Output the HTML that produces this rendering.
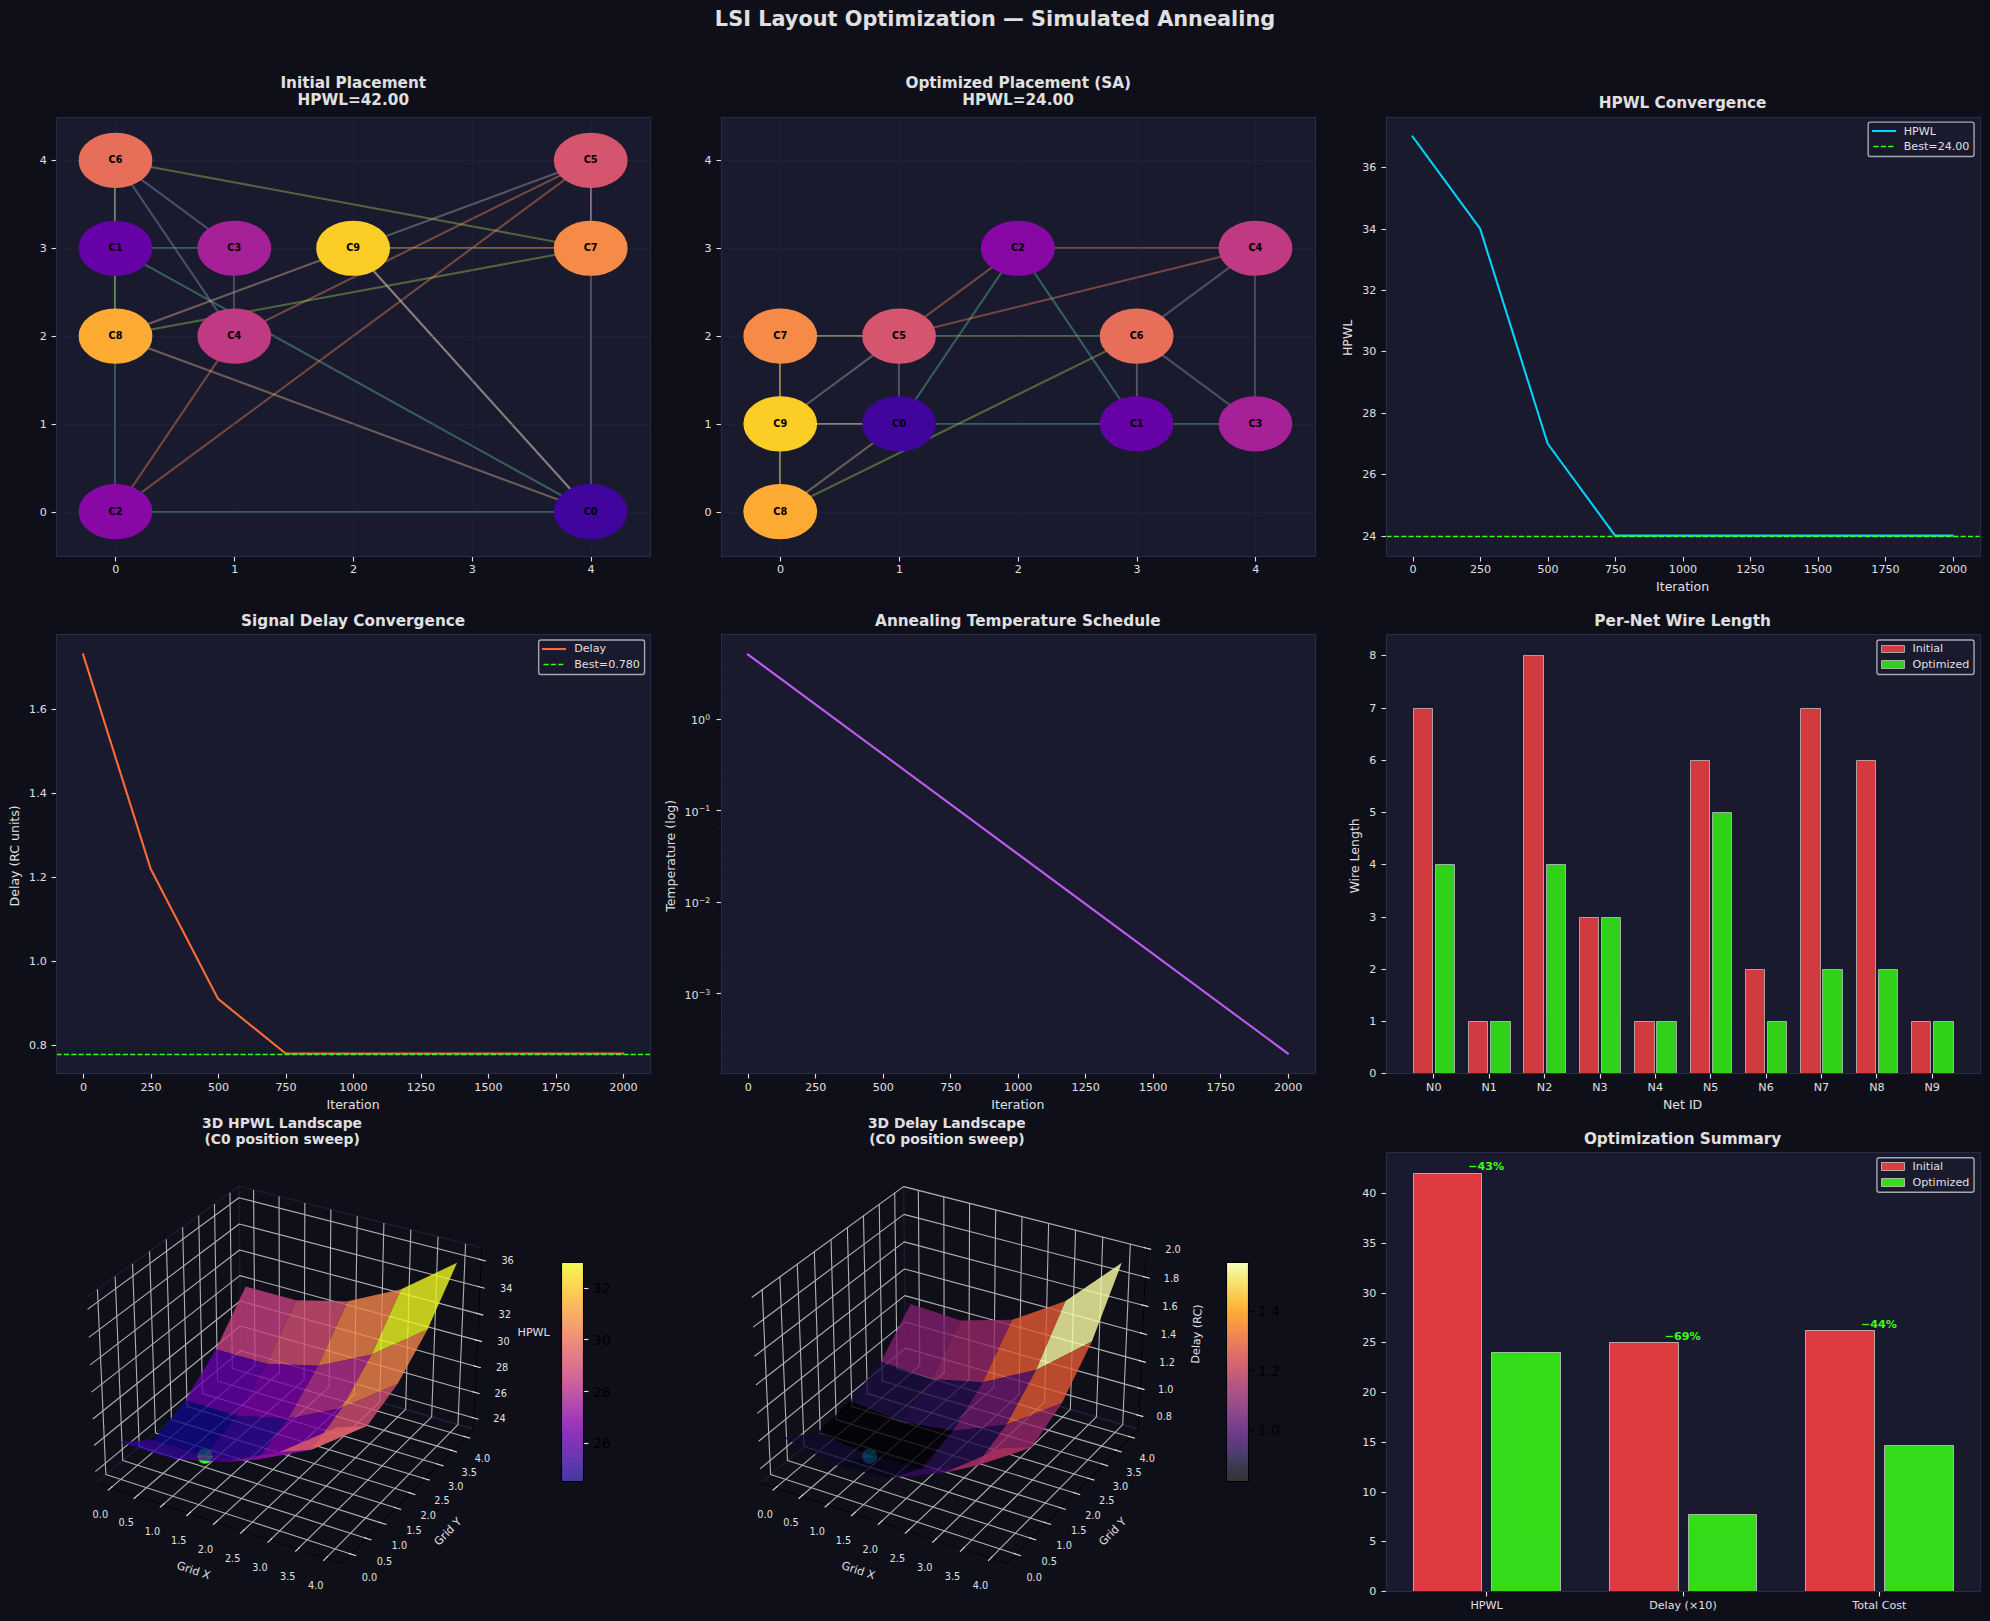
<!DOCTYPE html>
<html lang="en"><head><meta charset="utf-8"><title>LSI Layout Optimization — Simulated Annealing</title>
<style>html,body{margin:0;padding:0;background:#0f0f1a;}body{width:1990px;height:1621px;overflow:hidden;font-family:"DejaVu Sans","Liberation Sans",sans-serif;}svg{display:block;}</style>
</head><body>
<svg width="1990" height="1621" viewBox="0 0 1432.8 1167.12">
<defs><linearGradient id="cbgrad1" x1="0" y1="1" x2="0" y2="0"><stop offset="0.00228" stop-color="#100788" /><stop offset="0.00685" stop-color="#130789" /><stop offset="0.01142" stop-color="#16078a" /><stop offset="0.01598" stop-color="#19068c" /><stop offset="0.02055" stop-color="#1b068d" /><stop offset="0.02511" stop-color="#1d068e" /><stop offset="0.02968" stop-color="#220690" /><stop offset="0.03425" stop-color="#240691" /><stop offset="0.03881" stop-color="#260591" /><stop offset="0.04338" stop-color="#280592" /><stop offset="0.04795" stop-color="#2a0593" /><stop offset="0.05251" stop-color="#2c0594" /><stop offset="0.05708" stop-color="#2f0596" /><stop offset="0.06164" stop-color="#310597" /><stop offset="0.06621" stop-color="#330597" /><stop offset="0.07078" stop-color="#350498" /><stop offset="0.07534" stop-color="#370499" /><stop offset="0.07991" stop-color="#38049a" /><stop offset="0.08447" stop-color="#3c049b" /><stop offset="0.08904" stop-color="#3e049c" /><stop offset="0.09361" stop-color="#3f049c" /><stop offset="0.09817" stop-color="#41049d" /><stop offset="0.10274" stop-color="#43039e" /><stop offset="0.10731" stop-color="#44039e" /><stop offset="0.11187" stop-color="#48039f" /><stop offset="0.11644" stop-color="#4903a0" /><stop offset="0.12100" stop-color="#4b03a1" /><stop offset="0.12557" stop-color="#4c02a1" /><stop offset="0.13014" stop-color="#4e02a2" /><stop offset="0.13470" stop-color="#5002a2" /><stop offset="0.13927" stop-color="#5302a3" /><stop offset="0.14384" stop-color="#5502a4" /><stop offset="0.14840" stop-color="#5601a4" /><stop offset="0.15297" stop-color="#5801a4" /><stop offset="0.15753" stop-color="#5901a5" /><stop offset="0.16210" stop-color="#5b01a5" /><stop offset="0.16667" stop-color="#5e01a6" /><stop offset="0.17123" stop-color="#6001a6" /><stop offset="0.17580" stop-color="#6100a7" /><stop offset="0.18037" stop-color="#6300a7" /><stop offset="0.18493" stop-color="#6400a7" /><stop offset="0.18950" stop-color="#6600a7" /><stop offset="0.19406" stop-color="#6900a8" /><stop offset="0.19863" stop-color="#6a00a8" /><stop offset="0.20320" stop-color="#6c00a8" /><stop offset="0.20776" stop-color="#6e00a8" /><stop offset="0.21233" stop-color="#6f00a8" /><stop offset="0.21689" stop-color="#7100a8" /><stop offset="0.22146" stop-color="#7401a8" /><stop offset="0.22603" stop-color="#7501a8" /><stop offset="0.23059" stop-color="#7701a8" /><stop offset="0.23516" stop-color="#7801a8" /><stop offset="0.23973" stop-color="#7a02a8" /><stop offset="0.24429" stop-color="#7b02a8" /><stop offset="0.24886" stop-color="#7e03a8" /><stop offset="0.25342" stop-color="#8004a8" /><stop offset="0.25799" stop-color="#8104a7" /><stop offset="0.26256" stop-color="#8305a7" /><stop offset="0.26712" stop-color="#8405a7" /><stop offset="0.27169" stop-color="#8606a6" /><stop offset="0.27626" stop-color="#8808a6" /><stop offset="0.28082" stop-color="#8a09a5" /><stop offset="0.28539" stop-color="#8b0aa5" /><stop offset="0.28995" stop-color="#8d0ba5" /><stop offset="0.29452" stop-color="#8e0ca4" /><stop offset="0.29909" stop-color="#8f0da4" /><stop offset="0.30365" stop-color="#920fa3" /><stop offset="0.30822" stop-color="#9410a2" /><stop offset="0.31279" stop-color="#9511a1" /><stop offset="0.31735" stop-color="#9613a1" /><stop offset="0.32192" stop-color="#9814a0" /><stop offset="0.32648" stop-color="#99159f" /><stop offset="0.33105" stop-color="#9c179e" /><stop offset="0.33562" stop-color="#9d189d" /><stop offset="0.34018" stop-color="#9e199d" /><stop offset="0.34475" stop-color="#a01a9c" /><stop offset="0.34932" stop-color="#a11b9b" /><stop offset="0.35388" stop-color="#a21d9a" /><stop offset="0.35845" stop-color="#a51f99" /><stop offset="0.36301" stop-color="#a62098" /><stop offset="0.36758" stop-color="#a72197" /><stop offset="0.37215" stop-color="#a82296" /><stop offset="0.37671" stop-color="#aa2395" /><stop offset="0.38128" stop-color="#ab2494" /><stop offset="0.38584" stop-color="#ad2793" /><stop offset="0.39041" stop-color="#ae2892" /><stop offset="0.39498" stop-color="#b02991" /><stop offset="0.39954" stop-color="#b12a90" /><stop offset="0.40411" stop-color="#b22b8f" /><stop offset="0.40868" stop-color="#b32c8e" /><stop offset="0.41324" stop-color="#b52f8c" /><stop offset="0.41781" stop-color="#b6308b" /><stop offset="0.42237" stop-color="#b7318a" /><stop offset="0.42694" stop-color="#b83289" /><stop offset="0.43151" stop-color="#ba3388" /><stop offset="0.43607" stop-color="#bb3488" /><stop offset="0.44064" stop-color="#bd3786" /><stop offset="0.44521" stop-color="#be3885" /><stop offset="0.44977" stop-color="#bf3984" /><stop offset="0.45434" stop-color="#c03a83" /><stop offset="0.45890" stop-color="#c13b82" /><stop offset="0.46347" stop-color="#c23c81" /><stop offset="0.46804" stop-color="#c43e7f" /><stop offset="0.47260" stop-color="#c5407e" /><stop offset="0.47717" stop-color="#c6417d" /><stop offset="0.48174" stop-color="#c7427c" /><stop offset="0.48630" stop-color="#c8437b" /><stop offset="0.49087" stop-color="#c9447a" /><stop offset="0.49543" stop-color="#cb4679" /><stop offset="0.50000" stop-color="#cc4778" /><stop offset="0.50457" stop-color="#cc4977" /><stop offset="0.50913" stop-color="#cd4a76" /><stop offset="0.51370" stop-color="#ce4b75" /><stop offset="0.51826" stop-color="#cf4c74" /><stop offset="0.52283" stop-color="#d14e72" /><stop offset="0.52740" stop-color="#d24f71" /><stop offset="0.53196" stop-color="#d35171" /><stop offset="0.53653" stop-color="#d45270" /><stop offset="0.54110" stop-color="#d5536f" /><stop offset="0.54566" stop-color="#d5546e" /><stop offset="0.55023" stop-color="#d7566c" /><stop offset="0.55479" stop-color="#d8576b" /><stop offset="0.55936" stop-color="#d9586a" /><stop offset="0.56393" stop-color="#da5a6a" /><stop offset="0.56849" stop-color="#da5b69" /><stop offset="0.57306" stop-color="#db5c68" /><stop offset="0.57763" stop-color="#dd5e66" /><stop offset="0.58219" stop-color="#de5f65" /><stop offset="0.58676" stop-color="#de6164" /><stop offset="0.59132" stop-color="#df6263" /><stop offset="0.59589" stop-color="#e06363" /><stop offset="0.60046" stop-color="#e16462" /><stop offset="0.60502" stop-color="#e26660" /><stop offset="0.60959" stop-color="#e3685f" /><stop offset="0.61416" stop-color="#e4695e" /><stop offset="0.61872" stop-color="#e56a5d" /><stop offset="0.62329" stop-color="#e56b5d" /><stop offset="0.62785" stop-color="#e66c5c" /><stop offset="0.63242" stop-color="#e76f5a" /><stop offset="0.63699" stop-color="#e87059" /><stop offset="0.64155" stop-color="#e97158" /><stop offset="0.64612" stop-color="#e97257" /><stop offset="0.65068" stop-color="#ea7457" /><stop offset="0.65525" stop-color="#eb7556" /><stop offset="0.65982" stop-color="#ec7754" /><stop offset="0.66438" stop-color="#ed7953" /><stop offset="0.66895" stop-color="#ed7a52" /><stop offset="0.67352" stop-color="#ee7b51" /><stop offset="0.67808" stop-color="#ef7c51" /><stop offset="0.68265" stop-color="#ef7e50" /><stop offset="0.68721" stop-color="#f0804e" /><stop offset="0.69178" stop-color="#f1814d" /><stop offset="0.69635" stop-color="#f1834c" /><stop offset="0.70091" stop-color="#f2844b" /><stop offset="0.70548" stop-color="#f3854b" /><stop offset="0.71005" stop-color="#f3874a" /><stop offset="0.71461" stop-color="#f48948" /><stop offset="0.71918" stop-color="#f58b47" /><stop offset="0.72374" stop-color="#f58c46" /><stop offset="0.72831" stop-color="#f68d45" /><stop offset="0.73288" stop-color="#f68f44" /><stop offset="0.73744" stop-color="#f79044" /><stop offset="0.74201" stop-color="#f79342" /><stop offset="0.74658" stop-color="#f89441" /><stop offset="0.75114" stop-color="#f89540" /><stop offset="0.75571" stop-color="#f9973f" /><stop offset="0.76027" stop-color="#f9983e" /><stop offset="0.76484" stop-color="#f99a3e" /><stop offset="0.76941" stop-color="#fa9c3c" /><stop offset="0.77397" stop-color="#fa9e3b" /><stop offset="0.77854" stop-color="#fb9f3a" /><stop offset="0.78311" stop-color="#fba139" /><stop offset="0.78767" stop-color="#fba238" /><stop offset="0.79224" stop-color="#fca338" /><stop offset="0.79680" stop-color="#fca636" /><stop offset="0.80137" stop-color="#fca835" /><stop offset="0.80594" stop-color="#fca934" /><stop offset="0.81050" stop-color="#fdab33" /><stop offset="0.81507" stop-color="#fdac33" /><stop offset="0.81963" stop-color="#fdae32" /><stop offset="0.82420" stop-color="#fdb130" /><stop offset="0.82877" stop-color="#fdb22f" /><stop offset="0.83333" stop-color="#fdb42f" /><stop offset="0.83790" stop-color="#fdb52e" /><stop offset="0.84247" stop-color="#feb72d" /><stop offset="0.84703" stop-color="#feb82c" /><stop offset="0.85160" stop-color="#febb2b" /><stop offset="0.85616" stop-color="#febd2a" /><stop offset="0.86073" stop-color="#febe2a" /><stop offset="0.86530" stop-color="#fec029" /><stop offset="0.86986" stop-color="#fdc229" /><stop offset="0.87443" stop-color="#fdc328" /><stop offset="0.87900" stop-color="#fdc627" /><stop offset="0.88356" stop-color="#fdc827" /><stop offset="0.88813" stop-color="#fdca26" /><stop offset="0.89269" stop-color="#fdcb26" /><stop offset="0.89726" stop-color="#fccd25" /><stop offset="0.90183" stop-color="#fcce25" /><stop offset="0.90639" stop-color="#fcd225" /><stop offset="0.91096" stop-color="#fbd324" /><stop offset="0.91553" stop-color="#fbd524" /><stop offset="0.92009" stop-color="#fbd724" /><stop offset="0.92466" stop-color="#fad824" /><stop offset="0.92922" stop-color="#fada24" /><stop offset="0.93379" stop-color="#f9dd25" /><stop offset="0.93836" stop-color="#f8df25" /><stop offset="0.94292" stop-color="#f8e125" /><stop offset="0.94749" stop-color="#f7e225" /><stop offset="0.95205" stop-color="#f7e425" /><stop offset="0.95662" stop-color="#f6e626" /><stop offset="0.96119" stop-color="#f5e926" /><stop offset="0.96575" stop-color="#f5eb27" /><stop offset="0.97032" stop-color="#f4ed27" /><stop offset="0.97489" stop-color="#f3ee27" /><stop offset="0.97945" stop-color="#f3f027" /><stop offset="0.98402" stop-color="#f2f227" /><stop offset="0.98858" stop-color="#f1f525" /><stop offset="0.99315" stop-color="#f0f724" /><stop offset="0.99772" stop-color="#f0f921" /></linearGradient><linearGradient id="cbgrad2" x1="0" y1="1" x2="0" y2="0"><stop offset="0.00228" stop-color="#010005" /><stop offset="0.00685" stop-color="#010106" /><stop offset="0.01142" stop-color="#010108" /><stop offset="0.01598" stop-color="#02010a" /><stop offset="0.02055" stop-color="#02020c" /><stop offset="0.02511" stop-color="#02020e" /><stop offset="0.02968" stop-color="#040312" /><stop offset="0.03425" stop-color="#040314" /><stop offset="0.03881" stop-color="#050417" /><stop offset="0.04338" stop-color="#060419" /><stop offset="0.04795" stop-color="#07051b" /><stop offset="0.05251" stop-color="#08051d" /><stop offset="0.05708" stop-color="#0a0722" /><stop offset="0.06164" stop-color="#0b0724" /><stop offset="0.06621" stop-color="#0c0826" /><stop offset="0.07078" stop-color="#0d0829" /><stop offset="0.07534" stop-color="#0e092b" /><stop offset="0.07991" stop-color="#10092d" /><stop offset="0.08447" stop-color="#120a32" /><stop offset="0.08904" stop-color="#140b34" /><stop offset="0.09361" stop-color="#150b37" /><stop offset="0.09817" stop-color="#160b39" /><stop offset="0.10274" stop-color="#180c3c" /><stop offset="0.10731" stop-color="#190c3e" /><stop offset="0.11187" stop-color="#1c0c43" /><stop offset="0.11644" stop-color="#1e0c45" /><stop offset="0.12100" stop-color="#1f0c48" /><stop offset="0.12557" stop-color="#210c4a" /><stop offset="0.13014" stop-color="#230c4c" /><stop offset="0.13470" stop-color="#240c4f" /><stop offset="0.13927" stop-color="#280b53" /><stop offset="0.14384" stop-color="#290b55" /><stop offset="0.14840" stop-color="#2b0b57" /><stop offset="0.15297" stop-color="#2d0b59" /><stop offset="0.15753" stop-color="#2f0a5b" /><stop offset="0.16210" stop-color="#310a5c" /><stop offset="0.16667" stop-color="#340a5f" /><stop offset="0.17123" stop-color="#360961" /><stop offset="0.17580" stop-color="#380962" /><stop offset="0.18037" stop-color="#390963" /><stop offset="0.18493" stop-color="#3b0964" /><stop offset="0.18950" stop-color="#3d0965" /><stop offset="0.19406" stop-color="#400a67" /><stop offset="0.19863" stop-color="#420a68" /><stop offset="0.20320" stop-color="#440a68" /><stop offset="0.20776" stop-color="#450a69" /><stop offset="0.21233" stop-color="#470b6a" /><stop offset="0.21689" stop-color="#490b6a" /><stop offset="0.22146" stop-color="#4c0c6b" /><stop offset="0.22603" stop-color="#4d0d6c" /><stop offset="0.23059" stop-color="#4f0d6c" /><stop offset="0.23516" stop-color="#510e6c" /><stop offset="0.23973" stop-color="#520e6d" /><stop offset="0.24429" stop-color="#540f6d" /><stop offset="0.24886" stop-color="#57106e" /><stop offset="0.25342" stop-color="#59106e" /><stop offset="0.25799" stop-color="#5a116e" /><stop offset="0.26256" stop-color="#5c126e" /><stop offset="0.26712" stop-color="#5d126e" /><stop offset="0.27169" stop-color="#5f136e" /><stop offset="0.27626" stop-color="#62146e" /><stop offset="0.28082" stop-color="#64156e" /><stop offset="0.28539" stop-color="#65156e" /><stop offset="0.28995" stop-color="#67166e" /><stop offset="0.29452" stop-color="#69166e" /><stop offset="0.29909" stop-color="#6a176e" /><stop offset="0.30365" stop-color="#6d186e" /><stop offset="0.30822" stop-color="#6f196e" /><stop offset="0.31279" stop-color="#71196e" /><stop offset="0.31735" stop-color="#721a6e" /><stop offset="0.32192" stop-color="#741a6e" /><stop offset="0.32648" stop-color="#751b6e" /><stop offset="0.33105" stop-color="#781c6d" /><stop offset="0.33562" stop-color="#7a1d6d" /><stop offset="0.34018" stop-color="#7c1d6d" /><stop offset="0.34475" stop-color="#7d1e6d" /><stop offset="0.34932" stop-color="#7f1e6c" /><stop offset="0.35388" stop-color="#801f6c" /><stop offset="0.35845" stop-color="#84206b" /><stop offset="0.36301" stop-color="#85216b" /><stop offset="0.36758" stop-color="#87216b" /><stop offset="0.37215" stop-color="#88226a" /><stop offset="0.37671" stop-color="#8a226a" /><stop offset="0.38128" stop-color="#8c2369" /><stop offset="0.38584" stop-color="#8f2469" /><stop offset="0.39041" stop-color="#902568" /><stop offset="0.39498" stop-color="#922568" /><stop offset="0.39954" stop-color="#932667" /><stop offset="0.40411" stop-color="#952667" /><stop offset="0.40868" stop-color="#972766" /><stop offset="0.41324" stop-color="#9a2865" /><stop offset="0.41781" stop-color="#9b2964" /><stop offset="0.42237" stop-color="#9d2964" /><stop offset="0.42694" stop-color="#9f2a63" /><stop offset="0.43151" stop-color="#a02a63" /><stop offset="0.43607" stop-color="#a22b62" /><stop offset="0.44064" stop-color="#a52c60" /><stop offset="0.44521" stop-color="#a62d60" /><stop offset="0.44977" stop-color="#a82e5f" /><stop offset="0.45434" stop-color="#a92e5e" /><stop offset="0.45890" stop-color="#ab2f5e" /><stop offset="0.46347" stop-color="#ad305d" /><stop offset="0.46804" stop-color="#b0315b" /><stop offset="0.47260" stop-color="#b1325a" /><stop offset="0.47717" stop-color="#b3325a" /><stop offset="0.48174" stop-color="#b43359" /><stop offset="0.48630" stop-color="#b63458" /><stop offset="0.49087" stop-color="#b73557" /><stop offset="0.49543" stop-color="#ba3655" /><stop offset="0.50000" stop-color="#bc3754" /><stop offset="0.50457" stop-color="#bd3853" /><stop offset="0.50913" stop-color="#bf3952" /><stop offset="0.51370" stop-color="#c03a51" /><stop offset="0.51826" stop-color="#c13a50" /><stop offset="0.52283" stop-color="#c43c4e" /><stop offset="0.52740" stop-color="#c63d4d" /><stop offset="0.53196" stop-color="#c73e4c" /><stop offset="0.53653" stop-color="#c83f4b" /><stop offset="0.54110" stop-color="#ca404a" /><stop offset="0.54566" stop-color="#cb4149" /><stop offset="0.55023" stop-color="#ce4347" /><stop offset="0.55479" stop-color="#cf4446" /><stop offset="0.55936" stop-color="#d04545" /><stop offset="0.56393" stop-color="#d24644" /><stop offset="0.56849" stop-color="#d34743" /><stop offset="0.57306" stop-color="#d44842" /><stop offset="0.57763" stop-color="#d74b3f" /><stop offset="0.58219" stop-color="#d84c3e" /><stop offset="0.58676" stop-color="#d94d3d" /><stop offset="0.59132" stop-color="#da4e3c" /><stop offset="0.59589" stop-color="#db503b" /><stop offset="0.60046" stop-color="#dd513a" /><stop offset="0.60502" stop-color="#df5337" /><stop offset="0.60959" stop-color="#e05536" /><stop offset="0.61416" stop-color="#e15635" /><stop offset="0.61872" stop-color="#e25734" /><stop offset="0.62329" stop-color="#e35933" /><stop offset="0.62785" stop-color="#e45a31" /><stop offset="0.63242" stop-color="#e65d2f" /><stop offset="0.63699" stop-color="#e75e2e" /><stop offset="0.64155" stop-color="#e8602d" /><stop offset="0.64612" stop-color="#e9612b" /><stop offset="0.65068" stop-color="#ea632a" /><stop offset="0.65525" stop-color="#eb6429" /><stop offset="0.65982" stop-color="#ec6726" /><stop offset="0.66438" stop-color="#ed6925" /><stop offset="0.66895" stop-color="#ee6a24" /><stop offset="0.67352" stop-color="#ef6c23" /><stop offset="0.67808" stop-color="#ef6e21" /><stop offset="0.68265" stop-color="#f06f20" /><stop offset="0.68721" stop-color="#f1731d" /><stop offset="0.69178" stop-color="#f2741c" /><stop offset="0.69635" stop-color="#f3761b" /><stop offset="0.70091" stop-color="#f37819" /><stop offset="0.70548" stop-color="#f47918" /><stop offset="0.71005" stop-color="#f57b17" /><stop offset="0.71461" stop-color="#f67e14" /><stop offset="0.71918" stop-color="#f68013" /><stop offset="0.72374" stop-color="#f78212" /><stop offset="0.72831" stop-color="#f78410" /><stop offset="0.73288" stop-color="#f8850f" /><stop offset="0.73744" stop-color="#f8870e" /><stop offset="0.74201" stop-color="#f98b0b" /><stop offset="0.74658" stop-color="#f98c0a" /><stop offset="0.75114" stop-color="#f98e09" /><stop offset="0.75571" stop-color="#fa9008" /><stop offset="0.76027" stop-color="#fa9207" /><stop offset="0.76484" stop-color="#fa9407" /><stop offset="0.76941" stop-color="#fb9706" /><stop offset="0.77397" stop-color="#fb9906" /><stop offset="0.77854" stop-color="#fb9b06" /><stop offset="0.78311" stop-color="#fb9d07" /><stop offset="0.78767" stop-color="#fc9f07" /><stop offset="0.79224" stop-color="#fca108" /><stop offset="0.79680" stop-color="#fca50a" /><stop offset="0.80137" stop-color="#fca60c" /><stop offset="0.80594" stop-color="#fca80d" /><stop offset="0.81050" stop-color="#fcaa0f" /><stop offset="0.81507" stop-color="#fcac11" /><stop offset="0.81963" stop-color="#fcae12" /><stop offset="0.82420" stop-color="#fcb216" /><stop offset="0.82877" stop-color="#fcb418" /><stop offset="0.83333" stop-color="#fbb61a" /><stop offset="0.83790" stop-color="#fbb81d" /><stop offset="0.84247" stop-color="#fbba1f" /><stop offset="0.84703" stop-color="#fbbc21" /><stop offset="0.85160" stop-color="#fac026" /><stop offset="0.85616" stop-color="#fac228" /><stop offset="0.86073" stop-color="#fac42a" /><stop offset="0.86530" stop-color="#fac62d" /><stop offset="0.86986" stop-color="#f9c72f" /><stop offset="0.87443" stop-color="#f9c932" /><stop offset="0.87900" stop-color="#f8cd37" /><stop offset="0.88356" stop-color="#f8cf3a" /><stop offset="0.88813" stop-color="#f7d13d" /><stop offset="0.89269" stop-color="#f7d340" /><stop offset="0.89726" stop-color="#f6d543" /><stop offset="0.90183" stop-color="#f6d746" /><stop offset="0.90639" stop-color="#f5db4c" /><stop offset="0.91096" stop-color="#f4dd4f" /><stop offset="0.91553" stop-color="#f4df53" /><stop offset="0.92009" stop-color="#f4e156" /><stop offset="0.92466" stop-color="#f3e35a" /><stop offset="0.92922" stop-color="#f3e55d" /><stop offset="0.93379" stop-color="#f2e865" /><stop offset="0.93836" stop-color="#f2ea69" /><stop offset="0.94292" stop-color="#f1ec6d" /><stop offset="0.94749" stop-color="#f1ed71" /><stop offset="0.95205" stop-color="#f1ef75" /><stop offset="0.95662" stop-color="#f1f179" /><stop offset="0.96119" stop-color="#f2f482" /><stop offset="0.96575" stop-color="#f3f586" /><stop offset="0.97032" stop-color="#f3f68a" /><stop offset="0.97489" stop-color="#f4f88e" /><stop offset="0.97945" stop-color="#f5f992" /><stop offset="0.98402" stop-color="#f6fa96" /><stop offset="0.98858" stop-color="#f9fc9d" /><stop offset="0.99315" stop-color="#fafda1" /><stop offset="0.99772" stop-color="#fcffa4" /></linearGradient></defs><defs>
<style type="text/css">*{stroke-linejoin: round; stroke-linecap: butt}</style>
</defs>
<g id="figure_1">
<g id="patch_1">
<path d="M 0.0000 1167.1200 L 1432.8000 1167.1200 L 1432.8000 0.0000 L 0.0000 0.0000 z" style="fill: #0f0f1a" />
</g>
<g id="axes_1">
<g id="patch_2">
<path d="M 40.3200 400.3200 L 468.0000 400.3200 L 468.0000 84.2400 L 40.3200 84.2400 z" style="fill: #1a1a2e" />
</g>
<g id="line2d_1">
<path d="M 425.304 368.388  L 83.16 178.74  " clip-path="url(#pe0b741d5a0)" style="fill: none; stroke: #66c2a5; stroke-opacity: 0.4; stroke-width: 1.5; stroke-linecap: square" />
</g>
<g id="line2d_2">
<path d="M 425.5200 368.6400 L 82.8000 368.6400" clip-path="url(#pe0b741d5a0)" style="fill: none; stroke: #66c2a5; stroke-opacity: 0.4; stroke-width: 1.5; stroke-linecap: square" />
</g>
<g id="line2d_3">
<path d="M 82.8000 178.5600 L 82.8000 368.6400" clip-path="url(#pe0b741d5a0)" style="fill: none; stroke: #66c2a5; stroke-opacity: 0.4; stroke-width: 1.5; stroke-linecap: square" />
</g>
<g id="line2d_4">
<path d="M 82.8000 178.5600 L 168.4800 178.5600" clip-path="url(#pe0b741d5a0)" style="fill: none; stroke: #66c2a5; stroke-opacity: 0.4; stroke-width: 1.5; stroke-linecap: square" />
</g>
<g id="line2d_5">
<path d="M 83.16 368.388  L 168.696 241.956  " clip-path="url(#pe0b741d5a0)" style="fill: none; stroke: #fc8d62; stroke-opacity: 0.4; stroke-width: 1.5; stroke-linecap: square" />
</g>
<g id="line2d_6">
<path d="M 83.16 368.388  L 425.304 115.524  " clip-path="url(#pe0b741d5a0)" style="fill: none; stroke: #fc8d62; stroke-opacity: 0.4; stroke-width: 1.5; stroke-linecap: square" />
</g>
<g id="line2d_7">
<path d="M 168.696 241.956  L 425.304 115.524  " clip-path="url(#pe0b741d5a0)" style="fill: none; stroke: #fc8d62; stroke-opacity: 0.4; stroke-width: 1.5; stroke-linecap: square" />
</g>
<g id="line2d_8">
<path d="M 168.4800 178.5600 L 168.4800 241.9200" clip-path="url(#pe0b741d5a0)" style="fill: none; stroke: #8da0cb; stroke-opacity: 0.4; stroke-width: 1.5; stroke-linecap: square" />
</g>
<g id="line2d_9">
<path d="M 168.696 178.74  L 83.16 115.524  " clip-path="url(#pe0b741d5a0)" style="fill: none; stroke: #8da0cb; stroke-opacity: 0.4; stroke-width: 1.5; stroke-linecap: square" />
</g>
<g id="line2d_10">
<path d="M 168.696 241.956  L 83.16 115.524  " clip-path="url(#pe0b741d5a0)" style="fill: none; stroke: #8da0cb; stroke-opacity: 0.4; stroke-width: 1.5; stroke-linecap: square" />
</g>
<g id="line2d_11">
<path d="M 425.5200 115.2000 L 425.5200 178.5600" clip-path="url(#pe0b741d5a0)" style="fill: none; stroke: #e78ac3; stroke-opacity: 0.4; stroke-width: 1.5; stroke-linecap: square" />
</g>
<g id="line2d_12">
<path d="M 83.16 115.524  L 425.304 178.74  " clip-path="url(#pe0b741d5a0)" style="fill: none; stroke: #a6d854; stroke-opacity: 0.4; stroke-width: 1.5; stroke-linecap: square" />
</g>
<g id="line2d_13">
<path d="M 82.8000 115.2000 L 82.8000 241.9200" clip-path="url(#pe0b741d5a0)" style="fill: none; stroke: #a6d854; stroke-opacity: 0.4; stroke-width: 1.5; stroke-linecap: square" />
</g>
<g id="line2d_14">
<path d="M 425.304 178.74  L 83.16 241.956  " clip-path="url(#pe0b741d5a0)" style="fill: none; stroke: #a6d854; stroke-opacity: 0.4; stroke-width: 1.5; stroke-linecap: square" />
</g>
<g id="line2d_15">
<path d="M 425.5200 178.5600 L 254.1600 178.5600" clip-path="url(#pe0b741d5a0)" style="fill: none; stroke: #ffd92f; stroke-opacity: 0.4; stroke-width: 1.5; stroke-linecap: square" />
</g>
<g id="line2d_16">
<path d="M 425.304 368.388  L 83.16 241.956  " clip-path="url(#pe0b741d5a0)" style="fill: none; stroke: #e5c494; stroke-opacity: 0.4; stroke-width: 1.5; stroke-linecap: square" />
</g>
<g id="line2d_17">
<path d="M 425.304 368.388  L 254.232 178.74  " clip-path="url(#pe0b741d5a0)" style="fill: none; stroke: #e5c494; stroke-opacity: 0.4; stroke-width: 1.5; stroke-linecap: square" />
</g>
<g id="line2d_18">
<path d="M 83.16 241.956  L 254.232 178.74  " clip-path="url(#pe0b741d5a0)" style="fill: none; stroke: #e5c494; stroke-opacity: 0.4; stroke-width: 1.5; stroke-linecap: square" />
</g>
<g id="line2d_19">
<path d="M 425.5200 368.6400 L 425.5200 115.2000" clip-path="url(#pe0b741d5a0)" style="fill: none; stroke: #b3b3b3; stroke-opacity: 0.4; stroke-width: 1.5; stroke-linecap: square" />
</g>
<g id="line2d_20">
<path d="M 425.304 368.388  L 254.232 178.74  " clip-path="url(#pe0b741d5a0)" style="fill: none; stroke: #b3b3b3; stroke-opacity: 0.4; stroke-width: 1.5; stroke-linecap: square" />
</g>
<g id="line2d_21">
<path d="M 425.304 115.524  L 254.232 178.74  " clip-path="url(#pe0b741d5a0)" style="fill: none; stroke: #b3b3b3; stroke-opacity: 0.4; stroke-width: 1.5; stroke-linecap: square" />
</g>
<g id="line2d_22">
<path d="M 82.8000 178.5600 L 82.8000 115.2000" clip-path="url(#pe0b741d5a0)" style="fill: none; stroke: #b3b3b3; stroke-opacity: 0.4; stroke-width: 1.5; stroke-linecap: square" />
</g>
<g id="matplotlib.axis_1">
<g id="xtick_1">
<g id="line2d_23">
<path d="M 83.1600 400.6800 L 83.1600 84.6000" clip-path="url(#pe0b741d5a0)" style="fill: none; stroke: #2a2a4a; stroke-opacity: 0.3; stroke-width: 0.8; stroke-linecap: square" />
</g>
<g id="line2d_24">
<g>
<path d="M 83.1600 400.6800 L 83.1600 404.2800" style="stroke: #e0e0e0; stroke-width: 0.8; fill: #e0e0e0; stroke: #e0e0e0; stroke-width: 0.8" />
</g>
</g>
<g id="text_1" transform="translate(0.288 0.000)">
<text style="font-size: 8px; font-family: 'DejaVu Sans', 'Liberation Sans', sans-serif; text-anchor: middle; fill: #e0e0e0" x="83.16" y="412.756">0</text>
</g>
</g>
<g id="xtick_2">
<g id="line2d_25">
<path d="M 168.8400 400.6800 L 168.8400 84.6000" clip-path="url(#pe0b741d5a0)" style="fill: none; stroke: #2a2a4a; stroke-opacity: 0.3; stroke-width: 0.8; stroke-linecap: square" />
</g>
<g id="line2d_26">
<g>
<path d="M 168.8400 400.6800 L 168.8400 404.2800" style="stroke: #e0e0e0; stroke-width: 0.8; fill: #e0e0e0; stroke: #e0e0e0; stroke-width: 0.8" />
</g>
</g>
<g id="text_2" transform="translate(0.288 0.000)">
<text style="font-size: 8px; font-family: 'DejaVu Sans', 'Liberation Sans', sans-serif; text-anchor: middle; fill: #e0e0e0" x="168.696" y="412.756">1</text>
</g>
</g>
<g id="xtick_3">
<g id="line2d_27">
<path d="M 254.5200 400.6800 L 254.5200 84.6000" clip-path="url(#pe0b741d5a0)" style="fill: none; stroke: #2a2a4a; stroke-opacity: 0.3; stroke-width: 0.8; stroke-linecap: square" />
</g>
<g id="line2d_28">
<g>
<path d="M 254.5200 400.6800 L 254.5200 404.2800" style="stroke: #e0e0e0; stroke-width: 0.8; fill: #e0e0e0; stroke: #e0e0e0; stroke-width: 0.8" />
</g>
</g>
<g id="text_3" transform="translate(0.288 0.000)">
<text style="font-size: 8px; font-family: 'DejaVu Sans', 'Liberation Sans', sans-serif; text-anchor: middle; fill: #e0e0e0" x="254.232" y="412.756">2</text>
</g>
</g>
<g id="xtick_4">
<g id="line2d_29">
<path d="M 340.2000 400.6800 L 340.2000 84.6000" clip-path="url(#pe0b741d5a0)" style="fill: none; stroke: #2a2a4a; stroke-opacity: 0.3; stroke-width: 0.8; stroke-linecap: square" />
</g>
<g id="line2d_30">
<g>
<path d="M 340.2000 400.6800 L 340.2000 404.2800" style="stroke: #e0e0e0; stroke-width: 0.8; fill: #e0e0e0; stroke: #e0e0e0; stroke-width: 0.8" />
</g>
</g>
<g id="text_4" transform="translate(0.288 0.000)">
<text style="font-size: 8px; font-family: 'DejaVu Sans', 'Liberation Sans', sans-serif; text-anchor: middle; fill: #e0e0e0" x="339.768" y="412.756">3</text>
</g>
</g>
<g id="xtick_5">
<g id="line2d_31">
<path d="M 425.8800 400.6800 L 425.8800 84.6000" clip-path="url(#pe0b741d5a0)" style="fill: none; stroke: #2a2a4a; stroke-opacity: 0.3; stroke-width: 0.8; stroke-linecap: square" />
</g>
<g id="line2d_32">
<g>
<path d="M 425.8800 400.6800 L 425.8800 404.2800" style="stroke: #e0e0e0; stroke-width: 0.8; fill: #e0e0e0; stroke: #e0e0e0; stroke-width: 0.8" />
</g>
</g>
<g id="text_5" transform="translate(0.288 0.000)">
<text style="font-size: 8px; font-family: 'DejaVu Sans', 'Liberation Sans', sans-serif; text-anchor: middle; fill: #e0e0e0" x="425.304" y="412.756">4</text>
</g>
</g>
</g>
<g id="matplotlib.axis_2">
<g id="ytick_1">
<g id="line2d_33">
<path d="M 40.6800 369.0000 L 468.3600 369.0000" clip-path="url(#pe0b741d5a0)" style="fill: none; stroke: #2a2a4a; stroke-opacity: 0.3; stroke-width: 0.8; stroke-linecap: square" />
</g>
<g id="line2d_34">
<g>
<path d="M 40.6800 369.0000 L 37.0800 369.0000" style="stroke: #e0e0e0; stroke-width: 0.8; fill: #e0e0e0; stroke: #e0e0e0; stroke-width: 0.8" />
</g>
</g>
<g id="text_6" transform="translate(0.288 0.000)">
<text style="font-size: 8px; font-family: 'DejaVu Sans', 'Liberation Sans', sans-serif; text-anchor: end; fill: #e0e0e0" x="33.392" y="371.268">0</text>
</g>
</g>
<g id="ytick_2">
<g id="line2d_35">
<path d="M 40.6800 305.6400 L 468.3600 305.6400" clip-path="url(#pe0b741d5a0)" style="fill: none; stroke: #2a2a4a; stroke-opacity: 0.3; stroke-width: 0.8; stroke-linecap: square" />
</g>
<g id="line2d_36">
<g>
<path d="M 40.6800 305.6400 L 37.0800 305.6400" style="stroke: #e0e0e0; stroke-width: 0.8; fill: #e0e0e0; stroke: #e0e0e0; stroke-width: 0.8" />
</g>
</g>
<g id="text_7" transform="translate(0.288 0.000)">
<text style="font-size: 8px; font-family: 'DejaVu Sans', 'Liberation Sans', sans-serif; text-anchor: end; fill: #e0e0e0" x="33.392" y="308.052">1</text>
</g>
</g>
<g id="ytick_3">
<g id="line2d_37">
<path d="M 40.6800 242.2800 L 468.3600 242.2800" clip-path="url(#pe0b741d5a0)" style="fill: none; stroke: #2a2a4a; stroke-opacity: 0.3; stroke-width: 0.8; stroke-linecap: square" />
</g>
<g id="line2d_38">
<g>
<path d="M 40.6800 242.2800 L 37.0800 242.2800" style="stroke: #e0e0e0; stroke-width: 0.8; fill: #e0e0e0; stroke: #e0e0e0; stroke-width: 0.8" />
</g>
</g>
<g id="text_8" transform="translate(0.288 0.000)">
<text style="font-size: 8px; font-family: 'DejaVu Sans', 'Liberation Sans', sans-serif; text-anchor: end; fill: #e0e0e0" x="33.392" y="244.836">2</text>
</g>
</g>
<g id="ytick_4">
<g id="line2d_39">
<path d="M 40.6800 178.9200 L 468.3600 178.9200" clip-path="url(#pe0b741d5a0)" style="fill: none; stroke: #2a2a4a; stroke-opacity: 0.3; stroke-width: 0.8; stroke-linecap: square" />
</g>
<g id="line2d_40">
<g>
<path d="M 40.6800 178.9200 L 37.0800 178.9200" style="stroke: #e0e0e0; stroke-width: 0.8; fill: #e0e0e0; stroke: #e0e0e0; stroke-width: 0.8" />
</g>
</g>
<g id="text_9" transform="translate(0.288 0.000)">
<text style="font-size: 8px; font-family: 'DejaVu Sans', 'Liberation Sans', sans-serif; text-anchor: end; fill: #e0e0e0" x="33.392" y="181.62">3</text>
</g>
</g>
<g id="ytick_5">
<g id="line2d_41">
<path d="M 40.6800 115.5600 L 468.3600 115.5600" clip-path="url(#pe0b741d5a0)" style="fill: none; stroke: #2a2a4a; stroke-opacity: 0.3; stroke-width: 0.8; stroke-linecap: square" />
</g>
<g id="line2d_42">
<g>
<path d="M 40.6800 115.5600 L 37.0800 115.5600" style="stroke: #e0e0e0; stroke-width: 0.8; fill: #e0e0e0; stroke: #e0e0e0; stroke-width: 0.8" />
</g>
</g>
<g id="text_10" transform="translate(0.288 0.000)">
<text style="font-size: 8px; font-family: 'DejaVu Sans', 'Liberation Sans', sans-serif; text-anchor: end; fill: #e0e0e0" x="33.392" y="118.404">4</text>
</g>
</g>
</g>
<g id="patch_3">
<path d="M 40.6800 400.6800 L 40.6800 84.6000" style="fill: none; stroke: #2a2a4a; stroke-width: 0.8; stroke-linejoin: miter; stroke-linecap: square" />
</g>
<g id="patch_4">
<path d="M 468.3600 400.6800 L 468.3600 84.6000" style="fill: none; stroke: #2a2a4a; stroke-width: 0.8; stroke-linejoin: miter; stroke-linecap: square" />
</g>
<g id="patch_5">
<path d="M 40.6800 400.6800 L 468.3600 400.6800" style="fill: none; stroke: #2a2a4a; stroke-width: 0.8; stroke-linejoin: miter; stroke-linecap: square" />
</g>
<g id="patch_6">
<path d="M 40.6800 84.6000 L 468.3600 84.6000" style="fill: none; stroke: #2a2a4a; stroke-width: 0.8; stroke-linejoin: miter; stroke-linecap: square" />
</g>
<g id="patch_7">
<path d="M 425.304 387.3528  C 432.109324 387.3528 438.636835 385.354549 443.448926 381.798139  C 448.261016 378.241728 450.9648 373.417524 450.9648 368.388  C 450.9648 363.358476 448.261016 358.534272 443.448926 354.977861  C 438.636835 351.421451 432.109324 349.4232 425.304 349.4232  C 418.498676 349.4232 411.971165 351.421451 407.159074 354.977861  C 402.346984 358.534272 399.6432 363.358476 399.6432 368.388  C 399.6432 373.417524 402.346984 378.241728 407.159074 381.798139  C 411.971165 385.354549 418.498676 387.3528 425.304 387.3528  z " clip-path="url(#pe0b741d5a0)" style="fill: #41049d; stroke: #41049d; stroke-width: 1.8; stroke-linejoin: miter" />
</g>
<g id="patch_8">
<path d="M 83.16 197.7048  C 89.965324 197.7048 96.492835 195.706549 101.304926 192.150139  C 106.117016 188.593728 108.8208 183.769524 108.8208 178.74  C 108.8208 173.710476 106.117016 168.886272 101.304926 165.329861  C 96.492835 161.773451 89.965324 159.7752 83.16 159.7752  C 76.354676 159.7752 69.827165 161.773451 65.015074 165.329861  C 60.202984 168.886272 57.4992 173.710476 57.4992 178.74  C 57.4992 183.769524 60.202984 188.593728 65.015074 192.150139  C 69.827165 195.706549 76.354676 197.7048 83.16 197.7048  z " clip-path="url(#pe0b741d5a0)" style="fill: #6600a7; stroke: #6600a7; stroke-width: 1.8; stroke-linejoin: miter" />
</g>
<g id="patch_9">
<path d="M 83.16 387.3528  C 89.965324 387.3528 96.492835 385.354549 101.304926 381.798139  C 106.117016 378.241728 108.8208 373.417524 108.8208 368.388  C 108.8208 363.358476 106.117016 358.534272 101.304926 354.977861  C 96.492835 351.421451 89.965324 349.4232 83.16 349.4232  C 76.354676 349.4232 69.827165 351.421451 65.015074 354.977861  C 60.202984 358.534272 57.4992 363.358476 57.4992 368.388  C 57.4992 373.417524 60.202984 378.241728 65.015074 381.798139  C 69.827165 385.354549 76.354676 387.3528 83.16 387.3528  z " clip-path="url(#pe0b741d5a0)" style="fill: #8808a6; stroke: #8808a6; stroke-width: 1.8; stroke-linejoin: miter" />
</g>
<g id="patch_10">
<path d="M 168.696 197.7048  C 175.501324 197.7048 182.028835 195.706549 186.840926 192.150139  C 191.653016 188.593728 194.3568 183.769524 194.3568 178.74  C 194.3568 173.710476 191.653016 168.886272 186.840926 165.329861  C 182.028835 161.773451 175.501324 159.7752 168.696 159.7752  C 161.890676 159.7752 155.363165 161.773451 150.551074 165.329861  C 145.738984 168.886272 143.0352 173.710476 143.0352 178.74  C 143.0352 183.769524 145.738984 188.593728 150.551074 192.150139  C 155.363165 195.706549 161.890676 197.7048 168.696 197.7048  z " clip-path="url(#pe0b741d5a0)" style="fill: #a62098; stroke: #a62098; stroke-width: 1.8; stroke-linejoin: miter" />
</g>
<g id="patch_11">
<path d="M 168.696 260.9208  C 175.501324 260.9208 182.028835 258.922549 186.840926 255.366139  C 191.653016 251.809728 194.3568 246.985524 194.3568 241.956  C 194.3568 236.926476 191.653016 232.102272 186.840926 228.545861  C 182.028835 224.989451 175.501324 222.9912 168.696 222.9912  C 161.890676 222.9912 155.363165 224.989451 150.551074 228.545861  C 145.738984 232.102272 143.0352 236.926476 143.0352 241.956  C 143.0352 246.985524 145.738984 251.809728 150.551074 255.366139  C 155.363165 258.922549 161.890676 260.9208 168.696 260.9208  z " clip-path="url(#pe0b741d5a0)" style="fill: #c03a83; stroke: #c03a83; stroke-width: 1.8; stroke-linejoin: miter" />
</g>
<g id="patch_12">
<path d="M 425.304 134.4888  C 432.109324 134.4888 438.636835 132.490549 443.448926 128.934139  C 448.261016 125.377728 450.9648 120.553524 450.9648 115.524  C 450.9648 110.494476 448.261016 105.670272 443.448926 102.113861  C 438.636835 98.557451 432.109324 96.5592 425.304 96.5592  C 418.498676 96.5592 411.971165 98.557451 407.159074 102.113861  C 402.346984 105.670272 399.6432 110.494476 399.6432 115.524  C 399.6432 120.553524 402.346984 125.377728 407.159074 128.934139  C 411.971165 132.490549 418.498676 134.4888 425.304 134.4888  z " clip-path="url(#pe0b741d5a0)" style="fill: #d5546e; stroke: #d5546e; stroke-width: 1.8; stroke-linejoin: miter" />
</g>
<g id="patch_13">
<path d="M 83.16 134.4888  C 89.965324 134.4888 96.492835 132.490549 101.304926 128.934139  C 106.117016 125.377728 108.8208 120.553524 108.8208 115.524  C 108.8208 110.494476 106.117016 105.670272 101.304926 102.113861  C 96.492835 98.557451 89.965324 96.5592 83.16 96.5592  C 76.354676 96.5592 69.827165 98.557451 65.015074 102.113861  C 60.202984 105.670272 57.4992 110.494476 57.4992 115.524  C 57.4992 120.553524 60.202984 125.377728 65.015074 128.934139  C 69.827165 132.490549 76.354676 134.4888 83.16 134.4888  z " clip-path="url(#pe0b741d5a0)" style="fill: #e76f5a; stroke: #e76f5a; stroke-width: 1.8; stroke-linejoin: miter" />
</g>
<g id="patch_14">
<path d="M 425.304 197.7048  C 432.109324 197.7048 438.636835 195.706549 443.448926 192.150139  C 448.261016 188.593728 450.9648 183.769524 450.9648 178.74  C 450.9648 173.710476 448.261016 168.886272 443.448926 165.329861  C 438.636835 161.773451 432.109324 159.7752 425.304 159.7752  C 418.498676 159.7752 411.971165 161.773451 407.159074 165.329861  C 402.346984 168.886272 399.6432 173.710476 399.6432 178.74  C 399.6432 183.769524 402.346984 188.593728 407.159074 192.150139  C 411.971165 195.706549 418.498676 197.7048 425.304 197.7048  z " clip-path="url(#pe0b741d5a0)" style="fill: #f58b47; stroke: #f58b47; stroke-width: 1.8; stroke-linejoin: miter" />
</g>
<g id="patch_15">
<path d="M 83.16 260.9208  C 89.965324 260.9208 96.492835 258.922549 101.304926 255.366139  C 106.117016 251.809728 108.8208 246.985524 108.8208 241.956  C 108.8208 236.926476 106.117016 232.102272 101.304926 228.545861  C 96.492835 224.989451 89.965324 222.9912 83.16 222.9912  C 76.354676 222.9912 69.827165 224.989451 65.015074 228.545861  C 60.202984 232.102272 57.4992 236.926476 57.4992 241.956  C 57.4992 246.985524 60.202984 251.809728 65.015074 255.366139  C 69.827165 258.922549 76.354676 260.9208 83.16 260.9208  z " clip-path="url(#pe0b741d5a0)" style="fill: #fdab33; stroke: #fdab33; stroke-width: 1.8; stroke-linejoin: miter" />
</g>
<g id="patch_16">
<path d="M 254.232 197.7048  C 261.037324 197.7048 267.564835 195.706549 272.376926 192.150139  C 277.189016 188.593728 279.8928 183.769524 279.8928 178.74  C 279.8928 173.710476 277.189016 168.886272 272.376926 165.329861  C 267.564835 161.773451 261.037324 159.7752 254.232 159.7752  C 247.426676 159.7752 240.899165 161.773451 236.087074 165.329861  C 231.274984 168.886272 228.5712 173.710476 228.5712 178.74  C 228.5712 183.769524 231.274984 188.593728 236.087074 192.150139  C 240.899165 195.706549 247.426676 197.7048 254.232 197.7048  z " clip-path="url(#pe0b741d5a0)" style="fill: #fcce25; stroke: #fcce25; stroke-width: 1.8; stroke-linejoin: miter" />
</g>
<g id="text_11">
<text style="font-weight: 700; font-size: 11px; font-family: 'DejaVu Sans', 'Liberation Sans', sans-serif; fill: #e0e0e0" transform="translate(201.897 63.084)">Initial Placement</text>
<text style="font-weight: 700; font-size: 11px; font-family: 'DejaVu Sans', 'Liberation Sans', sans-serif; fill: #e0e0e0" transform="translate(214.137 75.612)">HPWL=42.00</text>
</g>
<g id="text_12">
<text style="font-weight: 700; font-size: 7px; font-family: 'DejaVu Sans', 'Liberation Sans', sans-serif; text-anchor: middle" x="425.304" y="370.548">C0</text>
</g>
<g id="text_13">
<text style="font-weight: 700; font-size: 7px; font-family: 'DejaVu Sans', 'Liberation Sans', sans-serif; text-anchor: middle" x="83.16" y="180.9">C1</text>
</g>
<g id="text_14">
<text style="font-weight: 700; font-size: 7px; font-family: 'DejaVu Sans', 'Liberation Sans', sans-serif; text-anchor: middle" x="83.16" y="370.548">C2</text>
</g>
<g id="text_15">
<text style="font-weight: 700; font-size: 7px; font-family: 'DejaVu Sans', 'Liberation Sans', sans-serif; text-anchor: middle" x="168.696" y="180.9">C3</text>
</g>
<g id="text_16">
<text style="font-weight: 700; font-size: 7px; font-family: 'DejaVu Sans', 'Liberation Sans', sans-serif; text-anchor: middle" x="168.696" y="244.116">C4</text>
</g>
<g id="text_17">
<text style="font-weight: 700; font-size: 7px; font-family: 'DejaVu Sans', 'Liberation Sans', sans-serif; text-anchor: middle" x="425.304" y="117.684">C5</text>
</g>
<g id="text_18">
<text style="font-weight: 700; font-size: 7px; font-family: 'DejaVu Sans', 'Liberation Sans', sans-serif; text-anchor: middle" x="83.16" y="117.684">C6</text>
</g>
<g id="text_19">
<text style="font-weight: 700; font-size: 7px; font-family: 'DejaVu Sans', 'Liberation Sans', sans-serif; text-anchor: middle" x="425.304" y="180.9">C7</text>
</g>
<g id="text_20">
<text style="font-weight: 700; font-size: 7px; font-family: 'DejaVu Sans', 'Liberation Sans', sans-serif; text-anchor: middle" x="83.16" y="244.116">C8</text>
</g>
<g id="text_21">
<text style="font-weight: 700; font-size: 7px; font-family: 'DejaVu Sans', 'Liberation Sans', sans-serif; text-anchor: middle" x="254.232" y="180.9">C9</text>
</g>
</g>
<g id="axes_2">
<g id="patch_17">
<path d="M 519.1200 400.3200 L 946.8000 400.3200 L 946.8000 84.2400 L 519.1200 84.2400 z" style="fill: #1a1a2e" />
</g>
<g id="line2d_43">
<path d="M 647.2800 305.2800 L 818.6400 305.2800" clip-path="url(#p495a6bb571)" style="fill: none; stroke: #66c2a5; stroke-opacity: 0.4; stroke-width: 1.5; stroke-linecap: square" />
</g>
<g id="line2d_44">
<path d="M 647.316 305.172  L 732.852 178.74  " clip-path="url(#p495a6bb571)" style="fill: none; stroke: #66c2a5; stroke-opacity: 0.4; stroke-width: 1.5; stroke-linecap: square" />
</g>
<g id="line2d_45">
<path d="M 818.388 305.172  L 732.852 178.74  " clip-path="url(#p495a6bb571)" style="fill: none; stroke: #66c2a5; stroke-opacity: 0.4; stroke-width: 1.5; stroke-linecap: square" />
</g>
<g id="line2d_46">
<path d="M 818.6400 305.2800 L 903.6000 305.2800" clip-path="url(#p495a6bb571)" style="fill: none; stroke: #66c2a5; stroke-opacity: 0.4; stroke-width: 1.5; stroke-linecap: square" />
</g>
<g id="line2d_47">
<path d="M 732.9600 178.5600 L 903.6000 178.5600" clip-path="url(#p495a6bb571)" style="fill: none; stroke: #fc8d62; stroke-opacity: 0.4; stroke-width: 1.5; stroke-linecap: square" />
</g>
<g id="line2d_48">
<path d="M 732.852 178.74  L 647.316 241.956  " clip-path="url(#p495a6bb571)" style="fill: none; stroke: #fc8d62; stroke-opacity: 0.4; stroke-width: 1.5; stroke-linecap: square" />
</g>
<g id="line2d_49">
<path d="M 903.924 178.74  L 647.316 241.956  " clip-path="url(#p495a6bb571)" style="fill: none; stroke: #fc8d62; stroke-opacity: 0.4; stroke-width: 1.5; stroke-linecap: square" />
</g>
<g id="line2d_50">
<path d="M 903.6000 305.2800 L 903.6000 178.5600" clip-path="url(#p495a6bb571)" style="fill: none; stroke: #8da0cb; stroke-opacity: 0.4; stroke-width: 1.5; stroke-linecap: square" />
</g>
<g id="line2d_51">
<path d="M 903.924 305.172  L 818.388 241.956  " clip-path="url(#p495a6bb571)" style="fill: none; stroke: #8da0cb; stroke-opacity: 0.4; stroke-width: 1.5; stroke-linecap: square" />
</g>
<g id="line2d_52">
<path d="M 903.924 178.74  L 818.388 241.956  " clip-path="url(#p495a6bb571)" style="fill: none; stroke: #8da0cb; stroke-opacity: 0.4; stroke-width: 1.5; stroke-linecap: square" />
</g>
<g id="line2d_53">
<path d="M 647.2800 241.9200 L 561.6000 241.9200" clip-path="url(#p495a6bb571)" style="fill: none; stroke: #e78ac3; stroke-opacity: 0.4; stroke-width: 1.5; stroke-linecap: square" />
</g>
<g id="line2d_54">
<path d="M 818.6400 241.9200 L 561.6000 241.9200" clip-path="url(#p495a6bb571)" style="fill: none; stroke: #a6d854; stroke-opacity: 0.4; stroke-width: 1.5; stroke-linecap: square" />
</g>
<g id="line2d_55">
<path d="M 818.388 241.956  L 561.78 368.388  " clip-path="url(#p495a6bb571)" style="fill: none; stroke: #a6d854; stroke-opacity: 0.4; stroke-width: 1.5; stroke-linecap: square" />
</g>
<g id="line2d_56">
<path d="M 561.6000 241.9200 L 561.6000 368.6400" clip-path="url(#p495a6bb571)" style="fill: none; stroke: #a6d854; stroke-opacity: 0.4; stroke-width: 1.5; stroke-linecap: square" />
</g>
<g id="line2d_57">
<path d="M 561.6000 241.9200 L 561.6000 305.2800" clip-path="url(#p495a6bb571)" style="fill: none; stroke: #ffd92f; stroke-opacity: 0.4; stroke-width: 1.5; stroke-linecap: square" />
</g>
<g id="line2d_58">
<path d="M 647.316 305.172  L 561.78 368.388  " clip-path="url(#p495a6bb571)" style="fill: none; stroke: #e5c494; stroke-opacity: 0.4; stroke-width: 1.5; stroke-linecap: square" />
</g>
<g id="line2d_59">
<path d="M 647.2800 305.2800 L 561.6000 305.2800" clip-path="url(#p495a6bb571)" style="fill: none; stroke: #e5c494; stroke-opacity: 0.4; stroke-width: 1.5; stroke-linecap: square" />
</g>
<g id="line2d_60">
<path d="M 561.6000 368.6400 L 561.6000 305.2800" clip-path="url(#p495a6bb571)" style="fill: none; stroke: #e5c494; stroke-opacity: 0.4; stroke-width: 1.5; stroke-linecap: square" />
</g>
<g id="line2d_61">
<path d="M 647.2800 305.2800 L 647.2800 241.9200" clip-path="url(#p495a6bb571)" style="fill: none; stroke: #b3b3b3; stroke-opacity: 0.4; stroke-width: 1.5; stroke-linecap: square" />
</g>
<g id="line2d_62">
<path d="M 647.2800 305.2800 L 561.6000 305.2800" clip-path="url(#p495a6bb571)" style="fill: none; stroke: #b3b3b3; stroke-opacity: 0.4; stroke-width: 1.5; stroke-linecap: square" />
</g>
<g id="line2d_63">
<path d="M 647.316 241.956  L 561.78 305.172  " clip-path="url(#p495a6bb571)" style="fill: none; stroke: #b3b3b3; stroke-opacity: 0.4; stroke-width: 1.5; stroke-linecap: square" />
</g>
<g id="line2d_64">
<path d="M 818.6400 305.2800 L 818.6400 241.9200" clip-path="url(#p495a6bb571)" style="fill: none; stroke: #b3b3b3; stroke-opacity: 0.4; stroke-width: 1.5; stroke-linecap: square" />
</g>
<g id="matplotlib.axis_3">
<g id="xtick_6">
<g id="line2d_65">
<path d="M 561.9600 400.6800 L 561.9600 84.6000" clip-path="url(#p495a6bb571)" style="fill: none; stroke: #2a2a4a; stroke-opacity: 0.3; stroke-width: 0.8; stroke-linecap: square" />
</g>
<g id="line2d_66">
<g>
<path d="M 561.9600 400.6800 L 561.9600 404.2800" style="stroke: #e0e0e0; stroke-width: 0.8; fill: #e0e0e0; stroke: #e0e0e0; stroke-width: 0.8" />
</g>
</g>
<g id="text_22" transform="translate(0.288 0.000)">
<text style="font-size: 8px; font-family: 'DejaVu Sans', 'Liberation Sans', sans-serif; text-anchor: middle; fill: #e0e0e0" x="561.78" y="412.756">0</text>
</g>
</g>
<g id="xtick_7">
<g id="line2d_67">
<path d="M 647.6400 400.6800 L 647.6400 84.6000" clip-path="url(#p495a6bb571)" style="fill: none; stroke: #2a2a4a; stroke-opacity: 0.3; stroke-width: 0.8; stroke-linecap: square" />
</g>
<g id="line2d_68">
<g>
<path d="M 647.6400 400.6800 L 647.6400 404.2800" style="stroke: #e0e0e0; stroke-width: 0.8; fill: #e0e0e0; stroke: #e0e0e0; stroke-width: 0.8" />
</g>
</g>
<g id="text_23" transform="translate(0.288 0.000)">
<text style="font-size: 8px; font-family: 'DejaVu Sans', 'Liberation Sans', sans-serif; text-anchor: middle; fill: #e0e0e0" x="647.316" y="412.756">1</text>
</g>
</g>
<g id="xtick_8">
<g id="line2d_69">
<path d="M 733.3200 400.6800 L 733.3200 84.6000" clip-path="url(#p495a6bb571)" style="fill: none; stroke: #2a2a4a; stroke-opacity: 0.3; stroke-width: 0.8; stroke-linecap: square" />
</g>
<g id="line2d_70">
<g>
<path d="M 733.3200 400.6800 L 733.3200 404.2800" style="stroke: #e0e0e0; stroke-width: 0.8; fill: #e0e0e0; stroke: #e0e0e0; stroke-width: 0.8" />
</g>
</g>
<g id="text_24" transform="translate(0.288 0.000)">
<text style="font-size: 8px; font-family: 'DejaVu Sans', 'Liberation Sans', sans-serif; text-anchor: middle; fill: #e0e0e0" x="732.852" y="412.756">2</text>
</g>
</g>
<g id="xtick_9">
<g id="line2d_71">
<path d="M 819.0000 400.6800 L 819.0000 84.6000" clip-path="url(#p495a6bb571)" style="fill: none; stroke: #2a2a4a; stroke-opacity: 0.3; stroke-width: 0.8; stroke-linecap: square" />
</g>
<g id="line2d_72">
<g>
<path d="M 819.0000 400.6800 L 819.0000 404.2800" style="stroke: #e0e0e0; stroke-width: 0.8; fill: #e0e0e0; stroke: #e0e0e0; stroke-width: 0.8" />
</g>
</g>
<g id="text_25" transform="translate(0.288 0.000)">
<text style="font-size: 8px; font-family: 'DejaVu Sans', 'Liberation Sans', sans-serif; text-anchor: middle; fill: #e0e0e0" x="818.388" y="412.756">3</text>
</g>
</g>
<g id="xtick_10">
<g id="line2d_73">
<path d="M 903.9600 400.6800 L 903.9600 84.6000" clip-path="url(#p495a6bb571)" style="fill: none; stroke: #2a2a4a; stroke-opacity: 0.3; stroke-width: 0.8; stroke-linecap: square" />
</g>
<g id="line2d_74">
<g>
<path d="M 903.9600 400.6800 L 903.9600 404.2800" style="stroke: #e0e0e0; stroke-width: 0.8; fill: #e0e0e0; stroke: #e0e0e0; stroke-width: 0.8" />
</g>
</g>
<g id="text_26" transform="translate(0.288 0.000)">
<text style="font-size: 8px; font-family: 'DejaVu Sans', 'Liberation Sans', sans-serif; text-anchor: middle; fill: #e0e0e0" x="903.924" y="412.756">4</text>
</g>
</g>
</g>
<g id="matplotlib.axis_4">
<g id="ytick_6">
<g id="line2d_75">
<path d="M 519.4800 369.0000 L 947.1600 369.0000" clip-path="url(#p495a6bb571)" style="fill: none; stroke: #2a2a4a; stroke-opacity: 0.3; stroke-width: 0.8; stroke-linecap: square" />
</g>
<g id="line2d_76">
<g>
<path d="M 519.4800 369.0000 L 515.8800 369.0000" style="stroke: #e0e0e0; stroke-width: 0.8; fill: #e0e0e0; stroke: #e0e0e0; stroke-width: 0.8" />
</g>
</g>
<g id="text_27" transform="translate(0.288 0.000)">
<text style="font-size: 8px; font-family: 'DejaVu Sans', 'Liberation Sans', sans-serif; text-anchor: end; fill: #e0e0e0" x="512.012" y="371.268">0</text>
</g>
</g>
<g id="ytick_7">
<g id="line2d_77">
<path d="M 519.4800 305.6400 L 947.1600 305.6400" clip-path="url(#p495a6bb571)" style="fill: none; stroke: #2a2a4a; stroke-opacity: 0.3; stroke-width: 0.8; stroke-linecap: square" />
</g>
<g id="line2d_78">
<g>
<path d="M 519.4800 305.6400 L 515.8800 305.6400" style="stroke: #e0e0e0; stroke-width: 0.8; fill: #e0e0e0; stroke: #e0e0e0; stroke-width: 0.8" />
</g>
</g>
<g id="text_28" transform="translate(0.288 0.000)">
<text style="font-size: 8px; font-family: 'DejaVu Sans', 'Liberation Sans', sans-serif; text-anchor: end; fill: #e0e0e0" x="512.012" y="308.052">1</text>
</g>
</g>
<g id="ytick_8">
<g id="line2d_79">
<path d="M 519.4800 242.2800 L 947.1600 242.2800" clip-path="url(#p495a6bb571)" style="fill: none; stroke: #2a2a4a; stroke-opacity: 0.3; stroke-width: 0.8; stroke-linecap: square" />
</g>
<g id="line2d_80">
<g>
<path d="M 519.4800 242.2800 L 515.8800 242.2800" style="stroke: #e0e0e0; stroke-width: 0.8; fill: #e0e0e0; stroke: #e0e0e0; stroke-width: 0.8" />
</g>
</g>
<g id="text_29" transform="translate(0.288 0.000)">
<text style="font-size: 8px; font-family: 'DejaVu Sans', 'Liberation Sans', sans-serif; text-anchor: end; fill: #e0e0e0" x="512.012" y="244.836">2</text>
</g>
</g>
<g id="ytick_9">
<g id="line2d_81">
<path d="M 519.4800 178.9200 L 947.1600 178.9200" clip-path="url(#p495a6bb571)" style="fill: none; stroke: #2a2a4a; stroke-opacity: 0.3; stroke-width: 0.8; stroke-linecap: square" />
</g>
<g id="line2d_82">
<g>
<path d="M 519.4800 178.9200 L 515.8800 178.9200" style="stroke: #e0e0e0; stroke-width: 0.8; fill: #e0e0e0; stroke: #e0e0e0; stroke-width: 0.8" />
</g>
</g>
<g id="text_30" transform="translate(0.288 0.000)">
<text style="font-size: 8px; font-family: 'DejaVu Sans', 'Liberation Sans', sans-serif; text-anchor: end; fill: #e0e0e0" x="512.012" y="181.62">3</text>
</g>
</g>
<g id="ytick_10">
<g id="line2d_83">
<path d="M 519.4800 115.5600 L 947.1600 115.5600" clip-path="url(#p495a6bb571)" style="fill: none; stroke: #2a2a4a; stroke-opacity: 0.3; stroke-width: 0.8; stroke-linecap: square" />
</g>
<g id="line2d_84">
<g>
<path d="M 519.4800 115.5600 L 515.8800 115.5600" style="stroke: #e0e0e0; stroke-width: 0.8; fill: #e0e0e0; stroke: #e0e0e0; stroke-width: 0.8" />
</g>
</g>
<g id="text_31" transform="translate(0.288 0.000)">
<text style="font-size: 8px; font-family: 'DejaVu Sans', 'Liberation Sans', sans-serif; text-anchor: end; fill: #e0e0e0" x="512.012" y="118.404">4</text>
</g>
</g>
</g>
<g id="patch_18">
<path d="M 519.4800 400.6800 L 519.4800 84.6000" style="fill: none; stroke: #2a2a4a; stroke-width: 0.8; stroke-linejoin: miter; stroke-linecap: square" />
</g>
<g id="patch_19">
<path d="M 947.1600 400.6800 L 947.1600 84.6000" style="fill: none; stroke: #2a2a4a; stroke-width: 0.8; stroke-linejoin: miter; stroke-linecap: square" />
</g>
<g id="patch_20">
<path d="M 519.4800 400.6800 L 947.1600 400.6800" style="fill: none; stroke: #2a2a4a; stroke-width: 0.8; stroke-linejoin: miter; stroke-linecap: square" />
</g>
<g id="patch_21">
<path d="M 519.4800 84.6000 L 947.1600 84.6000" style="fill: none; stroke: #2a2a4a; stroke-width: 0.8; stroke-linejoin: miter; stroke-linecap: square" />
</g>
<g id="patch_22">
<path d="M 647.316 324.1368  C 654.121324 324.1368 660.648835 322.138549 665.460926 318.582139  C 670.273016 315.025728 672.9768 310.201524 672.9768 305.172  C 672.9768 300.142476 670.273016 295.318272 665.460926 291.761861  C 660.648835 288.205451 654.121324 286.2072 647.316 286.2072  C 640.510676 286.2072 633.983165 288.205451 629.171074 291.761861  C 624.358984 295.318272 621.6552 300.142476 621.6552 305.172  C 621.6552 310.201524 624.358984 315.025728 629.171074 318.582139  C 633.983165 322.138549 640.510676 324.1368 647.316 324.1368  z " clip-path="url(#p495a6bb571)" style="fill: #41049d; stroke: #41049d; stroke-width: 1.8; stroke-linejoin: miter" />
</g>
<g id="patch_23">
<path d="M 818.388 324.1368  C 825.193324 324.1368 831.720835 322.138549 836.532926 318.582139  C 841.345016 315.025728 844.0488 310.201524 844.0488 305.172  C 844.0488 300.142476 841.345016 295.318272 836.532926 291.761861  C 831.720835 288.205451 825.193324 286.2072 818.388 286.2072  C 811.582676 286.2072 805.055165 288.205451 800.243074 291.761861  C 795.430984 295.318272 792.7272 300.142476 792.7272 305.172  C 792.7272 310.201524 795.430984 315.025728 800.243074 318.582139  C 805.055165 322.138549 811.582676 324.1368 818.388 324.1368  z " clip-path="url(#p495a6bb571)" style="fill: #6600a7; stroke: #6600a7; stroke-width: 1.8; stroke-linejoin: miter" />
</g>
<g id="patch_24">
<path d="M 732.852 197.7048  C 739.657324 197.7048 746.184835 195.706549 750.996926 192.150139  C 755.809016 188.593728 758.5128 183.769524 758.5128 178.74  C 758.5128 173.710476 755.809016 168.886272 750.996926 165.329861  C 746.184835 161.773451 739.657324 159.7752 732.852 159.7752  C 726.046676 159.7752 719.519165 161.773451 714.707074 165.329861  C 709.894984 168.886272 707.1912 173.710476 707.1912 178.74  C 707.1912 183.769524 709.894984 188.593728 714.707074 192.150139  C 719.519165 195.706549 726.046676 197.7048 732.852 197.7048  z " clip-path="url(#p495a6bb571)" style="fill: #8808a6; stroke: #8808a6; stroke-width: 1.8; stroke-linejoin: miter" />
</g>
<g id="patch_25">
<path d="M 903.924 324.1368  C 910.729324 324.1368 917.256835 322.138549 922.068926 318.582139  C 926.881016 315.025728 929.5848 310.201524 929.5848 305.172  C 929.5848 300.142476 926.881016 295.318272 922.068926 291.761861  C 917.256835 288.205451 910.729324 286.2072 903.924 286.2072  C 897.118676 286.2072 890.591165 288.205451 885.779074 291.761861  C 880.966984 295.318272 878.2632 300.142476 878.2632 305.172  C 878.2632 310.201524 880.966984 315.025728 885.779074 318.582139  C 890.591165 322.138549 897.118676 324.1368 903.924 324.1368  z " clip-path="url(#p495a6bb571)" style="fill: #a62098; stroke: #a62098; stroke-width: 1.8; stroke-linejoin: miter" />
</g>
<g id="patch_26">
<path d="M 903.924 197.7048  C 910.729324 197.7048 917.256835 195.706549 922.068926 192.150139  C 926.881016 188.593728 929.5848 183.769524 929.5848 178.74  C 929.5848 173.710476 926.881016 168.886272 922.068926 165.329861  C 917.256835 161.773451 910.729324 159.7752 903.924 159.7752  C 897.118676 159.7752 890.591165 161.773451 885.779074 165.329861  C 880.966984 168.886272 878.2632 173.710476 878.2632 178.74  C 878.2632 183.769524 880.966984 188.593728 885.779074 192.150139  C 890.591165 195.706549 897.118676 197.7048 903.924 197.7048  z " clip-path="url(#p495a6bb571)" style="fill: #c03a83; stroke: #c03a83; stroke-width: 1.8; stroke-linejoin: miter" />
</g>
<g id="patch_27">
<path d="M 647.316 260.9208  C 654.121324 260.9208 660.648835 258.922549 665.460926 255.366139  C 670.273016 251.809728 672.9768 246.985524 672.9768 241.956  C 672.9768 236.926476 670.273016 232.102272 665.460926 228.545861  C 660.648835 224.989451 654.121324 222.9912 647.316 222.9912  C 640.510676 222.9912 633.983165 224.989451 629.171074 228.545861  C 624.358984 232.102272 621.6552 236.926476 621.6552 241.956  C 621.6552 246.985524 624.358984 251.809728 629.171074 255.366139  C 633.983165 258.922549 640.510676 260.9208 647.316 260.9208  z " clip-path="url(#p495a6bb571)" style="fill: #d5546e; stroke: #d5546e; stroke-width: 1.8; stroke-linejoin: miter" />
</g>
<g id="patch_28">
<path d="M 818.388 260.9208  C 825.193324 260.9208 831.720835 258.922549 836.532926 255.366139  C 841.345016 251.809728 844.0488 246.985524 844.0488 241.956  C 844.0488 236.926476 841.345016 232.102272 836.532926 228.545861  C 831.720835 224.989451 825.193324 222.9912 818.388 222.9912  C 811.582676 222.9912 805.055165 224.989451 800.243074 228.545861  C 795.430984 232.102272 792.7272 236.926476 792.7272 241.956  C 792.7272 246.985524 795.430984 251.809728 800.243074 255.366139  C 805.055165 258.922549 811.582676 260.9208 818.388 260.9208  z " clip-path="url(#p495a6bb571)" style="fill: #e76f5a; stroke: #e76f5a; stroke-width: 1.8; stroke-linejoin: miter" />
</g>
<g id="patch_29">
<path d="M 561.78 260.9208  C 568.585324 260.9208 575.112835 258.922549 579.924926 255.366139  C 584.737016 251.809728 587.4408 246.985524 587.4408 241.956  C 587.4408 236.926476 584.737016 232.102272 579.924926 228.545861  C 575.112835 224.989451 568.585324 222.9912 561.78 222.9912  C 554.974676 222.9912 548.447165 224.989451 543.635074 228.545861  C 538.822984 232.102272 536.1192 236.926476 536.1192 241.956  C 536.1192 246.985524 538.822984 251.809728 543.635074 255.366139  C 548.447165 258.922549 554.974676 260.9208 561.78 260.9208  z " clip-path="url(#p495a6bb571)" style="fill: #f58b47; stroke: #f58b47; stroke-width: 1.8; stroke-linejoin: miter" />
</g>
<g id="patch_30">
<path d="M 561.78 387.3528  C 568.585324 387.3528 575.112835 385.354549 579.924926 381.798139  C 584.737016 378.241728 587.4408 373.417524 587.4408 368.388  C 587.4408 363.358476 584.737016 358.534272 579.924926 354.977861  C 575.112835 351.421451 568.585324 349.4232 561.78 349.4232  C 554.974676 349.4232 548.447165 351.421451 543.635074 354.977861  C 538.822984 358.534272 536.1192 363.358476 536.1192 368.388  C 536.1192 373.417524 538.822984 378.241728 543.635074 381.798139  C 548.447165 385.354549 554.974676 387.3528 561.78 387.3528  z " clip-path="url(#p495a6bb571)" style="fill: #fdab33; stroke: #fdab33; stroke-width: 1.8; stroke-linejoin: miter" />
</g>
<g id="patch_31">
<path d="M 561.78 324.1368  C 568.585324 324.1368 575.112835 322.138549 579.924926 318.582139  C 584.737016 315.025728 587.4408 310.201524 587.4408 305.172  C 587.4408 300.142476 584.737016 295.318272 579.924926 291.761861  C 575.112835 288.205451 568.585324 286.2072 561.78 286.2072  C 554.974676 286.2072 548.447165 288.205451 543.635074 291.761861  C 538.822984 295.318272 536.1192 300.142476 536.1192 305.172  C 536.1192 310.201524 538.822984 315.025728 543.635074 318.582139  C 548.447165 322.138549 554.974676 324.1368 561.78 324.1368  z " clip-path="url(#p495a6bb571)" style="fill: #fcce25; stroke: #fcce25; stroke-width: 1.8; stroke-linejoin: miter" />
</g>
<g id="text_32">
<text style="font-weight: 700; font-size: 11px; font-family: 'DejaVu Sans', 'Liberation Sans', sans-serif; fill: #e0e0e0" transform="translate(651.897 63.084)">Optimized Placement (SA)</text>
<text style="font-weight: 700; font-size: 11px; font-family: 'DejaVu Sans', 'Liberation Sans', sans-serif; fill: #e0e0e0" transform="translate(692.757 75.612)">HPWL=24.00</text>
</g>
<g id="text_33">
<text style="font-weight: 700; font-size: 7px; font-family: 'DejaVu Sans', 'Liberation Sans', sans-serif; text-anchor: middle" x="647.316" y="307.332">C0</text>
</g>
<g id="text_34">
<text style="font-weight: 700; font-size: 7px; font-family: 'DejaVu Sans', 'Liberation Sans', sans-serif; text-anchor: middle" x="818.388" y="307.332">C1</text>
</g>
<g id="text_35">
<text style="font-weight: 700; font-size: 7px; font-family: 'DejaVu Sans', 'Liberation Sans', sans-serif; text-anchor: middle" x="732.852" y="180.9">C2</text>
</g>
<g id="text_36">
<text style="font-weight: 700; font-size: 7px; font-family: 'DejaVu Sans', 'Liberation Sans', sans-serif; text-anchor: middle" x="903.924" y="307.332">C3</text>
</g>
<g id="text_37">
<text style="font-weight: 700; font-size: 7px; font-family: 'DejaVu Sans', 'Liberation Sans', sans-serif; text-anchor: middle" x="903.924" y="180.9">C4</text>
</g>
<g id="text_38">
<text style="font-weight: 700; font-size: 7px; font-family: 'DejaVu Sans', 'Liberation Sans', sans-serif; text-anchor: middle" x="647.316" y="244.116">C5</text>
</g>
<g id="text_39">
<text style="font-weight: 700; font-size: 7px; font-family: 'DejaVu Sans', 'Liberation Sans', sans-serif; text-anchor: middle" x="818.388" y="244.116">C6</text>
</g>
<g id="text_40">
<text style="font-weight: 700; font-size: 7px; font-family: 'DejaVu Sans', 'Liberation Sans', sans-serif; text-anchor: middle" x="561.78" y="244.116">C7</text>
</g>
<g id="text_41">
<text style="font-weight: 700; font-size: 7px; font-family: 'DejaVu Sans', 'Liberation Sans', sans-serif; text-anchor: middle" x="561.78" y="370.548">C8</text>
</g>
<g id="text_42">
<text style="font-weight: 700; font-size: 7px; font-family: 'DejaVu Sans', 'Liberation Sans', sans-serif; text-anchor: middle" x="561.78" y="307.332">C9</text>
</g>
</g>
<g id="axes_3">
<g id="patch_32">
<path d="M 997.9200 400.3200 L 1425.6000 400.3200 L 1425.6000 84.2400 L 997.9200 84.2400 z" style="fill: #1a1a2e" />
</g>
<g id="matplotlib.axis_5">
<g id="xtick_11">
<g id="line2d_85">
<g>
<path d="M 1017.7200 400.6800 L 1017.7200 404.2800" style="stroke: #e0e0e0; stroke-width: 0.8; fill: #e0e0e0; stroke: #e0e0e0; stroke-width: 0.8" />
</g>
</g>
<g id="text_43" transform="translate(0.288 0.000)">
<text style="font-size: 8px; font-family: 'DejaVu Sans', 'Liberation Sans', sans-serif; text-anchor: middle; fill: #e0e0e0" x="1017.072" y="412.756">0</text>
</g>
</g>
<g id="xtick_12">
<g id="line2d_86">
<g>
<path d="M 1065.9600 400.6800 L 1065.9600 404.2800" style="stroke: #e0e0e0; stroke-width: 0.8; fill: #e0e0e0; stroke: #e0e0e0; stroke-width: 0.8" />
</g>
</g>
<g id="text_44" transform="translate(0.288 0.000)">
<text style="font-size: 8px; font-family: 'DejaVu Sans', 'Liberation Sans', sans-serif; text-anchor: middle; fill: #e0e0e0" x="1065.672" y="412.756">250</text>
</g>
</g>
<g id="xtick_13">
<g id="line2d_87">
<g>
<path d="M 1114.9200 400.6800 L 1114.9200 404.2800" style="stroke: #e0e0e0; stroke-width: 0.8; fill: #e0e0e0; stroke: #e0e0e0; stroke-width: 0.8" />
</g>
</g>
<g id="text_45" transform="translate(0.288 0.000)">
<text style="font-size: 8px; font-family: 'DejaVu Sans', 'Liberation Sans', sans-serif; text-anchor: middle; fill: #e0e0e0" x="1114.272" y="412.756">500</text>
</g>
</g>
<g id="xtick_14">
<g id="line2d_88">
<g>
<path d="M 1163.1600 400.6800 L 1163.1600 404.2800" style="stroke: #e0e0e0; stroke-width: 0.8; fill: #e0e0e0; stroke: #e0e0e0; stroke-width: 0.8" />
</g>
</g>
<g id="text_46" transform="translate(0.288 0.000)">
<text style="font-size: 8px; font-family: 'DejaVu Sans', 'Liberation Sans', sans-serif; text-anchor: middle; fill: #e0e0e0" x="1162.872" y="412.756">750</text>
</g>
</g>
<g id="xtick_15">
<g id="line2d_89">
<g>
<path d="M 1212.1200 400.6800 L 1212.1200 404.2800" style="stroke: #e0e0e0; stroke-width: 0.8; fill: #e0e0e0; stroke: #e0e0e0; stroke-width: 0.8" />
</g>
</g>
<g id="text_47" transform="translate(0.288 0.000)">
<text style="font-size: 8px; font-family: 'DejaVu Sans', 'Liberation Sans', sans-serif; text-anchor: middle; fill: #e0e0e0" x="1211.472" y="412.756">1000</text>
</g>
</g>
<g id="xtick_16">
<g id="line2d_90">
<g>
<path d="M 1260.3600 400.6800 L 1260.3600 404.2800" style="stroke: #e0e0e0; stroke-width: 0.8; fill: #e0e0e0; stroke: #e0e0e0; stroke-width: 0.8" />
</g>
</g>
<g id="text_48" transform="translate(0.288 0.000)">
<text style="font-size: 8px; font-family: 'DejaVu Sans', 'Liberation Sans', sans-serif; text-anchor: middle; fill: #e0e0e0" x="1260.072" y="412.756">1250</text>
</g>
</g>
<g id="xtick_17">
<g id="line2d_91">
<g>
<path d="M 1309.3200 400.6800 L 1309.3200 404.2800" style="stroke: #e0e0e0; stroke-width: 0.8; fill: #e0e0e0; stroke: #e0e0e0; stroke-width: 0.8" />
</g>
</g>
<g id="text_49" transform="translate(0.288 0.000)">
<text style="font-size: 8px; font-family: 'DejaVu Sans', 'Liberation Sans', sans-serif; text-anchor: middle; fill: #e0e0e0" x="1308.672" y="412.756">1500</text>
</g>
</g>
<g id="xtick_18">
<g id="line2d_92">
<g>
<path d="M 1357.5600 400.6800 L 1357.5600 404.2800" style="stroke: #e0e0e0; stroke-width: 0.8; fill: #e0e0e0; stroke: #e0e0e0; stroke-width: 0.8" />
</g>
</g>
<g id="text_50" transform="translate(0.288 0.000)">
<text style="font-size: 8px; font-family: 'DejaVu Sans', 'Liberation Sans', sans-serif; text-anchor: middle; fill: #e0e0e0" x="1357.272" y="412.756">1750</text>
</g>
</g>
<g id="xtick_19">
<g id="line2d_93">
<g>
<path d="M 1406.5200 400.6800 L 1406.5200 404.2800" style="stroke: #e0e0e0; stroke-width: 0.8; fill: #e0e0e0; stroke: #e0e0e0; stroke-width: 0.8" />
</g>
</g>
<g id="text_51" transform="translate(0.288 0.000)">
<text style="font-size: 8px; font-family: 'DejaVu Sans', 'Liberation Sans', sans-serif; text-anchor: middle; fill: #e0e0e0" x="1405.872" y="412.756">2000</text>
</g>
</g>
<g id="text_52">
<text style="font-size: 9px; font-family: 'DejaVu Sans', 'Liberation Sans', sans-serif; text-anchor: middle; fill: #e0e0e0" x="1211.472" y="425.396">Iteration</text>
</g>
</g>
<g id="matplotlib.axis_6">
<g id="ytick_11">
<g id="line2d_94">
<g>
<path d="M 998.2800 386.2800 L 994.6800 386.2800" style="stroke: #e0e0e0; stroke-width: 0.8; fill: #e0e0e0; stroke: #e0e0e0; stroke-width: 0.8" />
</g>
</g>
<g id="text_53" transform="translate(0.288 0.000)">
<text style="font-size: 8px; font-family: 'DejaVu Sans', 'Liberation Sans', sans-serif; text-anchor: end; fill: #e0e0e0" x="990.632" y="388.508727">24</text>
</g>
</g>
<g id="ytick_12">
<g id="line2d_95">
<g>
<path d="M 998.2800 341.6400 L 994.6800 341.6400" style="stroke: #e0e0e0; stroke-width: 0.8; fill: #e0e0e0; stroke: #e0e0e0; stroke-width: 0.8" />
</g>
</g>
<g id="text_54" transform="translate(0.288 0.000)">
<text style="font-size: 8px; font-family: 'DejaVu Sans', 'Liberation Sans', sans-serif; text-anchor: end; fill: #e0e0e0" x="990.632" y="344.301734">26</text>
</g>
</g>
<g id="ytick_13">
<g id="line2d_96">
<g>
<path d="M 998.2800 297.7200 L 994.6800 297.7200" style="stroke: #e0e0e0; stroke-width: 0.8; fill: #e0e0e0; stroke: #e0e0e0; stroke-width: 0.8" />
</g>
</g>
<g id="text_55" transform="translate(0.288 0.000)">
<text style="font-size: 8px; font-family: 'DejaVu Sans', 'Liberation Sans', sans-serif; text-anchor: end; fill: #e0e0e0" x="990.632" y="300.094741">28</text>
</g>
</g>
<g id="ytick_14">
<g id="line2d_97">
<g>
<path d="M 998.2800 253.0800 L 994.6800 253.0800" style="stroke: #e0e0e0; stroke-width: 0.8; fill: #e0e0e0; stroke: #e0e0e0; stroke-width: 0.8" />
</g>
</g>
<g id="text_56" transform="translate(0.288 0.000)">
<text style="font-size: 8px; font-family: 'DejaVu Sans', 'Liberation Sans', sans-serif; text-anchor: end; fill: #e0e0e0" x="990.632" y="255.887748">30</text>
</g>
</g>
<g id="ytick_15">
<g id="line2d_98">
<g>
<path d="M 998.2800 209.1600 L 994.6800 209.1600" style="stroke: #e0e0e0; stroke-width: 0.8; fill: #e0e0e0; stroke: #e0e0e0; stroke-width: 0.8" />
</g>
</g>
<g id="text_57" transform="translate(0.288 0.000)">
<text style="font-size: 8px; font-family: 'DejaVu Sans', 'Liberation Sans', sans-serif; text-anchor: end; fill: #e0e0e0" x="990.632" y="211.680755">32</text>
</g>
</g>
<g id="ytick_16">
<g id="line2d_99">
<g>
<path d="M 998.2800 165.2400 L 994.6800 165.2400" style="stroke: #e0e0e0; stroke-width: 0.8; fill: #e0e0e0; stroke: #e0e0e0; stroke-width: 0.8" />
</g>
</g>
<g id="text_58" transform="translate(0.288 0.000)">
<text style="font-size: 8px; font-family: 'DejaVu Sans', 'Liberation Sans', sans-serif; text-anchor: end; fill: #e0e0e0" x="990.632" y="167.473762">34</text>
</g>
</g>
<g id="ytick_17">
<g id="line2d_100">
<g>
<path d="M 998.2800 120.6000 L 994.6800 120.6000" style="stroke: #e0e0e0; stroke-width: 0.8; fill: #e0e0e0; stroke: #e0e0e0; stroke-width: 0.8" />
</g>
</g>
<g id="text_59" transform="translate(0.288 0.000)">
<text style="font-size: 8px; font-family: 'DejaVu Sans', 'Liberation Sans', sans-serif; text-anchor: end; fill: #e0e0e0" x="990.632" y="123.266769">36</text>
</g>
</g>
<g id="text_60">
<text style="font-size: 9px; font-family: 'DejaVu Sans', 'Liberation Sans', sans-serif; text-anchor: middle; fill: #e0e0e0" x="973.7080" y="243.3240" transform="rotate(-90 973.7080 243.3240)">HPWL</text>
</g>
</g>
<g id="line2d_101">
<path d="M 1017.072 98.283273  L 1065.672 164.593762  L 1114.272 319.318238  L 1162.872 385.628727  L 1211.472 385.628727  L 1260.072 385.628727  L 1308.672 385.628727  L 1357.272 385.628727  L 1405.872 385.628727  " clip-path="url(#pa89850310d)" style="fill: none; stroke: #00d4ff; stroke-width: 1.5; stroke-linecap: square" />
</g>
<g id="line2d_102">
<path d="M 998.2800 386.2800 L 1425.9600 386.2800" clip-path="url(#pa89850310d)" style="fill: none; stroke-dasharray: 3.7,1.6; stroke-dashoffset: 0; stroke: #39ff14" />
</g>
<g id="patch_33">
<path d="M 998.2800 400.6800 L 998.2800 84.6000" style="fill: none; stroke: #2a2a4a; stroke-width: 0.8; stroke-linejoin: miter; stroke-linecap: square" />
</g>
<g id="patch_34">
<path d="M 1425.9600 400.6800 L 1425.9600 84.6000" style="fill: none; stroke: #2a2a4a; stroke-width: 0.8; stroke-linejoin: miter; stroke-linecap: square" />
</g>
<g id="patch_35">
<path d="M 998.2800 400.6800 L 1425.9600 400.6800" style="fill: none; stroke: #2a2a4a; stroke-width: 0.8; stroke-linejoin: miter; stroke-linecap: square" />
</g>
<g id="patch_36">
<path d="M 998.2800 84.6000 L 1425.9600 84.6000" style="fill: none; stroke: #2a2a4a; stroke-width: 0.8; stroke-linejoin: miter; stroke-linecap: square" />
</g>
<g id="text_61">
<text style="font-weight: 700; font-size: 11px; font-family: 'DejaVu Sans', 'Liberation Sans', sans-serif; text-anchor: middle; fill: #e0e0e0" x="1211.472" y="77.916">HPWL Convergence</text>
</g>
<g id="legend_1">
<g id="patch_37">
<path d="M 1346.682 112.716  L 1419.712 112.716  Q 1421.312 112.716 1421.312 111.116  L 1421.312 89.516  Q 1421.312 87.916 1419.712 87.916  L 1346.682 87.916  Q 1345.082 87.916 1345.082 89.516  L 1345.082 111.116  Q 1345.082 112.716 1346.682 112.716  z " style="fill: #1a1a2e; opacity: 0.8; stroke: #cccccc; stroke-linejoin: miter" />
</g>
<g id="line2d_103">
<path d="M 1348.5600 94.3200 L 1356.4800 94.3200 L 1364.4000 94.3200" style="fill: none; stroke: #00d4ff; stroke-width: 1.5; stroke-linecap: square" />
</g>
<g id="text_62">
<text style="font-size: 8px; font-family: 'DejaVu Sans', 'Liberation Sans', sans-serif; text-anchor: start; fill: #e0e0e0" x="1370.682" y="96.876">HPWL</text>
</g>
<g id="line2d_104">
<path d="M 1348.9200 105.4800 L 1356.8400 105.4800 L 1364.7600 105.4800" style="fill: none; stroke-dasharray: 3.7,1.6; stroke-dashoffset: 0; stroke: #39ff14" />
</g>
<g id="text_63">
<text style="font-size: 8px; font-family: 'DejaVu Sans', 'Liberation Sans', sans-serif; text-anchor: start; fill: #e0e0e0" x="1370.682" y="108.076">Best=24.00</text>
</g>
</g>
</g>
<g id="axes_4">
<g id="patch_38">
<path d="M 40.3200 772.5600 L 468.0000 772.5600 L 468.0000 456.4800 L 40.3200 456.4800 z" style="fill: #1a1a2e" />
</g>
<g id="matplotlib.axis_7">
<g id="xtick_20">
<g id="line2d_105">
<g>
<path d="M 60.1200 772.9200 L 60.1200 776.5200" style="stroke: #e0e0e0; stroke-width: 0.8; fill: #e0e0e0; stroke: #e0e0e0; stroke-width: 0.8" />
</g>
</g>
<g id="text_64" transform="translate(0.288 0.000)">
<text style="font-size: 8px; font-family: 'DejaVu Sans', 'Liberation Sans', sans-serif; text-anchor: middle; fill: #e0e0e0" x="59.832" y="785.6656">0</text>
</g>
</g>
<g id="xtick_21">
<g id="line2d_106">
<g>
<path d="M 109.0800 772.9200 L 109.0800 776.5200" style="stroke: #e0e0e0; stroke-width: 0.8; fill: #e0e0e0; stroke: #e0e0e0; stroke-width: 0.8" />
</g>
</g>
<g id="text_65" transform="translate(0.288 0.000)">
<text style="font-size: 8px; font-family: 'DejaVu Sans', 'Liberation Sans', sans-serif; text-anchor: middle; fill: #e0e0e0" x="108.432" y="785.6656">250</text>
</g>
</g>
<g id="xtick_22">
<g id="line2d_107">
<g>
<path d="M 157.3200 772.9200 L 157.3200 776.5200" style="stroke: #e0e0e0; stroke-width: 0.8; fill: #e0e0e0; stroke: #e0e0e0; stroke-width: 0.8" />
</g>
</g>
<g id="text_66" transform="translate(0.288 0.000)">
<text style="font-size: 8px; font-family: 'DejaVu Sans', 'Liberation Sans', sans-serif; text-anchor: middle; fill: #e0e0e0" x="157.032" y="785.6656">500</text>
</g>
</g>
<g id="xtick_23">
<g id="line2d_108">
<g>
<path d="M 206.2800 772.9200 L 206.2800 776.5200" style="stroke: #e0e0e0; stroke-width: 0.8; fill: #e0e0e0; stroke: #e0e0e0; stroke-width: 0.8" />
</g>
</g>
<g id="text_67" transform="translate(0.288 0.000)">
<text style="font-size: 8px; font-family: 'DejaVu Sans', 'Liberation Sans', sans-serif; text-anchor: middle; fill: #e0e0e0" x="205.632" y="785.6656">750</text>
</g>
</g>
<g id="xtick_24">
<g id="line2d_109">
<g>
<path d="M 254.5200 772.9200 L 254.5200 776.5200" style="stroke: #e0e0e0; stroke-width: 0.8; fill: #e0e0e0; stroke: #e0e0e0; stroke-width: 0.8" />
</g>
</g>
<g id="text_68" transform="translate(0.288 0.000)">
<text style="font-size: 8px; font-family: 'DejaVu Sans', 'Liberation Sans', sans-serif; text-anchor: middle; fill: #e0e0e0" x="254.232" y="785.6656">1000</text>
</g>
</g>
<g id="xtick_25">
<g id="line2d_110">
<g>
<path d="M 303.4800 772.9200 L 303.4800 776.5200" style="stroke: #e0e0e0; stroke-width: 0.8; fill: #e0e0e0; stroke: #e0e0e0; stroke-width: 0.8" />
</g>
</g>
<g id="text_69" transform="translate(0.288 0.000)">
<text style="font-size: 8px; font-family: 'DejaVu Sans', 'Liberation Sans', sans-serif; text-anchor: middle; fill: #e0e0e0" x="302.832" y="785.6656">1250</text>
</g>
</g>
<g id="xtick_26">
<g id="line2d_111">
<g>
<path d="M 351.7200 772.9200 L 351.7200 776.5200" style="stroke: #e0e0e0; stroke-width: 0.8; fill: #e0e0e0; stroke: #e0e0e0; stroke-width: 0.8" />
</g>
</g>
<g id="text_70" transform="translate(0.288 0.000)">
<text style="font-size: 8px; font-family: 'DejaVu Sans', 'Liberation Sans', sans-serif; text-anchor: middle; fill: #e0e0e0" x="351.432" y="785.6656">1500</text>
</g>
</g>
<g id="xtick_27">
<g id="line2d_112">
<g>
<path d="M 400.6800 772.9200 L 400.6800 776.5200" style="stroke: #e0e0e0; stroke-width: 0.8; fill: #e0e0e0; stroke: #e0e0e0; stroke-width: 0.8" />
</g>
</g>
<g id="text_71" transform="translate(0.288 0.000)">
<text style="font-size: 8px; font-family: 'DejaVu Sans', 'Liberation Sans', sans-serif; text-anchor: middle; fill: #e0e0e0" x="400.032" y="785.6656">1750</text>
</g>
</g>
<g id="xtick_28">
<g id="line2d_113">
<g>
<path d="M 448.9200 772.9200 L 448.9200 776.5200" style="stroke: #e0e0e0; stroke-width: 0.8; fill: #e0e0e0; stroke: #e0e0e0; stroke-width: 0.8" />
</g>
</g>
<g id="text_72" transform="translate(0.288 0.000)">
<text style="font-size: 8px; font-family: 'DejaVu Sans', 'Liberation Sans', sans-serif; text-anchor: middle; fill: #e0e0e0" x="448.632" y="785.6656">2000</text>
</g>
</g>
<g id="text_73">
<text style="font-size: 9px; font-family: 'DejaVu Sans', 'Liberation Sans', sans-serif; text-anchor: middle; fill: #e0e0e0" x="254.232" y="798.3056">Iteration</text>
</g>
</g>
<g id="matplotlib.axis_8">
<g id="ytick_18">
<g id="line2d_114">
<g>
<path d="M 40.6800 752.7600 L 37.0800 752.7600" style="stroke: #e0e0e0; stroke-width: 0.8; fill: #e0e0e0; stroke: #e0e0e0; stroke-width: 0.8" />
</g>
</g>
<g id="text_74" transform="translate(0.288 0.000)">
<text style="font-size: 8px; font-family: 'DejaVu Sans', 'Liberation Sans', sans-serif; text-anchor: end; fill: #e0e0e0" x="33.392" y="755.368949">0.8</text>
</g>
</g>
<g id="ytick_19">
<g id="line2d_115">
<g>
<path d="M 40.6800 692.2800 L 37.0800 692.2800" style="stroke: #e0e0e0; stroke-width: 0.8; fill: #e0e0e0; stroke: #e0e0e0; stroke-width: 0.8" />
</g>
</g>
<g id="text_75" transform="translate(0.288 0.000)">
<text style="font-size: 8px; font-family: 'DejaVu Sans', 'Liberation Sans', sans-serif; text-anchor: end; fill: #e0e0e0" x="33.392" y="694.875169">1.0</text>
</g>
</g>
<g id="ytick_20">
<g id="line2d_116">
<g>
<path d="M 40.6800 631.8000 L 37.0800 631.8000" style="stroke: #e0e0e0; stroke-width: 0.8; fill: #e0e0e0; stroke: #e0e0e0; stroke-width: 0.8" />
</g>
</g>
<g id="text_76" transform="translate(0.288 0.000)">
<text style="font-size: 8px; font-family: 'DejaVu Sans', 'Liberation Sans', sans-serif; text-anchor: end; fill: #e0e0e0" x="33.392" y="634.381389">1.2</text>
</g>
</g>
<g id="ytick_21">
<g id="line2d_117">
<g>
<path d="M 40.6800 571.3200 L 37.0800 571.3200" style="stroke: #e0e0e0; stroke-width: 0.8; fill: #e0e0e0; stroke: #e0e0e0; stroke-width: 0.8" />
</g>
</g>
<g id="text_77" transform="translate(0.288 0.000)">
<text style="font-size: 8px; font-family: 'DejaVu Sans', 'Liberation Sans', sans-serif; text-anchor: end; fill: #e0e0e0" x="33.392" y="573.88761">1.4</text>
</g>
</g>
<g id="ytick_22">
<g id="line2d_118">
<g>
<path d="M 40.6800 510.8400 L 37.0800 510.8400" style="stroke: #e0e0e0; stroke-width: 0.8; fill: #e0e0e0; stroke: #e0e0e0; stroke-width: 0.8" />
</g>
</g>
<g id="text_78" transform="translate(0.288 0.000)">
<text style="font-size: 8px; font-family: 'DejaVu Sans', 'Liberation Sans', sans-serif; text-anchor: end; fill: #e0e0e0" x="33.392" y="513.39383">1.6</text>
</g>
</g>
<g id="text_79">
<text style="font-size: 9px; font-family: 'DejaVu Sans', 'Liberation Sans', sans-serif; text-anchor: middle; fill: #e0e0e0" x="13.9480" y="616.2336" transform="rotate(-90 13.9480 616.2336)">Delay (RC units)</text>
</g>
</g>
<g id="line2d_119">
<path d="M 59.832 471.192873  L 108.432 625.452011  L 157.032 719.21737  L 205.632 758.538327  L 254.232 758.538327  L 302.832 758.538327  L 351.432 758.538327  L 400.032 758.538327  L 448.632 758.538327  " clip-path="url(#p34f09e1779)" style="fill: none; stroke: #ff6b35; stroke-width: 1.5; stroke-linecap: square" />
</g>
<g id="line2d_120">
<path d="M 40.6800 759.2400 L 468.3600 759.2400" clip-path="url(#p34f09e1779)" style="fill: none; stroke-dasharray: 3.7,1.6; stroke-dashoffset: 0; stroke: #39ff14" />
</g>
<g id="patch_39">
<path d="M 40.6800 772.9200 L 40.6800 456.8400" style="fill: none; stroke: #2a2a4a; stroke-width: 0.8; stroke-linejoin: miter; stroke-linecap: square" />
</g>
<g id="patch_40">
<path d="M 468.3600 772.9200 L 468.3600 456.8400" style="fill: none; stroke: #2a2a4a; stroke-width: 0.8; stroke-linejoin: miter; stroke-linecap: square" />
</g>
<g id="patch_41">
<path d="M 40.6800 772.9200 L 468.3600 772.9200" style="fill: none; stroke: #2a2a4a; stroke-width: 0.8; stroke-linejoin: miter; stroke-linecap: square" />
</g>
<g id="patch_42">
<path d="M 40.6800 456.8400 L 468.3600 456.8400" style="fill: none; stroke: #2a2a4a; stroke-width: 0.8; stroke-linejoin: miter; stroke-linecap: square" />
</g>
<g id="text_80">
<text style="font-weight: 700; font-size: 11px; font-family: 'DejaVu Sans', 'Liberation Sans', sans-serif; text-anchor: middle; fill: #e0e0e0" x="254.232" y="450.8256">Signal Delay Convergence</text>
</g>
<g id="legend_2">
<g id="patch_43">
<path d="M 389.442 485.6256  L 462.472 485.6256  Q 464.072 485.6256 464.072 484.0256  L 464.072 462.4256  Q 464.072 460.8256 462.472 460.8256  L 389.442 460.8256  Q 387.842 460.8256 387.842 462.4256  L 387.842 484.0256  Q 387.842 485.6256 389.442 485.6256  z " style="fill: #1a1a2e; opacity: 0.8; stroke: #cccccc; stroke-linejoin: miter" />
</g>
<g id="line2d_121">
<path d="M 390.9600 467.2800 L 398.8800 467.2800 L 406.8000 467.2800" style="fill: none; stroke: #ff6b35; stroke-width: 1.5; stroke-linecap: square" />
</g>
<g id="text_81">
<text style="font-size: 8px; font-family: 'DejaVu Sans', 'Liberation Sans', sans-serif; text-anchor: start; fill: #e0e0e0" x="413.442" y="469.7856">Delay</text>
</g>
<g id="line2d_122">
<path d="M 391.3200 478.4400 L 399.2400 478.4400 L 407.1600 478.4400" style="fill: none; stroke-dasharray: 3.7,1.6; stroke-dashoffset: 0; stroke: #39ff14" />
</g>
<g id="text_82">
<text style="font-size: 8px; font-family: 'DejaVu Sans', 'Liberation Sans', sans-serif; text-anchor: start; fill: #e0e0e0" x="413.442" y="480.9856">Best=0.780</text>
</g>
</g>
</g>
<g id="axes_5">
<g id="patch_44">
<path d="M 519.1200 772.5600 L 946.8000 772.5600 L 946.8000 456.4800 L 519.1200 456.4800 z" style="fill: #1a1a2e" />
</g>
<g id="matplotlib.axis_9">
<g id="xtick_29">
<g id="line2d_123">
<g>
<path d="M 538.9200 772.9200 L 538.9200 776.5200" style="stroke: #e0e0e0; stroke-width: 0.8; fill: #e0e0e0; stroke: #e0e0e0; stroke-width: 0.8" />
</g>
</g>
<g id="text_83" transform="translate(0.288 0.000)">
<text style="font-size: 8px; font-family: 'DejaVu Sans', 'Liberation Sans', sans-serif; text-anchor: middle; fill: #e0e0e0" x="538.452" y="785.6656">0</text>
</g>
</g>
<g id="xtick_30">
<g id="line2d_124">
<g>
<path d="M 587.1600 772.9200 L 587.1600 776.5200" style="stroke: #e0e0e0; stroke-width: 0.8; fill: #e0e0e0; stroke: #e0e0e0; stroke-width: 0.8" />
</g>
</g>
<g id="text_84" transform="translate(0.288 0.000)">
<text style="font-size: 8px; font-family: 'DejaVu Sans', 'Liberation Sans', sans-serif; text-anchor: middle; fill: #e0e0e0" x="587.052" y="785.6656">250</text>
</g>
</g>
<g id="xtick_31">
<g id="line2d_125">
<g>
<path d="M 636.1200 772.9200 L 636.1200 776.5200" style="stroke: #e0e0e0; stroke-width: 0.8; fill: #e0e0e0; stroke: #e0e0e0; stroke-width: 0.8" />
</g>
</g>
<g id="text_85" transform="translate(0.288 0.000)">
<text style="font-size: 8px; font-family: 'DejaVu Sans', 'Liberation Sans', sans-serif; text-anchor: middle; fill: #e0e0e0" x="635.652" y="785.6656">500</text>
</g>
</g>
<g id="xtick_32">
<g id="line2d_126">
<g>
<path d="M 684.3600 772.9200 L 684.3600 776.5200" style="stroke: #e0e0e0; stroke-width: 0.8; fill: #e0e0e0; stroke: #e0e0e0; stroke-width: 0.8" />
</g>
</g>
<g id="text_86" transform="translate(0.288 0.000)">
<text style="font-size: 8px; font-family: 'DejaVu Sans', 'Liberation Sans', sans-serif; text-anchor: middle; fill: #e0e0e0" x="684.252" y="785.6656">750</text>
</g>
</g>
<g id="xtick_33">
<g id="line2d_127">
<g>
<path d="M 733.3200 772.9200 L 733.3200 776.5200" style="stroke: #e0e0e0; stroke-width: 0.8; fill: #e0e0e0; stroke: #e0e0e0; stroke-width: 0.8" />
</g>
</g>
<g id="text_87" transform="translate(0.288 0.000)">
<text style="font-size: 8px; font-family: 'DejaVu Sans', 'Liberation Sans', sans-serif; text-anchor: middle; fill: #e0e0e0" x="732.852" y="785.6656">1000</text>
</g>
</g>
<g id="xtick_34">
<g id="line2d_128">
<g>
<path d="M 781.5600 772.9200 L 781.5600 776.5200" style="stroke: #e0e0e0; stroke-width: 0.8; fill: #e0e0e0; stroke: #e0e0e0; stroke-width: 0.8" />
</g>
</g>
<g id="text_88" transform="translate(0.288 0.000)">
<text style="font-size: 8px; font-family: 'DejaVu Sans', 'Liberation Sans', sans-serif; text-anchor: middle; fill: #e0e0e0" x="781.452" y="785.6656">1250</text>
</g>
</g>
<g id="xtick_35">
<g id="line2d_129">
<g>
<path d="M 830.5200 772.9200 L 830.5200 776.5200" style="stroke: #e0e0e0; stroke-width: 0.8; fill: #e0e0e0; stroke: #e0e0e0; stroke-width: 0.8" />
</g>
</g>
<g id="text_89" transform="translate(0.288 0.000)">
<text style="font-size: 8px; font-family: 'DejaVu Sans', 'Liberation Sans', sans-serif; text-anchor: middle; fill: #e0e0e0" x="830.052" y="785.6656">1500</text>
</g>
</g>
<g id="xtick_36">
<g id="line2d_130">
<g>
<path d="M 878.7600 772.9200 L 878.7600 776.5200" style="stroke: #e0e0e0; stroke-width: 0.8; fill: #e0e0e0; stroke: #e0e0e0; stroke-width: 0.8" />
</g>
</g>
<g id="text_90" transform="translate(0.288 0.000)">
<text style="font-size: 8px; font-family: 'DejaVu Sans', 'Liberation Sans', sans-serif; text-anchor: middle; fill: #e0e0e0" x="878.652" y="785.6656">1750</text>
</g>
</g>
<g id="xtick_37">
<g id="line2d_131">
<g>
<path d="M 927.7200 772.9200 L 927.7200 776.5200" style="stroke: #e0e0e0; stroke-width: 0.8; fill: #e0e0e0; stroke: #e0e0e0; stroke-width: 0.8" />
</g>
</g>
<g id="text_91" transform="translate(0.288 0.000)">
<text style="font-size: 8px; font-family: 'DejaVu Sans', 'Liberation Sans', sans-serif; text-anchor: middle; fill: #e0e0e0" x="927.252" y="785.6656">2000</text>
</g>
</g>
<g id="text_92">
<text style="font-size: 9px; font-family: 'DejaVu Sans', 'Liberation Sans', sans-serif; text-anchor: middle; fill: #e0e0e0" x="732.852" y="798.3056">Iteration</text>
</g>
</g>
<g id="matplotlib.axis_10">
<g id="ytick_23">
<g id="line2d_132">
<g>
<path d="M 519.4800 715.3200 L 515.8800 715.3200" style="stroke: #e0e0e0; stroke-width: 0.8; fill: #e0e0e0; stroke: #e0e0e0; stroke-width: 0.8" />
</g>
</g>
<g id="text_93" transform="translate(0.288 0.000)">
<g style="fill: #e0e0e0" transform="translate(492.545935 720.070192)">
<text>
<tspan x="0" y="-0.78125" style="font-size: 8px; font-family: 'DejaVu Sans', 'Liberation Sans', sans-serif; fill: #e0e0e0">1</tspan>
<tspan x="5.089844" y="-0.78125" style="font-size: 8px; font-family: 'DejaVu Sans', 'Liberation Sans', sans-serif; fill: #e0e0e0">0</tspan>
<tspan x="10.25625" y="-3.84375" style="font-size: 5.6px; font-family: 'DejaVu Sans', 'Liberation Sans', sans-serif; fill: #e0e0e0">−</tspan>
<tspan x="14.948437" y="-3.84375" style="font-size: 5.6px; font-family: 'DejaVu Sans', 'Liberation Sans', sans-serif; fill: #e0e0e0">3</tspan>
</text>
</g>
</g>
</g>
<g id="ytick_24">
<g id="line2d_133">
<g>
<path d="M 519.4800 649.8000 L 515.8800 649.8000" style="stroke: #e0e0e0; stroke-width: 0.8; fill: #e0e0e0; stroke: #e0e0e0; stroke-width: 0.8" />
</g>
</g>
<g id="text_94" transform="translate(0.288 0.000)">
<g style="fill: #e0e0e0" transform="translate(492.624685 654.072004)">
<text>
<tspan x="0" y="-0.78125" style="font-size: 8px; font-family: 'DejaVu Sans', 'Liberation Sans', sans-serif; fill: #e0e0e0">1</tspan>
<tspan x="5.089844" y="-0.78125" style="font-size: 8px; font-family: 'DejaVu Sans', 'Liberation Sans', sans-serif; fill: #e0e0e0">0</tspan>
<tspan x="10.25625" y="-3.84375" style="font-size: 5.6px; font-family: 'DejaVu Sans', 'Liberation Sans', sans-serif; fill: #e0e0e0">−</tspan>
<tspan x="14.948437" y="-3.84375" style="font-size: 5.6px; font-family: 'DejaVu Sans', 'Liberation Sans', sans-serif; fill: #e0e0e0">2</tspan>
</text>
</g>
</g>
</g>
<g id="ytick_25">
<g id="line2d_134">
<g>
<path d="M 519.4800 583.5600 L 515.8800 583.5600" style="stroke: #e0e0e0; stroke-width: 0.8; fill: #e0e0e0; stroke: #e0e0e0; stroke-width: 0.8" />
</g>
</g>
<g id="text_95" transform="translate(0.288 0.000)">
<g style="fill: #e0e0e0" transform="translate(492.557185 588.073815)">
<text>
<tspan x="0" y="-0.857813" style="font-size: 8px; font-family: 'DejaVu Sans', 'Liberation Sans', sans-serif; fill: #e0e0e0">1</tspan>
<tspan x="5.089844" y="-0.857813" style="font-size: 8px; font-family: 'DejaVu Sans', 'Liberation Sans', sans-serif; fill: #e0e0e0">0</tspan>
<tspan x="10.25625" y="-3.920313" style="font-size: 5.6px; font-family: 'DejaVu Sans', 'Liberation Sans', sans-serif; fill: #e0e0e0">−</tspan>
<tspan x="14.948437" y="-3.920313" style="font-size: 5.6px; font-family: 'DejaVu Sans', 'Liberation Sans', sans-serif; fill: #e0e0e0">1</tspan>
</text>
</g>
</g>
</g>
<g id="ytick_26">
<g id="line2d_135">
<g>
<path d="M 519.4800 518.0400 L 515.8800 518.0400" style="stroke: #e0e0e0; stroke-width: 0.8; fill: #e0e0e0; stroke: #e0e0e0; stroke-width: 0.8" />
</g>
</g>
<g id="text_96" transform="translate(0.288 0.000)">
<g style="fill: #e0e0e0" transform="translate(497.153988 522.075627)">
<text>
<tspan x="0" y="-0.78125" style="font-size: 8px; font-family: 'DejaVu Sans', 'Liberation Sans', sans-serif; fill: #e0e0e0">1</tspan>
<tspan x="5.089844" y="-0.78125" style="font-size: 8px; font-family: 'DejaVu Sans', 'Liberation Sans', sans-serif; fill: #e0e0e0">0</tspan>
<tspan x="10.25625" y="-3.84375" style="font-size: 5.6px; font-family: 'DejaVu Sans', 'Liberation Sans', sans-serif; fill: #e0e0e0">0</tspan>
</text>
</g>
</g>
</g>
<g id="ytick_27">
<g id="line2d_136">
<g>
<path d="M 519.4800 762.1200 L 517.3200 762.1200" style="stroke: #000000; stroke-width: 0.6; stroke: #000000; stroke-width: 0.6" />
</g>
</g>
</g>
<g id="ytick_28">
<g id="line2d_137">
<g>
<path d="M 519.4800 749.8800 L 517.3200 749.8800" style="stroke: #000000; stroke-width: 0.6; stroke: #000000; stroke-width: 0.6" />
</g>
</g>
</g>
<g id="ytick_29">
<g id="line2d_138">
<g>
<path d="M 519.4800 741.9600 L 517.3200 741.9600" style="stroke: #000000; stroke-width: 0.6; stroke: #000000; stroke-width: 0.6" />
</g>
</g>
</g>
<g id="ytick_30">
<g id="line2d_139">
<g>
<path d="M 519.4800 735.4800 L 517.3200 735.4800" style="stroke: #000000; stroke-width: 0.6; stroke: #000000; stroke-width: 0.6" />
</g>
</g>
</g>
<g id="ytick_31">
<g id="line2d_140">
<g>
<path d="M 519.4800 730.4400 L 517.3200 730.4400" style="stroke: #000000; stroke-width: 0.6; stroke: #000000; stroke-width: 0.6" />
</g>
</g>
</g>
<g id="ytick_32">
<g id="line2d_141">
<g>
<path d="M 519.4800 726.1200 L 517.3200 726.1200" style="stroke: #000000; stroke-width: 0.6; stroke: #000000; stroke-width: 0.6" />
</g>
</g>
</g>
<g id="ytick_33">
<g id="line2d_142">
<g>
<path d="M 519.4800 721.8000 L 517.3200 721.8000" style="stroke: #000000; stroke-width: 0.6; stroke: #000000; stroke-width: 0.6" />
</g>
</g>
</g>
<g id="ytick_34">
<g id="line2d_143">
<g>
<path d="M 519.4800 718.9200 L 517.3200 718.9200" style="stroke: #000000; stroke-width: 0.6; stroke: #000000; stroke-width: 0.6" />
</g>
</g>
</g>
<g id="ytick_35">
<g id="line2d_144">
<g>
<path d="M 519.4800 695.8800 L 517.3200 695.8800" style="stroke: #000000; stroke-width: 0.6; stroke: #000000; stroke-width: 0.6" />
</g>
</g>
</g>
<g id="ytick_36">
<g id="line2d_145">
<g>
<path d="M 519.4800 684.3600 L 517.3200 684.3600" style="stroke: #000000; stroke-width: 0.6; stroke: #000000; stroke-width: 0.6" />
</g>
</g>
</g>
<g id="ytick_37">
<g id="line2d_146">
<g>
<path d="M 519.4800 675.7200 L 517.3200 675.7200" style="stroke: #000000; stroke-width: 0.6; stroke: #000000; stroke-width: 0.6" />
</g>
</g>
</g>
<g id="ytick_38">
<g id="line2d_147">
<g>
<path d="M 519.4800 669.2400 L 517.3200 669.2400" style="stroke: #000000; stroke-width: 0.6; stroke: #000000; stroke-width: 0.6" />
</g>
</g>
</g>
<g id="ytick_39">
<g id="line2d_148">
<g>
<path d="M 519.4800 664.2000 L 517.3200 664.2000" style="stroke: #000000; stroke-width: 0.6; stroke: #000000; stroke-width: 0.6" />
</g>
</g>
</g>
<g id="ytick_40">
<g id="line2d_149">
<g>
<path d="M 519.4800 659.8800 L 517.3200 659.8800" style="stroke: #000000; stroke-width: 0.6; stroke: #000000; stroke-width: 0.6" />
</g>
</g>
</g>
<g id="ytick_41">
<g id="line2d_150">
<g>
<path d="M 519.4800 656.2800 L 517.3200 656.2800" style="stroke: #000000; stroke-width: 0.6; stroke: #000000; stroke-width: 0.6" />
</g>
</g>
</g>
<g id="ytick_42">
<g id="line2d_151">
<g>
<path d="M 519.4800 652.6800 L 517.3200 652.6800" style="stroke: #000000; stroke-width: 0.6; stroke: #000000; stroke-width: 0.6" />
</g>
</g>
</g>
<g id="ytick_43">
<g id="line2d_152">
<g>
<path d="M 519.4800 629.6400 L 517.3200 629.6400" style="stroke: #000000; stroke-width: 0.6; stroke: #000000; stroke-width: 0.6" />
</g>
</g>
</g>
<g id="ytick_44">
<g id="line2d_153">
<g>
<path d="M 519.4800 618.1200 L 517.3200 618.1200" style="stroke: #000000; stroke-width: 0.6; stroke: #000000; stroke-width: 0.6" />
</g>
</g>
</g>
<g id="ytick_45">
<g id="line2d_154">
<g>
<path d="M 519.4800 610.2000 L 517.3200 610.2000" style="stroke: #000000; stroke-width: 0.6; stroke: #000000; stroke-width: 0.6" />
</g>
</g>
</g>
<g id="ytick_46">
<g id="line2d_155">
<g>
<path d="M 519.4800 603.7200 L 517.3200 603.7200" style="stroke: #000000; stroke-width: 0.6; stroke: #000000; stroke-width: 0.6" />
</g>
</g>
</g>
<g id="ytick_47">
<g id="line2d_156">
<g>
<path d="M 519.4800 598.6800 L 517.3200 598.6800" style="stroke: #000000; stroke-width: 0.6; stroke: #000000; stroke-width: 0.6" />
</g>
</g>
</g>
<g id="ytick_48">
<g id="line2d_157">
<g>
<path d="M 519.4800 593.6400 L 517.3200 593.6400" style="stroke: #000000; stroke-width: 0.6; stroke: #000000; stroke-width: 0.6" />
</g>
</g>
</g>
<g id="ytick_49">
<g id="line2d_158">
<g>
<path d="M 519.4800 590.0400 L 517.3200 590.0400" style="stroke: #000000; stroke-width: 0.6; stroke: #000000; stroke-width: 0.6" />
</g>
</g>
</g>
<g id="ytick_50">
<g id="line2d_159">
<g>
<path d="M 519.4800 586.4400 L 517.3200 586.4400" style="stroke: #000000; stroke-width: 0.6; stroke: #000000; stroke-width: 0.6" />
</g>
</g>
</g>
<g id="ytick_51">
<g id="line2d_160">
<g>
<path d="M 519.4800 564.1200 L 517.3200 564.1200" style="stroke: #000000; stroke-width: 0.6; stroke: #000000; stroke-width: 0.6" />
</g>
</g>
</g>
<g id="ytick_52">
<g id="line2d_161">
<g>
<path d="M 519.4800 551.8800 L 517.3200 551.8800" style="stroke: #000000; stroke-width: 0.6; stroke: #000000; stroke-width: 0.6" />
</g>
</g>
</g>
<g id="ytick_53">
<g id="line2d_162">
<g>
<path d="M 519.4800 543.9600 L 517.3200 543.9600" style="stroke: #000000; stroke-width: 0.6; stroke: #000000; stroke-width: 0.6" />
</g>
</g>
</g>
<g id="ytick_54">
<g id="line2d_163">
<g>
<path d="M 519.4800 537.4800 L 517.3200 537.4800" style="stroke: #000000; stroke-width: 0.6; stroke: #000000; stroke-width: 0.6" />
</g>
</g>
</g>
<g id="ytick_55">
<g id="line2d_164">
<g>
<path d="M 519.4800 532.4400 L 517.3200 532.4400" style="stroke: #000000; stroke-width: 0.6; stroke: #000000; stroke-width: 0.6" />
</g>
</g>
</g>
<g id="ytick_56">
<g id="line2d_165">
<g>
<path d="M 519.4800 528.1200 L 517.3200 528.1200" style="stroke: #000000; stroke-width: 0.6; stroke: #000000; stroke-width: 0.6" />
</g>
</g>
</g>
<g id="ytick_57">
<g id="line2d_166">
<g>
<path d="M 519.4800 523.8000 L 517.3200 523.8000" style="stroke: #000000; stroke-width: 0.6; stroke: #000000; stroke-width: 0.6" />
</g>
</g>
</g>
<g id="ytick_58">
<g id="line2d_167">
<g>
<path d="M 519.4800 520.9200 L 517.3200 520.9200" style="stroke: #000000; stroke-width: 0.6; stroke: #000000; stroke-width: 0.6" />
</g>
</g>
</g>
<g id="ytick_59">
<g id="line2d_168">
<g>
<path d="M 519.4800 497.8800 L 517.3200 497.8800" style="stroke: #000000; stroke-width: 0.6; stroke: #000000; stroke-width: 0.6" />
</g>
</g>
</g>
<g id="ytick_60">
<g id="line2d_169">
<g>
<path d="M 519.4800 486.3600 L 517.3200 486.3600" style="stroke: #000000; stroke-width: 0.6; stroke: #000000; stroke-width: 0.6" />
</g>
</g>
</g>
<g id="ytick_61">
<g id="line2d_170">
<g>
<path d="M 519.4800 477.7200 L 517.3200 477.7200" style="stroke: #000000; stroke-width: 0.6; stroke: #000000; stroke-width: 0.6" />
</g>
</g>
</g>
<g id="ytick_62">
<g id="line2d_171">
<g>
<path d="M 519.4800 471.2400 L 517.3200 471.2400" style="stroke: #000000; stroke-width: 0.6; stroke: #000000; stroke-width: 0.6" />
</g>
</g>
</g>
<g id="ytick_63">
<g id="line2d_172">
<g>
<path d="M 519.4800 466.2000 L 517.3200 466.2000" style="stroke: #000000; stroke-width: 0.6; stroke: #000000; stroke-width: 0.6" />
</g>
</g>
</g>
<g id="ytick_64">
<g id="line2d_173">
<g>
<path d="M 519.4800 461.8800 L 517.3200 461.8800" style="stroke: #000000; stroke-width: 0.6; stroke: #000000; stroke-width: 0.6" />
</g>
</g>
</g>
<g id="ytick_65">
<g id="line2d_174">
<g>
<path d="M 519.4800 458.2800 L 517.3200 458.2800" style="stroke: #000000; stroke-width: 0.6; stroke: #000000; stroke-width: 0.6" />
</g>
</g>
</g>
<g id="text_97">
<text style="font-size: 9px; font-family: 'DejaVu Sans', 'Liberation Sans', sans-serif; text-anchor: middle; fill: #e0e0e0" x="485.8819" y="616.2336" transform="rotate(-90 485.8819 616.2336)">Temperature (log)</text>
</g>
</g>
<g id="line2d_175">
<path d="M 538.452 471.192873  L 927.252 758.538327  L 927.252 758.538327  " clip-path="url(#p73f370abc8)" style="fill: none; stroke: #bf5af2; stroke-width: 1.5; stroke-linecap: square" />
</g>
<g id="patch_45">
<path d="M 519.4800 772.9200 L 519.4800 456.8400" style="fill: none; stroke: #2a2a4a; stroke-width: 0.8; stroke-linejoin: miter; stroke-linecap: square" />
</g>
<g id="patch_46">
<path d="M 947.1600 772.9200 L 947.1600 456.8400" style="fill: none; stroke: #2a2a4a; stroke-width: 0.8; stroke-linejoin: miter; stroke-linecap: square" />
</g>
<g id="patch_47">
<path d="M 519.4800 772.9200 L 947.1600 772.9200" style="fill: none; stroke: #2a2a4a; stroke-width: 0.8; stroke-linejoin: miter; stroke-linecap: square" />
</g>
<g id="patch_48">
<path d="M 519.4800 456.8400 L 947.1600 456.8400" style="fill: none; stroke: #2a2a4a; stroke-width: 0.8; stroke-linejoin: miter; stroke-linecap: square" />
</g>
<g id="text_98">
<text style="font-weight: 700; font-size: 11px; font-family: 'DejaVu Sans', 'Liberation Sans', sans-serif; text-anchor: middle; fill: #e0e0e0" x="732.852" y="450.8256">Annealing Temperature Schedule</text>
</g>
</g>
<g id="axes_6">
<g id="patch_49">
<path d="M 997.9200 772.5600 L 1425.6000 772.5600 L 1425.6000 456.4800 L 997.9200 456.4800 z" style="fill: #1a1a2e" />
</g>
<g id="patch_50">
<path d="M 1017.7200 772.9200 L 1031.4000 772.9200 L 1031.4000 510.1200 L 1017.7200 510.1200 z" clip-path="url(#p3719ef6239)" style="fill: #ff4444; opacity: 0.8; stroke: #ffffff; stroke-width: 0.5; stroke-linejoin: miter" />
</g>
<g id="patch_51">
<path d="M 1057.3200 772.9200 L 1071.0000 772.9200 L 1071.0000 735.4800 L 1057.3200 735.4800 z" clip-path="url(#p3719ef6239)" style="fill: #ff4444; opacity: 0.8; stroke: #ffffff; stroke-width: 0.5; stroke-linejoin: miter" />
</g>
<g id="patch_52">
<path d="M 1096.9200 772.9200 L 1111.3200 772.9200 L 1111.3200 471.9600 L 1096.9200 471.9600 z" clip-path="url(#p3719ef6239)" style="fill: #ff4444; opacity: 0.8; stroke: #ffffff; stroke-width: 0.5; stroke-linejoin: miter" />
</g>
<g id="patch_53">
<path d="M 1137.2400 772.9200 L 1150.9200 772.9200 L 1150.9200 660.6000 L 1137.2400 660.6000 z" clip-path="url(#p3719ef6239)" style="fill: #ff4444; opacity: 0.8; stroke: #ffffff; stroke-width: 0.5; stroke-linejoin: miter" />
</g>
<g id="patch_54">
<path d="M 1176.8400 772.9200 L 1191.2400 772.9200 L 1191.2400 735.4800 L 1176.8400 735.4800 z" clip-path="url(#p3719ef6239)" style="fill: #ff4444; opacity: 0.8; stroke: #ffffff; stroke-width: 0.5; stroke-linejoin: miter" />
</g>
<g id="patch_55">
<path d="M 1217.1600 772.9200 L 1230.8400 772.9200 L 1230.8400 547.5600 L 1217.1600 547.5600 z" clip-path="url(#p3719ef6239)" style="fill: #ff4444; opacity: 0.8; stroke: #ffffff; stroke-width: 0.5; stroke-linejoin: miter" />
</g>
<g id="patch_56">
<path d="M 1256.7600 772.9200 L 1270.4400 772.9200 L 1270.4400 698.0400 L 1256.7600 698.0400 z" clip-path="url(#p3719ef6239)" style="fill: #ff4444; opacity: 0.8; stroke: #ffffff; stroke-width: 0.5; stroke-linejoin: miter" />
</g>
<g id="patch_57">
<path d="M 1296.3600 772.9200 L 1310.7600 772.9200 L 1310.7600 510.1200 L 1296.3600 510.1200 z" clip-path="url(#p3719ef6239)" style="fill: #ff4444; opacity: 0.8; stroke: #ffffff; stroke-width: 0.5; stroke-linejoin: miter" />
</g>
<g id="patch_58">
<path d="M 1336.6800 772.9200 L 1350.3600 772.9200 L 1350.3600 547.5600 L 1336.6800 547.5600 z" clip-path="url(#p3719ef6239)" style="fill: #ff4444; opacity: 0.8; stroke: #ffffff; stroke-width: 0.5; stroke-linejoin: miter" />
</g>
<g id="patch_59">
<path d="M 1376.2800 772.9200 L 1389.9600 772.9200 L 1389.9600 735.4800 L 1376.2800 735.4800 z" clip-path="url(#p3719ef6239)" style="fill: #ff4444; opacity: 0.8; stroke: #ffffff; stroke-width: 0.5; stroke-linejoin: miter" />
</g>
<g id="patch_60">
<path d="M 1033.5600 772.9200 L 1047.2400 772.9200 L 1047.2400 622.4400 L 1033.5600 622.4400 z" clip-path="url(#p3719ef6239)" style="fill: #39ff14; opacity: 0.8; stroke: #ffffff; stroke-width: 0.5; stroke-linejoin: miter" />
</g>
<g id="patch_61">
<path d="M 1073.1600 772.9200 L 1087.5600 772.9200 L 1087.5600 735.4800 L 1073.1600 735.4800 z" clip-path="url(#p3719ef6239)" style="fill: #39ff14; opacity: 0.8; stroke: #ffffff; stroke-width: 0.5; stroke-linejoin: miter" />
</g>
<g id="patch_62">
<path d="M 1113.4800 772.9200 L 1127.1600 772.9200 L 1127.1600 622.4400 L 1113.4800 622.4400 z" clip-path="url(#p3719ef6239)" style="fill: #39ff14; opacity: 0.8; stroke: #ffffff; stroke-width: 0.5; stroke-linejoin: miter" />
</g>
<g id="patch_63">
<path d="M 1153.0800 772.9200 L 1166.7600 772.9200 L 1166.7600 660.6000 L 1153.0800 660.6000 z" clip-path="url(#p3719ef6239)" style="fill: #39ff14; opacity: 0.8; stroke: #ffffff; stroke-width: 0.5; stroke-linejoin: miter" />
</g>
<g id="patch_64">
<path d="M 1192.6800 772.9200 L 1207.0800 772.9200 L 1207.0800 735.4800 L 1192.6800 735.4800 z" clip-path="url(#p3719ef6239)" style="fill: #39ff14; opacity: 0.8; stroke: #ffffff; stroke-width: 0.5; stroke-linejoin: miter" />
</g>
<g id="patch_65">
<path d="M 1233.0000 772.9200 L 1246.6800 772.9200 L 1246.6800 585.0000 L 1233.0000 585.0000 z" clip-path="url(#p3719ef6239)" style="fill: #39ff14; opacity: 0.8; stroke: #ffffff; stroke-width: 0.5; stroke-linejoin: miter" />
</g>
<g id="patch_66">
<path d="M 1272.6000 772.9200 L 1286.2800 772.9200 L 1286.2800 735.4800 L 1272.6000 735.4800 z" clip-path="url(#p3719ef6239)" style="fill: #39ff14; opacity: 0.8; stroke: #ffffff; stroke-width: 0.5; stroke-linejoin: miter" />
</g>
<g id="patch_67">
<path d="M 1312.2000 772.9200 L 1326.6000 772.9200 L 1326.6000 698.0400 L 1312.2000 698.0400 z" clip-path="url(#p3719ef6239)" style="fill: #39ff14; opacity: 0.8; stroke: #ffffff; stroke-width: 0.5; stroke-linejoin: miter" />
</g>
<g id="patch_68">
<path d="M 1352.5200 772.9200 L 1366.2000 772.9200 L 1366.2000 698.0400 L 1352.5200 698.0400 z" clip-path="url(#p3719ef6239)" style="fill: #39ff14; opacity: 0.8; stroke: #ffffff; stroke-width: 0.5; stroke-linejoin: miter" />
</g>
<g id="patch_69">
<path d="M 1392.1200 772.9200 L 1406.5200 772.9200 L 1406.5200 735.4800 L 1392.1200 735.4800 z" clip-path="url(#p3719ef6239)" style="fill: #39ff14; opacity: 0.8; stroke: #ffffff; stroke-width: 0.5; stroke-linejoin: miter" />
</g>
<g id="matplotlib.axis_11">
<g id="xtick_38">
<g id="line2d_176">
<g>
<path d="M 1032.1200 772.9200 L 1032.1200 776.5200" style="stroke: #e0e0e0; stroke-width: 0.8; fill: #e0e0e0; stroke: #e0e0e0; stroke-width: 0.8" />
</g>
</g>
<g id="text_99" transform="translate(0.288 0.000)">
<text style="font-size: 8px; font-family: 'DejaVu Sans', 'Liberation Sans', sans-serif; text-anchor: middle; fill: #e0e0e0" x="1032.025846" y="785.6656">N0</text>
</g>
</g>
<g id="xtick_39">
<g id="line2d_177">
<g>
<path d="M 1072.4400 772.9200 L 1072.4400 776.5200" style="stroke: #e0e0e0; stroke-width: 0.8; fill: #e0e0e0; stroke: #e0e0e0; stroke-width: 0.8" />
</g>
</g>
<g id="text_100" transform="translate(0.288 0.000)">
<text style="font-size: 8px; font-family: 'DejaVu Sans', 'Liberation Sans', sans-serif; text-anchor: middle; fill: #e0e0e0" x="1071.902769" y="785.6656">N1</text>
</g>
</g>
<g id="xtick_40">
<g id="line2d_178">
<g>
<path d="M 1112.0400 772.9200 L 1112.0400 776.5200" style="stroke: #e0e0e0; stroke-width: 0.8; fill: #e0e0e0; stroke: #e0e0e0; stroke-width: 0.8" />
</g>
</g>
<g id="text_101" transform="translate(0.288 0.000)">
<text style="font-size: 8px; font-family: 'DejaVu Sans', 'Liberation Sans', sans-serif; text-anchor: middle; fill: #e0e0e0" x="1111.779692" y="785.6656">N2</text>
</g>
</g>
<g id="xtick_41">
<g id="line2d_179">
<g>
<path d="M 1152.3600 772.9200 L 1152.3600 776.5200" style="stroke: #e0e0e0; stroke-width: 0.8; fill: #e0e0e0; stroke: #e0e0e0; stroke-width: 0.8" />
</g>
</g>
<g id="text_102" transform="translate(0.288 0.000)">
<text style="font-size: 8px; font-family: 'DejaVu Sans', 'Liberation Sans', sans-serif; text-anchor: middle; fill: #e0e0e0" x="1151.656615" y="785.6656">N3</text>
</g>
</g>
<g id="xtick_42">
<g id="line2d_180">
<g>
<path d="M 1191.9600 772.9200 L 1191.9600 776.5200" style="stroke: #e0e0e0; stroke-width: 0.8; fill: #e0e0e0; stroke: #e0e0e0; stroke-width: 0.8" />
</g>
</g>
<g id="text_103" transform="translate(0.288 0.000)">
<text style="font-size: 8px; font-family: 'DejaVu Sans', 'Liberation Sans', sans-serif; text-anchor: middle; fill: #e0e0e0" x="1191.533538" y="785.6656">N4</text>
</g>
</g>
<g id="xtick_43">
<g id="line2d_181">
<g>
<path d="M 1231.5600 772.9200 L 1231.5600 776.5200" style="stroke: #e0e0e0; stroke-width: 0.8; fill: #e0e0e0; stroke: #e0e0e0; stroke-width: 0.8" />
</g>
</g>
<g id="text_104" transform="translate(0.288 0.000)">
<text style="font-size: 8px; font-family: 'DejaVu Sans', 'Liberation Sans', sans-serif; text-anchor: middle; fill: #e0e0e0" x="1231.410462" y="785.6656">N5</text>
</g>
</g>
<g id="xtick_44">
<g id="line2d_182">
<g>
<path d="M 1271.8800 772.9200 L 1271.8800 776.5200" style="stroke: #e0e0e0; stroke-width: 0.8; fill: #e0e0e0; stroke: #e0e0e0; stroke-width: 0.8" />
</g>
</g>
<g id="text_105" transform="translate(0.288 0.000)">
<text style="font-size: 8px; font-family: 'DejaVu Sans', 'Liberation Sans', sans-serif; text-anchor: middle; fill: #e0e0e0" x="1271.287385" y="785.6656">N6</text>
</g>
</g>
<g id="xtick_45">
<g id="line2d_183">
<g>
<path d="M 1311.4800 772.9200 L 1311.4800 776.5200" style="stroke: #e0e0e0; stroke-width: 0.8; fill: #e0e0e0; stroke: #e0e0e0; stroke-width: 0.8" />
</g>
</g>
<g id="text_106" transform="translate(0.288 0.000)">
<text style="font-size: 8px; font-family: 'DejaVu Sans', 'Liberation Sans', sans-serif; text-anchor: middle; fill: #e0e0e0" x="1311.164308" y="785.6656">N7</text>
</g>
</g>
<g id="xtick_46">
<g id="line2d_184">
<g>
<path d="M 1351.0800 772.9200 L 1351.0800 776.5200" style="stroke: #e0e0e0; stroke-width: 0.8; fill: #e0e0e0; stroke: #e0e0e0; stroke-width: 0.8" />
</g>
</g>
<g id="text_107" transform="translate(0.288 0.000)">
<text style="font-size: 8px; font-family: 'DejaVu Sans', 'Liberation Sans', sans-serif; text-anchor: middle; fill: #e0e0e0" x="1351.041231" y="785.6656">N8</text>
</g>
</g>
<g id="xtick_47">
<g id="line2d_185">
<g>
<path d="M 1391.4000 772.9200 L 1391.4000 776.5200" style="stroke: #e0e0e0; stroke-width: 0.8; fill: #e0e0e0; stroke: #e0e0e0; stroke-width: 0.8" />
</g>
</g>
<g id="text_108" transform="translate(0.288 0.000)">
<text style="font-size: 8px; font-family: 'DejaVu Sans', 'Liberation Sans', sans-serif; text-anchor: middle; fill: #e0e0e0" x="1390.918154" y="785.6656">N9</text>
</g>
</g>
<g id="text_109">
<text style="font-size: 9px; font-family: 'DejaVu Sans', 'Liberation Sans', sans-serif; text-anchor: middle; fill: #e0e0e0" x="1211.472" y="798.3056">Net ID</text>
</g>
</g>
<g id="matplotlib.axis_12">
<g id="ytick_66">
<g id="line2d_186">
<g>
<path d="M 998.2800 772.9200 L 994.6800 772.9200" style="stroke: #e0e0e0; stroke-width: 0.8; fill: #e0e0e0; stroke: #e0e0e0; stroke-width: 0.8" />
</g>
</g>
<g id="text_110" transform="translate(0.288 0.000)">
<text style="font-size: 8px; font-family: 'DejaVu Sans', 'Liberation Sans', sans-serif; text-anchor: end; fill: #e0e0e0" x="990.632" y="775.7856">0</text>
</g>
</g>
<g id="ytick_67">
<g id="line2d_187">
<g>
<path d="M 998.2800 735.4800 L 994.6800 735.4800" style="stroke: #e0e0e0; stroke-width: 0.8; fill: #e0e0e0; stroke: #e0e0e0; stroke-width: 0.8" />
</g>
</g>
<g id="text_111" transform="translate(0.288 0.000)">
<text style="font-size: 8px; font-family: 'DejaVu Sans', 'Liberation Sans', sans-serif; text-anchor: end; fill: #e0e0e0" x="990.632" y="738.157029">1</text>
</g>
</g>
<g id="ytick_68">
<g id="line2d_188">
<g>
<path d="M 998.2800 698.0400 L 994.6800 698.0400" style="stroke: #e0e0e0; stroke-width: 0.8; fill: #e0e0e0; stroke: #e0e0e0; stroke-width: 0.8" />
</g>
</g>
<g id="text_112" transform="translate(0.288 0.000)">
<text style="font-size: 8px; font-family: 'DejaVu Sans', 'Liberation Sans', sans-serif; text-anchor: end; fill: #e0e0e0" x="990.632" y="700.528457">2</text>
</g>
</g>
<g id="ytick_69">
<g id="line2d_189">
<g>
<path d="M 998.2800 660.6000 L 994.6800 660.6000" style="stroke: #e0e0e0; stroke-width: 0.8; fill: #e0e0e0; stroke: #e0e0e0; stroke-width: 0.8" />
</g>
</g>
<g id="text_113" transform="translate(0.288 0.000)">
<text style="font-size: 8px; font-family: 'DejaVu Sans', 'Liberation Sans', sans-serif; text-anchor: end; fill: #e0e0e0" x="990.632" y="662.899886">3</text>
</g>
</g>
<g id="ytick_70">
<g id="line2d_190">
<g>
<path d="M 998.2800 622.4400 L 994.6800 622.4400" style="stroke: #e0e0e0; stroke-width: 0.8; fill: #e0e0e0; stroke: #e0e0e0; stroke-width: 0.8" />
</g>
</g>
<g id="text_114" transform="translate(0.288 0.000)">
<text style="font-size: 8px; font-family: 'DejaVu Sans', 'Liberation Sans', sans-serif; text-anchor: end; fill: #e0e0e0" x="990.632" y="625.271314">4</text>
</g>
</g>
<g id="ytick_71">
<g id="line2d_191">
<g>
<path d="M 998.2800 585.0000 L 994.6800 585.0000" style="stroke: #e0e0e0; stroke-width: 0.8; fill: #e0e0e0; stroke: #e0e0e0; stroke-width: 0.8" />
</g>
</g>
<g id="text_115" transform="translate(0.288 0.000)">
<text style="font-size: 8px; font-family: 'DejaVu Sans', 'Liberation Sans', sans-serif; text-anchor: end; fill: #e0e0e0" x="990.632" y="587.642743">5</text>
</g>
</g>
<g id="ytick_72">
<g id="line2d_192">
<g>
<path d="M 998.2800 547.5600 L 994.6800 547.5600" style="stroke: #e0e0e0; stroke-width: 0.8; fill: #e0e0e0; stroke: #e0e0e0; stroke-width: 0.8" />
</g>
</g>
<g id="text_116" transform="translate(0.288 0.000)">
<text style="font-size: 8px; font-family: 'DejaVu Sans', 'Liberation Sans', sans-serif; text-anchor: end; fill: #e0e0e0" x="990.632" y="550.014171">6</text>
</g>
</g>
<g id="ytick_73">
<g id="line2d_193">
<g>
<path d="M 998.2800 510.1200 L 994.6800 510.1200" style="stroke: #e0e0e0; stroke-width: 0.8; fill: #e0e0e0; stroke: #e0e0e0; stroke-width: 0.8" />
</g>
</g>
<g id="text_117" transform="translate(0.288 0.000)">
<text style="font-size: 8px; font-family: 'DejaVu Sans', 'Liberation Sans', sans-serif; text-anchor: end; fill: #e0e0e0" x="990.632" y="512.3856">7</text>
</g>
</g>
<g id="ytick_74">
<g id="line2d_194">
<g>
<path d="M 998.2800 471.9600 L 994.6800 471.9600" style="stroke: #e0e0e0; stroke-width: 0.8; fill: #e0e0e0; stroke: #e0e0e0; stroke-width: 0.8" />
</g>
</g>
<g id="text_118" transform="translate(0.288 0.000)">
<text style="font-size: 8px; font-family: 'DejaVu Sans', 'Liberation Sans', sans-serif; text-anchor: end; fill: #e0e0e0" x="990.632" y="474.757029">8</text>
</g>
</g>
<g id="text_119">
<text style="font-size: 9px; font-family: 'DejaVu Sans', 'Liberation Sans', sans-serif; text-anchor: middle; fill: #e0e0e0" x="978.8380" y="616.2336" transform="rotate(-90 978.8380 616.2336)">Wire Length</text>
</g>
</g>
<g id="patch_70">
<path d="M 998.2800 772.9200 L 998.2800 456.8400" style="fill: none; stroke: #2a2a4a; stroke-width: 0.8; stroke-linejoin: miter; stroke-linecap: square" />
</g>
<g id="patch_71">
<path d="M 1425.9600 772.9200 L 1425.9600 456.8400" style="fill: none; stroke: #2a2a4a; stroke-width: 0.8; stroke-linejoin: miter; stroke-linecap: square" />
</g>
<g id="patch_72">
<path d="M 998.2800 772.9200 L 1425.9600 772.9200" style="fill: none; stroke: #2a2a4a; stroke-width: 0.8; stroke-linejoin: miter; stroke-linecap: square" />
</g>
<g id="patch_73">
<path d="M 998.2800 456.8400 L 1425.9600 456.8400" style="fill: none; stroke: #2a2a4a; stroke-width: 0.8; stroke-linejoin: miter; stroke-linecap: square" />
</g>
<g id="text_120">
<text style="font-weight: 700; font-size: 11px; font-family: 'DejaVu Sans', 'Liberation Sans', sans-serif; text-anchor: middle; fill: #e0e0e0" x="1211.472" y="450.8256">Per-Net Wire Length</text>
</g>
<g id="legend_3">
<g id="patch_74">
<path d="M 1352.982 485.6256  L 1419.712 485.6256  Q 1421.312 485.6256 1421.312 484.0256  L 1421.312 462.4256  Q 1421.312 460.8256 1419.712 460.8256  L 1352.982 460.8256  Q 1351.382 460.8256 1351.382 462.4256  L 1351.382 484.0256  Q 1351.382 485.6256 1352.982 485.6256  z " style="fill: #1a1a2e; opacity: 0.8; stroke: #cccccc; stroke-linejoin: miter" />
</g>
<g id="patch_75">
<path d="M 1354.6800 469.8000 L 1371.2400 469.8000 L 1371.2400 464.7600 L 1354.6800 464.7600 z" style="fill: #ff4444; opacity: 0.8; stroke: #ffffff; stroke-width: 0.5; stroke-linejoin: miter" />
</g>
<g id="text_121">
<text style="font-size: 8px; font-family: 'DejaVu Sans', 'Liberation Sans', sans-serif; text-anchor: start; fill: #e0e0e0" x="1376.982" y="469.7856">Initial</text>
</g>
<g id="patch_76">
<path d="M 1354.6800 481.3200 L 1371.2400 481.3200 L 1371.2400 475.5600 L 1354.6800 475.5600 z" style="fill: #39ff14; opacity: 0.8; stroke: #ffffff; stroke-width: 0.5; stroke-linejoin: miter" />
</g>
<g id="text_122">
<text style="font-size: 8px; font-family: 'DejaVu Sans', 'Liberation Sans', sans-serif; text-anchor: start; fill: #e0e0e0" x="1376.982" y="480.9856">Optimized</text>
</g>
</g>
</g>
<g id="pane3d_1">
<g id="patch_77">
<path d="M 69.02822 1067.728802  L 173.408159 980.235467  L 171.957177 854.054438  L 62.58212 933.871373  " style="fill: none; opacity: 0.5; stroke: #2a2a4a; stroke-linejoin: miter" />
</g>
</g>
<g id="pane3d_2">
<g id="patch_78">
<path d="M 173.408159 980.235467  L 340.900717 1028.918941  L 346.877936 898.391752  L 171.957177 854.054438  " style="fill: none; opacity: 0.5; stroke: #2a2a4a; stroke-linejoin: miter" />
</g>
</g>
<g id="pane3d_3">
<g id="patch_79">
<path d="M 69.02822 1067.728802  L 246.578513 1125.716727  L 340.900717 1028.918941  L 173.408159 980.235467  " style="fill: none; opacity: 0.5; stroke: #2a2a4a; stroke-linejoin: miter" />
</g>
</g>
<g id="grid3d_1">
<g id="Line3DCollection_1">
<path d="M 79.781597 1071.240855  L 183.594543 983.196247  L 182.57425 856.745557  " style="fill: none; stroke: #b0b0b0; stroke-width: 0.8" />
<path d="M 98.380997 1077.315418  L 201.200374 988.313567  L 200.930892 861.39843  " style="fill: none; stroke: #b0b0b0; stroke-width: 0.8" />
<path d="M 117.191928 1083.459068  L 218.989856 993.484267  L 219.487287 866.101936  " style="fill: none; stroke: #b0b0b0; stroke-width: 0.8" />
<path d="M 136.218019 1089.67299  L 236.965876 998.709187  L 238.246714 870.856904  " style="fill: none; stroke: #b0b0b0; stroke-width: 0.8" />
<path d="M 155.462985 1095.958396  L 255.131386 1003.989183  L 257.212523 875.664183  " style="fill: none; stroke: #b0b0b0; stroke-width: 0.8" />
<path d="M 174.930622 1102.316526  L 273.489397 1009.325132  L 276.388139 880.524643  " style="fill: none; stroke: #b0b0b0; stroke-width: 0.8" />
<path d="M 194.624819 1108.748651  L 292.042984 1014.717927  L 295.777062 885.43917  " style="fill: none; stroke: #b0b0b0; stroke-width: 0.8" />
<path d="M 214.549554 1115.256069  L 310.795291 1020.168483  L 315.382871 890.408671  " style="fill: none; stroke: #b0b0b0; stroke-width: 0.8" />
<path d="M 234.708898 1121.840111  L 329.749527 1025.677731  L 335.209228 895.434074  " style="fill: none; stroke: #b0b0b0; stroke-width: 0.8" />
</g>
</g>
<g id="grid3d_2">
<g id="Line3DCollection_2">
<path d="M 70.145677 928.351834  L 76.22088 1061.699771  L 253.104879 1119.019069  " style="fill: none; stroke: #b0b0b0; stroke-width: 0.8" />
<path d="M 82.90652 919.039552  L 88.364518 1051.520733  L 264.114565 1107.720423  " style="fill: none; stroke: #b0b0b0; stroke-width: 0.8" />
<path d="M 95.414726 909.911633  L 100.278173 1041.534471  L 274.904742 1096.647047  " style="fill: none; stroke: #b0b0b0; stroke-width: 0.8" />
<path d="M 107.677724 900.962655  L 111.968317 1031.73556  L 285.481911 1085.79227  " style="fill: none; stroke: #b0b0b0; stroke-width: 0.8" />
<path d="M 119.702655 892.187409  L 123.441181 1022.118778  L 295.852317 1075.149682  " style="fill: none; stroke: #b0b0b0; stroke-width: 0.8" />
<path d="M 131.496384 883.580882  L 134.702768 1012.679093  L 306.021964 1064.713123  " style="fill: none; stroke: #b0b0b0; stroke-width: 0.8" />
<path d="M 143.065516 875.138257  L 145.758859 1003.411658  L 315.996626 1054.476665  " style="fill: none; stroke: #b0b0b0; stroke-width: 0.8" />
<path d="M 154.416406 866.854894  L 156.615029 994.311801  L 325.781858 1044.43461  " style="fill: none; stroke: #b0b0b0; stroke-width: 0.8" />
<path d="M 165.555172 858.72633  L 167.276653 985.375017  L 335.383005 1034.581471  " style="fill: none; stroke: #b0b0b0; stroke-width: 0.8" />
</g>
</g>
<g id="grid3d_3">
<g id="Line3DCollection_3">
<path d="M 341.265773 1020.947061  L 173.319365 972.513737  L 68.63515 1059.566461  " style="fill: none; stroke: #b0b0b0; stroke-width: 0.8" />
<path d="M 342.107734 1002.560783  L 173.114659 954.712  L 67.72827 1040.734502  " style="fill: none; stroke: #b0b0b0; stroke-width: 0.8" />
<path d="M 342.960359 983.941629  L 172.907485 936.695584  L 66.809464 1021.654908  " style="fill: none; stroke: #b0b0b0; stroke-width: 0.8" />
<path d="M 343.823852 965.085145  L 172.697797 918.46058  L 65.878497 1002.322762  " style="fill: none; stroke: #b0b0b0; stroke-width: 0.8" />
<path d="M 344.698422 945.986766  L 172.485549 900.002987  L 64.935124 982.733016  " style="fill: none; stroke: #b0b0b0; stroke-width: 0.8" />
<path d="M 345.584284 926.641806  L 172.270695 881.318704  L 63.979097 962.880486  " style="fill: none; stroke: #b0b0b0; stroke-width: 0.8" />
<path d="M 346.481658 907.045459  L 172.053185 862.403529  L 63.010158 942.75985  " style="fill: none; stroke: #b0b0b0; stroke-width: 0.8" />
</g>
</g>
<g id="axis3d_1">
<g id="line2d_195">
<path d="M 69.02822 1067.728802  L 246.578513 1125.716727  " style="fill: none; stroke: #000000; stroke-width: 0.8; stroke-linecap: square" />
</g>
<g id="xtick_48">
<g id="line2d_196">
<path d="M 80.685594 1070.474167  L 77.969724 1072.777519  " style="fill: none; stroke: #e0e0e0; stroke-width: 0.8; stroke-linecap: square" />
</g>
<g id="text_123">
<text style="font-size: 7px; font-family: 'DejaVu Sans', 'Liberation Sans', sans-serif; text-anchor: middle; fill: #e0e0e0" x="72.25697" y="1092.702339">0.0</text>
</g>
</g>
<g id="xtick_49">
<g id="line2d_197">
<path d="M 99.276753 1076.540039  L 96.585618 1078.869523  " style="fill: none; stroke: #e0e0e0; stroke-width: 0.8; stroke-linecap: square" />
</g>
<g id="text_124">
<text style="font-size: 7px; font-family: 'DejaVu Sans', 'Liberation Sans', sans-serif; text-anchor: middle; fill: #e0e0e0" x="90.872193" y="1098.885072">0.5</text>
</g>
</g>
<g id="xtick_50">
<g id="line2d_198">
<path d="M 118.079197 1082.674849  L 115.413538 1085.030911  " style="fill: none; stroke: #e0e0e0; stroke-width: 0.8; stroke-linecap: square" />
</g>
<g id="text_125">
<text style="font-size: 7px; font-family: 'DejaVu Sans', 'Liberation Sans', sans-serif; text-anchor: middle; fill: #e0e0e0" x="109.699797" y="1105.138343">1.0</text>
</g>
</g>
<g id="xtick_51">
<g id="line2d_199">
<path d="M 137.096549 1088.879778  L 134.457126 1091.262876  " style="fill: none; stroke: #e0e0e0; stroke-width: 0.8; stroke-linecap: square" />
</g>
<g id="text_126">
<text style="font-size: 7px; font-family: 'DejaVu Sans', 'Liberation Sans', sans-serif; text-anchor: middle; fill: #e0e0e0" x="128.743439" y="1111.463368">1.5</text>
</g>
</g>
<g id="xtick_52">
<g id="line2d_200">
<path d="M 156.332514 1095.156036  L 153.720109 1097.566637  " style="fill: none; stroke: #e0e0e0; stroke-width: 0.8; stroke-linecap: square" />
</g>
<g id="text_127">
<text style="font-size: 7px; font-family: 'DejaVu Sans', 'Liberation Sans', sans-serif; text-anchor: middle; fill: #e0e0e0" x="148.006856" y="1117.861387">2.0</text>
</g>
</g>
<g id="xtick_53">
<g id="line2d_201">
<path d="M 175.790883 1101.504859  L 173.206302 1103.943443  " style="fill: none; stroke: #e0e0e0; stroke-width: 0.8; stroke-linecap: square" />
</g>
<g id="text_128">
<text style="font-size: 7px; font-family: 'DejaVu Sans', 'Liberation Sans', sans-serif; text-anchor: middle; fill: #e0e0e0" x="167.493877" y="1124.333673">2.5</text>
</g>
</g>
<g id="xtick_54">
<g id="line2d_202">
<path d="M 195.475537 1107.927514  L 192.919605 1110.394571  " style="fill: none; stroke: #e0e0e0; stroke-width: 0.8; stroke-linecap: square" />
</g>
<g id="text_129">
<text style="font-size: 7px; font-family: 'DejaVu Sans', 'Liberation Sans', sans-serif; text-anchor: middle; fill: #e0e0e0" x="187.208417" y="1130.881525">3.0</text>
</g>
</g>
<g id="xtick_55">
<g id="line2d_203">
<path d="M 215.390446 1114.425296  L 212.864014 1116.921327  " style="fill: none; stroke: #e0e0e0; stroke-width: 0.8; stroke-linecap: square" />
</g>
<g id="text_130">
<text style="font-size: 7px; font-family: 'DejaVu Sans', 'Liberation Sans', sans-serif; text-anchor: middle; fill: #e0e0e0" x="207.154485" y="1137.506275">3.5</text>
</g>
</g>
<g id="xtick_56">
<g id="line2d_204">
<path d="M 235.539673 1120.99953  L 233.043615 1123.525049  " style="fill: none; stroke: #e0e0e0; stroke-width: 0.8; stroke-linecap: square" />
</g>
<g id="text_131">
<text style="font-size: 7px; font-family: 'DejaVu Sans', 'Liberation Sans', sans-serif; text-anchor: middle; fill: #e0e0e0" x="227.336182" y="1144.209285">4.0</text>
</g>
</g>
<g id="text_132">
<text style="font-size: 8px; font-family: 'DejaVu Sans', 'Liberation Sans', sans-serif; text-anchor: middle; fill: #e0e0e0" x="138.522295" y="1133.237446" transform="rotate(-341.912962 138.522295 1133.237446)">Grid X</text>
</g>
</g>
<g id="axis3d_2">
<g id="line2d_205">
<path d="M 340.900717 1028.918941  L 246.578513 1125.716727  " style="fill: none; stroke: #000000; stroke-width: 0.8; stroke-linecap: square" />
</g>
<g id="xtick_57">
<g id="line2d_206">
<path d="M 251.614272 1118.536038  L 256.089948 1119.986381  " style="fill: none; stroke: #e0e0e0; stroke-width: 0.8; stroke-linecap: square" />
</g>
<g id="text_133">
<text style="font-size: 7px; font-family: 'DejaVu Sans', 'Liberation Sans', sans-serif; text-anchor: middle; fill: #e0e0e0" x="265.984294" y="1138.201091">0.0</text>
</g>
</g>
<g id="xtick_58">
<g id="line2d_207">
<path d="M 262.634269 1107.247068  L 267.078946 1108.668345  " style="fill: none; stroke: #e0e0e0; stroke-width: 0.8; stroke-linecap: square" />
</g>
<g id="text_134">
<text style="font-size: 7px; font-family: 'DejaVu Sans', 'Liberation Sans', sans-serif; text-anchor: middle; fill: #e0e0e0" x="276.869723" y="1126.76159">0.5</text>
</g>
</g>
<g id="xtick_59">
<g id="line2d_208">
<path d="M 273.434645 1096.183081  L 277.848663 1097.576156  " style="fill: none; stroke: #e0e0e0; stroke-width: 0.8; stroke-linecap: square" />
</g>
<g id="text_135">
<text style="font-size: 7px; font-family: 'DejaVu Sans', 'Liberation Sans', sans-serif; text-anchor: middle; fill: #e0e0e0" x="287.538013" y="1115.55028">1.0</text>
</g>
</g>
<g id="xtick_60">
<g id="line2d_209">
<path d="M 284.0219 1085.337416  L 288.405597 1086.70312  " style="fill: none; stroke: #e0e0e0; stroke-width: 0.8; stroke-linecap: square" />
</g>
<g id="text_136">
<text style="font-size: 7px; font-family: 'DejaVu Sans', 'Liberation Sans', sans-serif; text-anchor: middle; fill: #e0e0e0" x="297.995598" y="1104.5604">1.5</text>
</g>
</g>
<g id="xtick_61">
<g id="line2d_210">
<path d="M 294.40228 1074.703674  L 298.755993 1076.042807  " style="fill: none; stroke: #e0e0e0; stroke-width: 0.8; stroke-linecap: square" />
</g>
<g id="text_137">
<text style="font-size: 7px; font-family: 'DejaVu Sans', 'Liberation Sans', sans-serif; text-anchor: middle; fill: #e0e0e0" x="308.248658" y="1093.785454">2.0</text>
</g>
</g>
<g id="xtick_62">
<g id="line2d_211">
<path d="M 304.581791 1064.275705  L 308.905854 1065.589034  " style="fill: none; stroke: #e0e0e0; stroke-width: 0.8; stroke-linecap: square" />
</g>
<g id="text_138">
<text style="font-size: 7px; font-family: 'DejaVu Sans', 'Liberation Sans', sans-serif; text-anchor: middle; fill: #e0e0e0" x="318.303137" y="1083.219199">2.5</text>
</g>
</g>
<g id="xtick_63">
<g id="line2d_212">
<path d="M 314.566207 1054.047593  L 318.860951 1055.335856  " style="fill: none; stroke: #e0e0e0; stroke-width: 0.8; stroke-linecap: square" />
</g>
<g id="text_139">
<text style="font-size: 7px; font-family: 'DejaVu Sans', 'Liberation Sans', sans-serif; text-anchor: middle; fill: #e0e0e0" x="328.164747" y="1072.855629">3.0</text>
</g>
</g>
<g id="xtick_64">
<g id="line2d_213">
<path d="M 324.361084 1044.013646  L 328.626836 1045.277555  " style="fill: none; stroke: #e0e0e0; stroke-width: 0.8; stroke-linecap: square" />
</g>
<g id="text_140">
<text style="font-size: 7px; font-family: 'DejaVu Sans', 'Liberation Sans', sans-serif; text-anchor: middle; fill: #e0e0e0" x="337.838985" y="1062.688968">3.5</text>
</g>
</g>
<g id="xtick_65">
<g id="line2d_214">
<path d="M 333.971768 1034.168388  L 338.208855 1035.408627  " style="fill: none; stroke: #e0e0e0; stroke-width: 0.8; stroke-linecap: square" />
</g>
<g id="text_141">
<text style="font-size: 7px; font-family: 'DejaVu Sans', 'Liberation Sans', sans-serif; text-anchor: middle; fill: #e0e0e0" x="347.331142" y="1052.713656">4.0</text>
</g>
</g>
<g id="text_142">
<text style="font-size: 8px; font-family: 'DejaVu Sans', 'Liberation Sans', sans-serif; text-anchor: middle; fill: #e0e0e0" x="324.363221" y="1104.663855" transform="rotate(-45.742112 324.363221 1104.663855)">Grid Y</text>
</g>
</g>
<g id="axis3d_3">
<g id="line2d_215">
<path d="M 340.900717 1028.918941  L 346.877936 898.391752  " style="fill: none; stroke: #000000; stroke-width: 0.8; stroke-linecap: square" />
</g>
<g id="xtick_66">
<g id="line2d_216">
<path d="M 339.856059 1020.54052  L 344.088561 1021.761112  " style="fill: none; stroke: #e0e0e0; stroke-width: 0.8; stroke-linecap: square" />
</g>
<g id="text_143">
<text style="font-size: 7px; font-family: 'DejaVu Sans', 'Liberation Sans', sans-serif; text-anchor: middle; fill: #e0e0e0" x="359.571966" y="1024.113903">24</text>
</g>
</g>
<g id="xtick_67">
<g id="line2d_217">
<path d="M 340.688816 1002.15903  L 344.948974 1003.365253  " style="fill: none; stroke: #e0e0e0; stroke-width: 0.8; stroke-linecap: square" />
</g>
<g id="text_144">
<text style="font-size: 7px; font-family: 'DejaVu Sans', 'Liberation Sans', sans-serif; text-anchor: middle; fill: #e0e0e0" x="360.52669" y="1005.7582">26</text>
</g>
</g>
<g id="xtick_68">
<g id="line2d_218">
<path d="M 341.532116 983.544818  L 345.820293 984.736209  " style="fill: none; stroke: #e0e0e0; stroke-width: 0.8; stroke-linecap: square" />
</g>
<g id="text_145">
<text style="font-size: 7px; font-family: 'DejaVu Sans', 'Liberation Sans', sans-serif; text-anchor: middle; fill: #e0e0e0" x="361.493475" y="987.170605">28</text>
</g>
</g>
<g id="xtick_69">
<g id="line2d_219">
<path d="M 342.386161 964.693436  L 346.702728 965.869517  " style="fill: none; stroke: #e0e0e0; stroke-width: 0.8; stroke-linecap: square" />
</g>
<g id="text_146">
<text style="font-size: 7px; font-family: 'DejaVu Sans', 'Liberation Sans', sans-serif; text-anchor: middle; fill: #e0e0e0" x="362.472551" y="968.346693">30</text>
</g>
</g>
<g id="xtick_70">
<g id="line2d_220">
<path d="M 343.251157 945.600322  L 347.596492 946.7606  " style="fill: none; stroke: #e0e0e0; stroke-width: 0.8; stroke-linecap: square" />
</g>
<g id="text_147">
<text style="font-size: 7px; font-family: 'DejaVu Sans', 'Liberation Sans', sans-serif; text-anchor: middle; fill: #e0e0e0" x="363.464154" y="949.281931">32</text>
</g>
</g>
<g id="xtick_71">
<g id="line2d_221">
<path d="M 344.127317 926.260796  L 348.501805 927.404764  " style="fill: none; stroke: #e0e0e0; stroke-width: 0.8; stroke-linecap: square" />
</g>
<g id="text_148">
<text style="font-size: 7px; font-family: 'DejaVu Sans', 'Liberation Sans', sans-serif; text-anchor: middle; fill: #e0e0e0" x="364.468527" y="929.971666">34</text>
</g>
</g>
<g id="xtick_72">
<g id="line2d_222">
<path d="M 345.014858 906.670057  L 349.418892 907.797192  " style="fill: none; stroke: #e0e0e0; stroke-width: 0.8; stroke-linecap: square" />
</g>
<g id="text_149">
<text style="font-size: 7px; font-family: 'DejaVu Sans', 'Liberation Sans', sans-serif; text-anchor: middle; fill: #e0e0e0" x="365.485917" y="910.411124">36</text>
</g>
</g>
<g id="text_150">
<text style="font-size: 8px; font-family: 'DejaVu Sans', 'Liberation Sans', sans-serif; text-anchor: middle; fill: #e0e0e0" x="384.242058" y="961.830133">HPWL</text>
</g>
</g>
<g id="axes_7">
<g id="Path3DCollection_1">
<g clip-path="url(#pf12e785c0c)">
<path d="M 0 5  C 1.326016 5 2.597899 4.473168 3.535534 3.535534  C 4.473168 2.597899 5 1.326016 5 0  C 5 -1.326016 4.473168 -2.597899 3.535534 -3.535534  C 2.597899 -4.473168 1.326016 -5 0 -5  C -1.326016 -5 -2.597899 -4.473168 -3.535534 -3.535534  C -4.473168 -2.597899 -5 -1.326016 -5 0  C -5 1.326016 -4.473168 2.597899 -3.535534 3.535534  C -2.597899 4.473168 -1.326016 5 0 5  z " style="stroke: #39ff14; fill: #39ff14; stroke: #39ff14" transform="translate(147.527 1048.39)" />
</g>
</g>
<g id="text_151">
<text style="font-weight: 700; font-size: 10px; font-family: 'DejaVu Sans', 'Liberation Sans', sans-serif; fill: #e0e0e0" transform="translate(145.467 811.92)">3D HPWL Landscape</text>
<text style="font-weight: 700; font-size: 10px; font-family: 'DejaVu Sans', 'Liberation Sans', sans-serif; fill: #e0e0e0" transform="translate(147.222 823.584)">(C0 position sweep)</text>
</g>
<g id="Poly3DCollection_1">
<path d="M 155.486306 971.390482  L 176.867525 926.241399  L 213.134592 936.193792  L 191.861762 981.924089  z " clip-path="url(#pf12e785c0c)" style="fill: #c43e7f; fill-opacity: 0.8" />
<path d="M 133.474773 1008.240211  L 155.486306 971.390482  L 191.861762 981.924089  L 170.069058 1019.310326  z " clip-path="url(#pf12e785c0c)" style="fill: #6100a7; fill-opacity: 0.8" />
<path d="M 191.861762 981.924089  L 213.134592 936.193792  L 250.320763 936.968965  L 229.100447 983.352649  z " clip-path="url(#pf12e785c0c)" style="fill: #d24f71; fill-opacity: 0.8" />
<path d="M 170.069058 1019.310326  L 191.861762 981.924089  L 229.100447 983.352649  L 207.473351 1021.292123  z " clip-path="url(#pf12e785c0c)" style="fill: #7801a8; fill-opacity: 0.8" />
<path d="M 110.599225 1036.825376  L 133.474773 1008.240211  L 170.069058 1019.310326  L 147.526545 1048.391127  z " clip-path="url(#pf12e785c0c)" style="fill: #0d0887; fill-opacity: 0.8" />
<path d="M 229.100447 983.352649  L 250.320763 936.968965  L 288.821103 928.182341  L 267.599341 975.297293  z " clip-path="url(#pf12e785c0c)" style="fill: #f3854b; fill-opacity: 0.8" />
<path d="M 147.526545 1048.391127  L 170.069058 1019.310326  L 207.473351 1021.292123  L 185.212237 1050.828066  z " clip-path="url(#pf12e785c0c)" style="fill: #2f0596; fill-opacity: 0.8" />
<path d="M 207.473351 1021.292123  L 229.100447 983.352649  L 267.599341 975.297293  L 246.08911 1013.807937  z " clip-path="url(#pf12e785c0c)" style="fill: #b42e8d; fill-opacity: 0.8" />
<path d="M 85.807906 1038.219128  L 110.599225 1036.825376  L 147.526545 1048.391127  L 123.425715 1050.105688  z " clip-path="url(#pf12e785c0c)" style="fill: #2f0596; fill-opacity: 0.8" />
<path d="M 267.599341 975.297293  L 288.821103 928.182341  L 329.081903 909.237642  L 307.806216 957.167277  z " clip-path="url(#pf12e785c0c)" style="fill: #f0f921; fill-opacity: 0.8" />
<path d="M 185.212237 1050.828066  L 207.473351 1021.292123  L 246.08911 1013.807937  L 224.064921 1043.754997  z " clip-path="url(#pf12e785c0c)" style="fill: #7801a8; fill-opacity: 0.8" />
<path d="M 246.08911 1013.807937  L 267.599341 975.297293  L 307.806216 957.167277  L 286.368577 996.265835  z " clip-path="url(#pf12e785c0c)" style="fill: #f3854b; fill-opacity: 0.8" />
<path d="M 123.425715 1050.105688  L 147.526545 1048.391127  L 185.212237 1050.828066  L 161.759892 1052.633429  z " clip-path="url(#pf12e785c0c)" style="fill: #4903a0; fill-opacity: 0.8" />
<path d="M 224.064921 1043.754997  L 246.08911 1013.807937  L 286.368577 996.265835  L 264.544445 1026.57169  z " clip-path="url(#pf12e785c0c)" style="fill: #d24f71; fill-opacity: 0.8" />
<path d="M 161.759892 1052.633429  L 185.212237 1050.828066  L 224.064921 1043.754997  L 201.234904 1045.401197  z " clip-path="url(#pf12e785c0c)" style="fill: #8e0ca4; fill-opacity: 0.8" />
<path d="M 201.234904 1045.401197  L 224.064921 1043.754997  L 264.544445 1026.57169  L 242.328422 1027.776101  z " clip-path="url(#pf12e785c0c)" style="fill: #de6164; fill-opacity: 0.8" />
</g>
</g>
<g id="axes_8">
<g id="patch_80">
<path d="M 403.9200 1066.3200 L 419.7600 1066.3200 L 419.7600 908.6400 L 403.9200 908.6400 z" style="fill: #ffffff" />
</g>
<rect x="403.9200" y="908.6400" width="15.8400" height="157.6800" fill="url(#cbgrad1)" fill-opacity="0.800" />
<g id="matplotlib.axis_13" />
<g id="matplotlib.axis_14">
<g id="ytick_75">
<g id="line2d_223">
<g>
<path d="M 420.1200 1039.3200 L 423.7200 1039.3200" style="stroke: #e0e0e0; stroke-width: 0.8; fill: #e0e0e0; stroke: #e0e0e0; stroke-width: 0.8" />
</g>
</g>
<g id="text_152" transform="translate(0.288 0.000)">
<text style="font-size: 10px; font-family: 'DejaVu Sans', 'Liberation Sans', sans-serif; text-anchor: start" x="426.724" y="1042.714588">26</text>
</g>
</g>
<g id="ytick_76">
<g id="line2d_224">
<g>
<path d="M 420.1200 1001.8800 L 423.7200 1001.8800" style="stroke: #e0e0e0; stroke-width: 0.8; fill: #e0e0e0; stroke: #e0e0e0; stroke-width: 0.8" />
</g>
</g>
<g id="text_153" transform="translate(0.288 0.000)">
<text style="font-size: 10px; font-family: 'DejaVu Sans', 'Liberation Sans', sans-serif; text-anchor: start" x="426.724" y="1005.528706">28</text>
</g>
</g>
<g id="ytick_77">
<g id="line2d_225">
<g>
<path d="M 420.1200 964.4400 L 423.7200 964.4400" style="stroke: #e0e0e0; stroke-width: 0.8; fill: #e0e0e0; stroke: #e0e0e0; stroke-width: 0.8" />
</g>
</g>
<g id="text_154" transform="translate(0.288 0.000)">
<text style="font-size: 10px; font-family: 'DejaVu Sans', 'Liberation Sans', sans-serif; text-anchor: start" x="426.724" y="968.342824">30</text>
</g>
</g>
<g id="ytick_78">
<g id="line2d_226">
<g>
<path d="M 420.1200 927.7200 L 423.7200 927.7200" style="stroke: #e0e0e0; stroke-width: 0.8; fill: #e0e0e0; stroke: #e0e0e0; stroke-width: 0.8" />
</g>
</g>
<g id="text_155" transform="translate(0.288 0.000)">
<text style="font-size: 10px; font-family: 'DejaVu Sans', 'Liberation Sans', sans-serif; text-anchor: start" x="426.724" y="931.156941">32</text>
</g>
</g>
</g>
<g id="LineCollection_1" />
<g id="patch_81">
<path d="M 404.2800 1066.6800 L 412.2000 1066.6800 L 420.1200 1066.6800 L 420.1200 909.0000 L 412.2000 909.0000 L 404.2800 909.0000 L 404.2800 1066.6800 z" style="fill: none; stroke: #000000; stroke-width: 0.8; stroke-linejoin: miter; stroke-linecap: square" />
</g>
</g>
<g id="pane3d_4">
<g id="patch_82">
<path d="M 547.64822 1067.728802  L 652.028159 980.235467  L 650.577177 854.054438  L 541.20212 933.871373  " style="fill: none; opacity: 0.5; stroke: #2a2a4a; stroke-linejoin: miter" />
</g>
</g>
<g id="pane3d_5">
<g id="patch_83">
<path d="M 652.028159 980.235467  L 819.520717 1028.918941  L 825.497936 898.391752  L 650.577177 854.054438  " style="fill: none; opacity: 0.5; stroke: #2a2a4a; stroke-linejoin: miter" />
</g>
</g>
<g id="pane3d_6">
<g id="patch_84">
<path d="M 547.64822 1067.728802  L 725.198513 1125.716727  L 819.520717 1028.918941  L 652.028159 980.235467  " style="fill: none; opacity: 0.5; stroke: #2a2a4a; stroke-linejoin: miter" />
</g>
</g>
<g id="grid3d_4">
<g id="Line3DCollection_4">
<path d="M 558.401597 1071.240855  L 662.214543 983.196247  L 661.19425 856.745557  " style="fill: none; stroke: #b0b0b0; stroke-width: 0.8" />
<path d="M 577.000997 1077.315418  L 679.820374 988.313567  L 679.550892 861.39843  " style="fill: none; stroke: #b0b0b0; stroke-width: 0.8" />
<path d="M 595.811928 1083.459068  L 697.609856 993.484267  L 698.107287 866.101936  " style="fill: none; stroke: #b0b0b0; stroke-width: 0.8" />
<path d="M 614.838019 1089.67299  L 715.585876 998.709187  L 716.866714 870.856904  " style="fill: none; stroke: #b0b0b0; stroke-width: 0.8" />
<path d="M 634.082985 1095.958396  L 733.751386 1003.989183  L 735.832523 875.664183  " style="fill: none; stroke: #b0b0b0; stroke-width: 0.8" />
<path d="M 653.550622 1102.316526  L 752.109397 1009.325132  L 755.008139 880.524643  " style="fill: none; stroke: #b0b0b0; stroke-width: 0.8" />
<path d="M 673.244819 1108.748651  L 770.662984 1014.717927  L 774.397062 885.43917  " style="fill: none; stroke: #b0b0b0; stroke-width: 0.8" />
<path d="M 693.169554 1115.256069  L 789.415291 1020.168483  L 794.002871 890.408671  " style="fill: none; stroke: #b0b0b0; stroke-width: 0.8" />
<path d="M 713.328898 1121.840111  L 808.369527 1025.677731  L 813.829228 895.434074  " style="fill: none; stroke: #b0b0b0; stroke-width: 0.8" />
</g>
</g>
<g id="grid3d_5">
<g id="Line3DCollection_5">
<path d="M 548.765677 928.351834  L 554.84088 1061.699771  L 731.724879 1119.019069  " style="fill: none; stroke: #b0b0b0; stroke-width: 0.8" />
<path d="M 561.52652 919.039552  L 566.984518 1051.520733  L 742.734565 1107.720423  " style="fill: none; stroke: #b0b0b0; stroke-width: 0.8" />
<path d="M 574.034726 909.911633  L 578.898173 1041.534471  L 753.524742 1096.647047  " style="fill: none; stroke: #b0b0b0; stroke-width: 0.8" />
<path d="M 586.297724 900.962655  L 590.588317 1031.73556  L 764.101911 1085.79227  " style="fill: none; stroke: #b0b0b0; stroke-width: 0.8" />
<path d="M 598.322655 892.187409  L 602.061181 1022.118778  L 774.472317 1075.149682  " style="fill: none; stroke: #b0b0b0; stroke-width: 0.8" />
<path d="M 610.116384 883.580882  L 613.322768 1012.679093  L 784.641964 1064.713123  " style="fill: none; stroke: #b0b0b0; stroke-width: 0.8" />
<path d="M 621.685516 875.138257  L 624.378859 1003.411658  L 794.616626 1054.476665  " style="fill: none; stroke: #b0b0b0; stroke-width: 0.8" />
<path d="M 633.036406 866.854894  L 635.235029 994.311801  L 804.401858 1044.43461  " style="fill: none; stroke: #b0b0b0; stroke-width: 0.8" />
<path d="M 644.175172 858.72633  L 645.896653 985.375017  L 814.003005 1034.581471  " style="fill: none; stroke: #b0b0b0; stroke-width: 0.8" />
</g>
</g>
<g id="grid3d_6">
<g id="Line3DCollection_6">
<path d="M 819.973904 1019.022499  L 651.917932 970.649865  L 547.160244 1057.595668  " style="fill: none; stroke: #b0b0b0; stroke-width: 0.8" />
<path d="M 820.861645 999.636512  L 651.702113 951.881674  L 546.203994 1037.738523  " style="fill: none; stroke: #b0b0b0; stroke-width: 0.8" />
<path d="M 821.761237 979.991717  L 651.48355 932.874933  L 545.23449 1017.606138  " style="fill: none; stroke: #b0b0b0; stroke-width: 0.8" />
<path d="M 822.672919 960.082898  L 651.262192 913.625065  L 544.251454 997.19275  " style="fill: none; stroke: #b0b0b0; stroke-width: 0.8" />
<path d="M 823.596938 939.904695  L 651.037984 894.127374  L 543.2546 976.492435  " style="fill: none; stroke: #b0b0b0; stroke-width: 0.8" />
<path d="M 824.533544 919.451605  L 650.810871 874.377044  L 542.243635 955.4991  " style="fill: none; stroke: #b0b0b0; stroke-width: 0.8" />
<path d="M 825.482998 898.717971  L 650.580796 854.369133  L 541.218258 934.206479  " style="fill: none; stroke: #b0b0b0; stroke-width: 0.8" />
</g>
</g>
<g id="axis3d_4">
<g id="line2d_227">
<path d="M 547.64822 1067.728802  L 725.198513 1125.716727  " style="fill: none; stroke: #000000; stroke-width: 0.8; stroke-linecap: square" />
</g>
<g id="xtick_73">
<g id="line2d_228">
<path d="M 559.305594 1070.474167  L 556.589724 1072.777519  " style="fill: none; stroke: #e0e0e0; stroke-width: 0.8; stroke-linecap: square" />
</g>
<g id="text_156">
<text style="font-size: 7px; font-family: 'DejaVu Sans', 'Liberation Sans', sans-serif; text-anchor: middle; fill: #e0e0e0" x="550.87697" y="1092.702339">0.0</text>
</g>
</g>
<g id="xtick_74">
<g id="line2d_229">
<path d="M 577.896753 1076.540039  L 575.205618 1078.869523  " style="fill: none; stroke: #e0e0e0; stroke-width: 0.8; stroke-linecap: square" />
</g>
<g id="text_157">
<text style="font-size: 7px; font-family: 'DejaVu Sans', 'Liberation Sans', sans-serif; text-anchor: middle; fill: #e0e0e0" x="569.492193" y="1098.885072">0.5</text>
</g>
</g>
<g id="xtick_75">
<g id="line2d_230">
<path d="M 596.699197 1082.674849  L 594.033538 1085.030911  " style="fill: none; stroke: #e0e0e0; stroke-width: 0.8; stroke-linecap: square" />
</g>
<g id="text_158">
<text style="font-size: 7px; font-family: 'DejaVu Sans', 'Liberation Sans', sans-serif; text-anchor: middle; fill: #e0e0e0" x="588.319797" y="1105.138343">1.0</text>
</g>
</g>
<g id="xtick_76">
<g id="line2d_231">
<path d="M 615.716549 1088.879778  L 613.077126 1091.262876  " style="fill: none; stroke: #e0e0e0; stroke-width: 0.8; stroke-linecap: square" />
</g>
<g id="text_159">
<text style="font-size: 7px; font-family: 'DejaVu Sans', 'Liberation Sans', sans-serif; text-anchor: middle; fill: #e0e0e0" x="607.363439" y="1111.463368">1.5</text>
</g>
</g>
<g id="xtick_77">
<g id="line2d_232">
<path d="M 634.952514 1095.156036  L 632.340109 1097.566637  " style="fill: none; stroke: #e0e0e0; stroke-width: 0.8; stroke-linecap: square" />
</g>
<g id="text_160">
<text style="font-size: 7px; font-family: 'DejaVu Sans', 'Liberation Sans', sans-serif; text-anchor: middle; fill: #e0e0e0" x="626.626856" y="1117.861387">2.0</text>
</g>
</g>
<g id="xtick_78">
<g id="line2d_233">
<path d="M 654.410883 1101.504859  L 651.826302 1103.943443  " style="fill: none; stroke: #e0e0e0; stroke-width: 0.8; stroke-linecap: square" />
</g>
<g id="text_161">
<text style="font-size: 7px; font-family: 'DejaVu Sans', 'Liberation Sans', sans-serif; text-anchor: middle; fill: #e0e0e0" x="646.113877" y="1124.333673">2.5</text>
</g>
</g>
<g id="xtick_79">
<g id="line2d_234">
<path d="M 674.095537 1107.927514  L 671.539605 1110.394571  " style="fill: none; stroke: #e0e0e0; stroke-width: 0.8; stroke-linecap: square" />
</g>
<g id="text_162">
<text style="font-size: 7px; font-family: 'DejaVu Sans', 'Liberation Sans', sans-serif; text-anchor: middle; fill: #e0e0e0" x="665.828417" y="1130.881525">3.0</text>
</g>
</g>
<g id="xtick_80">
<g id="line2d_235">
<path d="M 694.010446 1114.425296  L 691.484014 1116.921327  " style="fill: none; stroke: #e0e0e0; stroke-width: 0.8; stroke-linecap: square" />
</g>
<g id="text_163">
<text style="font-size: 7px; font-family: 'DejaVu Sans', 'Liberation Sans', sans-serif; text-anchor: middle; fill: #e0e0e0" x="685.774485" y="1137.506275">3.5</text>
</g>
</g>
<g id="xtick_81">
<g id="line2d_236">
<path d="M 714.159673 1120.99953  L 711.663615 1123.525049  " style="fill: none; stroke: #e0e0e0; stroke-width: 0.8; stroke-linecap: square" />
</g>
<g id="text_164">
<text style="font-size: 7px; font-family: 'DejaVu Sans', 'Liberation Sans', sans-serif; text-anchor: middle; fill: #e0e0e0" x="705.956182" y="1144.209285">4.0</text>
</g>
</g>
<g id="text_165">
<text style="font-size: 8px; font-family: 'DejaVu Sans', 'Liberation Sans', sans-serif; text-anchor: middle; fill: #e0e0e0" x="617.142295" y="1133.237446" transform="rotate(-341.912962 617.142295 1133.237446)">Grid X</text>
</g>
</g>
<g id="axis3d_5">
<g id="line2d_237">
<path d="M 819.520717 1028.918941  L 725.198513 1125.716727  " style="fill: none; stroke: #000000; stroke-width: 0.8; stroke-linecap: square" />
</g>
<g id="xtick_82">
<g id="line2d_238">
<path d="M 730.234272 1118.536038  L 734.709948 1119.986381  " style="fill: none; stroke: #e0e0e0; stroke-width: 0.8; stroke-linecap: square" />
</g>
<g id="text_166">
<text style="font-size: 7px; font-family: 'DejaVu Sans', 'Liberation Sans', sans-serif; text-anchor: middle; fill: #e0e0e0" x="744.604294" y="1138.201091">0.0</text>
</g>
</g>
<g id="xtick_83">
<g id="line2d_239">
<path d="M 741.254269 1107.247068  L 745.698946 1108.668345  " style="fill: none; stroke: #e0e0e0; stroke-width: 0.8; stroke-linecap: square" />
</g>
<g id="text_167">
<text style="font-size: 7px; font-family: 'DejaVu Sans', 'Liberation Sans', sans-serif; text-anchor: middle; fill: #e0e0e0" x="755.489723" y="1126.76159">0.5</text>
</g>
</g>
<g id="xtick_84">
<g id="line2d_240">
<path d="M 752.054645 1096.183081  L 756.468663 1097.576156  " style="fill: none; stroke: #e0e0e0; stroke-width: 0.8; stroke-linecap: square" />
</g>
<g id="text_168">
<text style="font-size: 7px; font-family: 'DejaVu Sans', 'Liberation Sans', sans-serif; text-anchor: middle; fill: #e0e0e0" x="766.158013" y="1115.55028">1.0</text>
</g>
</g>
<g id="xtick_85">
<g id="line2d_241">
<path d="M 762.6419 1085.337416  L 767.025597 1086.70312  " style="fill: none; stroke: #e0e0e0; stroke-width: 0.8; stroke-linecap: square" />
</g>
<g id="text_169">
<text style="font-size: 7px; font-family: 'DejaVu Sans', 'Liberation Sans', sans-serif; text-anchor: middle; fill: #e0e0e0" x="776.615598" y="1104.5604">1.5</text>
</g>
</g>
<g id="xtick_86">
<g id="line2d_242">
<path d="M 773.02228 1074.703674  L 777.375993 1076.042807  " style="fill: none; stroke: #e0e0e0; stroke-width: 0.8; stroke-linecap: square" />
</g>
<g id="text_170">
<text style="font-size: 7px; font-family: 'DejaVu Sans', 'Liberation Sans', sans-serif; text-anchor: middle; fill: #e0e0e0" x="786.868658" y="1093.785454">2.0</text>
</g>
</g>
<g id="xtick_87">
<g id="line2d_243">
<path d="M 783.201791 1064.275705  L 787.525854 1065.589034  " style="fill: none; stroke: #e0e0e0; stroke-width: 0.8; stroke-linecap: square" />
</g>
<g id="text_171">
<text style="font-size: 7px; font-family: 'DejaVu Sans', 'Liberation Sans', sans-serif; text-anchor: middle; fill: #e0e0e0" x="796.923137" y="1083.219199">2.5</text>
</g>
</g>
<g id="xtick_88">
<g id="line2d_244">
<path d="M 793.186207 1054.047593  L 797.480951 1055.335856  " style="fill: none; stroke: #e0e0e0; stroke-width: 0.8; stroke-linecap: square" />
</g>
<g id="text_172">
<text style="font-size: 7px; font-family: 'DejaVu Sans', 'Liberation Sans', sans-serif; text-anchor: middle; fill: #e0e0e0" x="806.784747" y="1072.855629">3.0</text>
</g>
</g>
<g id="xtick_89">
<g id="line2d_245">
<path d="M 802.981084 1044.013646  L 807.246836 1045.277555  " style="fill: none; stroke: #e0e0e0; stroke-width: 0.8; stroke-linecap: square" />
</g>
<g id="text_173">
<text style="font-size: 7px; font-family: 'DejaVu Sans', 'Liberation Sans', sans-serif; text-anchor: middle; fill: #e0e0e0" x="816.458985" y="1062.688968">3.5</text>
</g>
</g>
<g id="xtick_90">
<g id="line2d_246">
<path d="M 812.591768 1034.168388  L 816.828855 1035.408627  " style="fill: none; stroke: #e0e0e0; stroke-width: 0.8; stroke-linecap: square" />
</g>
<g id="text_174">
<text style="font-size: 7px; font-family: 'DejaVu Sans', 'Liberation Sans', sans-serif; text-anchor: middle; fill: #e0e0e0" x="825.951142" y="1052.713656">4.0</text>
</g>
</g>
<g id="text_175">
<text style="font-size: 8px; font-family: 'DejaVu Sans', 'Liberation Sans', sans-serif; text-anchor: middle; fill: #e0e0e0" x="802.983221" y="1104.663855" transform="rotate(-45.742112 802.983221 1104.663855)">Grid Y</text>
</g>
</g>
<g id="axis3d_6">
<g id="line2d_247">
<path d="M 819.520717 1028.918941  L 825.497936 898.391752  " style="fill: none; stroke: #000000; stroke-width: 0.8; stroke-linecap: square" />
</g>
<g id="xtick_91">
<g id="line2d_248">
<path d="M 818.563227 1018.616455  L 822.798624 1019.835557  " style="fill: none; stroke: #e0e0e0; stroke-width: 0.8; stroke-linecap: square" />
</g>
<g id="text_176">
<text style="font-size: 7px; font-family: 'DejaVu Sans', 'Liberation Sans', sans-serif; text-anchor: middle; fill: #e0e0e0" x="838.291902" y="1022.192515">0.8</text>
</g>
</g>
<g id="xtick_92">
<g id="line2d_249">
<path d="M 819.441263 999.235529  L 823.70582 1000.439441  " style="fill: none; stroke: #e0e0e0; stroke-width: 0.8; stroke-linecap: square" />
</g>
<g id="text_177">
<text style="font-size: 7px; font-family: 'DejaVu Sans', 'Liberation Sans', sans-serif; text-anchor: middle; fill: #e0e0e0" x="839.298532" y="1002.838846">1.0</text>
</g>
</g>
<g id="xtick_93">
<g id="line2d_250">
<path d="M 820.331015 979.595967  L 824.625138 980.784174  " style="fill: none; stroke: #e0e0e0; stroke-width: 0.8; stroke-linecap: square" />
</g>
<g id="text_178">
<text style="font-size: 7px; font-family: 'DejaVu Sans', 'Liberation Sans', sans-serif; text-anchor: middle; fill: #e0e0e0" x="840.318567" y="983.227465">1.2</text>
</g>
</g>
<g id="xtick_94">
<g id="line2d_251">
<path d="M 821.232721 959.692558  L 825.556822 960.864528  " style="fill: none; stroke: #e0e0e0; stroke-width: 0.8; stroke-linecap: square" />
</g>
<g id="text_179">
<text style="font-size: 7px; font-family: 'DejaVu Sans', 'Liberation Sans', sans-serif; text-anchor: middle; fill: #e0e0e0" x="841.352275" y="963.35319">1.4</text>
</g>
</g>
<g id="xtick_95">
<g id="line2d_252">
<path d="M 822.146623 939.519949  L 826.501122 940.675132  " style="fill: none; stroke: #e0e0e0; stroke-width: 0.8; stroke-linecap: square" />
</g>
<g id="text_180">
<text style="font-size: 7px; font-family: 'DejaVu Sans', 'Liberation Sans', sans-serif; text-anchor: middle; fill: #e0e0e0" x="842.399934" y="943.210699">1.6</text>
</g>
</g>
<g id="xtick_96">
<g id="line2d_253">
<path d="M 823.07297 919.072641  L 827.458297 920.21047  " style="fill: none; stroke: #e0e0e0; stroke-width: 0.8; stroke-linecap: square" />
</g>
<g id="text_181">
<text style="font-size: 7px; font-family: 'DejaVu Sans', 'Liberation Sans', sans-serif; text-anchor: middle; fill: #e0e0e0" x="843.461827" y="922.794526">1.8</text>
</g>
</g>
<g id="xtick_97">
<g id="line2d_254">
<path d="M 824.012018 898.344985  L 828.428612 899.464872  " style="fill: none; stroke: #e0e0e0; stroke-width: 0.8; stroke-linecap: square" />
</g>
<g id="text_182">
<text style="font-size: 7px; font-family: 'DejaVu Sans', 'Liberation Sans', sans-serif; text-anchor: middle; fill: #e0e0e0" x="844.538248" y="902.099054">2.0</text>
</g>
</g>
<g id="text_183">
<text style="font-size: 8px; font-family: 'DejaVu Sans', 'Liberation Sans', sans-serif; text-anchor: middle; fill: #e0e0e0" x="864.2998" y="960.6329" transform="rotate(-87.378092 864.2998 960.6329)">Delay (RC)</text>
</g>
</g>
<g id="axes_9">
<g id="Path3DCollection_2">
<g clip-path="url(#p3dc75bd342)">
<path d="M 0 5  C 1.326016 5 2.597899 4.473168 3.535534 3.535534  C 4.473168 2.597899 5 1.326016 5 0  C 5 -1.326016 4.473168 -2.597899 3.535534 -3.535534  C 2.597899 -4.473168 1.326016 -5 0 -5  C -1.326016 -5 -2.597899 -4.473168 -3.535534 -3.535534  C -4.473168 -2.597899 -5 -1.326016 -5 0  C -5 1.326016 -4.473168 2.597899 -3.535534 3.535534  C -2.597899 4.473168 -1.326016 5 0 5  z " style="stroke: #00d4ff; fill: #00d4ff; stroke: #00d4ff" transform="translate(626.147 1048.39)" />
</g>
</g>
<g id="text_184">
<text style="font-weight: 700; font-size: 10px; font-family: 'DejaVu Sans', 'Liberation Sans', sans-serif; fill: #e0e0e0" transform="translate(624.897 811.92)">3D Delay Landscape</text>
<text style="font-weight: 700; font-size: 10px; font-family: 'DejaVu Sans', 'Liberation Sans', sans-serif; fill: #e0e0e0" transform="translate(625.842 823.584)">(C0 position sweep)</text>
</g>
<g id="Poly3DCollection_2">
<path d="M 634.266302 980.534783  L 655.615097 938.814455  L 691.727092 950.798033  L 670.540512 993.065827  z " clip-path="url(#p3dc75bd342)" style="fill: #7f1e6c; fill-opacity: 0.8" />
<path d="M 670.540512 993.065827  L 691.727092 950.798033  L 728.750737 950.298941  L 707.63434 995.134781  z " clip-path="url(#p3dc75bd342)" style="fill: #952667; fill-opacity: 0.8" />
<path d="M 612.106944 1008.72287  L 634.266302 980.534783  L 670.540512 993.065827  L 648.744961 1023.679421  z " clip-path="url(#p3dc75bd342)" style="fill: #190c3e; fill-opacity: 0.8" />
<path d="M 648.744961 1023.679421  L 670.540512 993.065827  L 707.63434 995.134781  L 686.093351 1030.135735  z " clip-path="url(#p3dc75bd342)" style="fill: #240c4f; fill-opacity: 0.8" />
<path d="M 707.63434 995.134781  L 728.750737 950.298941  L 767.209622 936.760191  L 745.995982 986.320487  z " clip-path="url(#p3dc75bd342)" style="fill: #e35933; fill-opacity: 0.8" />
<path d="M 589.024557 1030.98616  L 612.106944 1008.72287  L 648.744961 1023.679421  L 626.146545 1048.391127  z " clip-path="url(#p3dc75bd342)" style="fill: #010005; fill-opacity: 0.8" />
<path d="M 686.093351 1030.135735  L 707.63434 995.134781  L 745.995982 986.320487  L 724.550637 1025.827359  z " clip-path="url(#p3dc75bd342)" style="fill: #6c186e; fill-opacity: 0.8" />
<path d="M 626.146545 1048.391127  L 648.744961 1023.679421  L 686.093351 1030.135735  L 663.88174 1057.258694  z " clip-path="url(#p3dc75bd342)" style="fill: #000004; fill-opacity: 0.8" />
<path d="M 745.995982 986.320487  L 767.209622 936.760191  L 807.701903 909.237642  L 786.131851 965.926287  z " clip-path="url(#p3dc75bd342)" style="fill: #fcffa4; fill-opacity: 0.8" />
<path d="M 564.302599 1035.227785  L 589.024557 1030.98616  L 626.146545 1048.391127  L 602.191231 1055.113682  z " clip-path="url(#p3dc75bd342)" style="fill: #10092d; fill-opacity: 0.8" />
<path d="M 663.88174 1057.258694  L 686.093351 1030.135735  L 724.550637 1025.827359  L 702.61858 1055.346105  z " clip-path="url(#p3dc75bd342)" style="fill: #210c4a; fill-opacity: 0.8" />
<path d="M 724.550637 1025.827359  L 745.995982 986.320487  L 786.131851 965.926287  L 764.616714 1010.153199  z " clip-path="url(#p3dc75bd342)" style="fill: #e35933; fill-opacity: 0.8" />
<path d="M 602.191231 1055.113682  L 626.146545 1048.391127  L 663.88174 1057.258694  L 640.56422 1064.286647  z " clip-path="url(#p3dc75bd342)" style="fill: #08051d; fill-opacity: 0.8" />
<path d="M 702.61858 1055.346105  L 724.550637 1025.827359  L 764.616714 1010.153199  L 742.860679 1042.092653  z " clip-path="url(#p3dc75bd342)" style="fill: #952667; fill-opacity: 0.8" />
<path d="M 640.56422 1064.286647  L 663.88174 1057.258694  L 702.61858 1055.346105  L 679.887175 1060.388167  z " clip-path="url(#p3dc75bd342)" style="fill: #360961; fill-opacity: 0.8" />
<path d="M 679.887175 1060.388167  L 702.61858 1055.346105  L 742.860679 1042.092653  L 720.770408 1042.663101  z " clip-path="url(#p3dc75bd342)" style="fill: #ab2f5e; fill-opacity: 0.8" />
</g>
</g>
<g id="axes_10">
<g id="patch_85">
<path d="M 882.7200 1066.3200 L 898.5600 1066.3200 L 898.5600 908.6400 L 882.7200 908.6400 z" style="fill: #ffffff" />
</g>
<rect x="882.7200" y="908.6400" width="15.8400" height="157.6800" fill="url(#cbgrad2)" fill-opacity="0.800" />
<g id="matplotlib.axis_15" />
<g id="matplotlib.axis_16">
<g id="ytick_79">
<g id="line2d_255">
<g>
<path d="M 898.9200 1029.9600 L 902.5200 1029.9600" style="stroke: #000000; stroke-width: 0.8; stroke: #000000; stroke-width: 0.8" />
</g>
</g>
<g id="text_185" transform="translate(0.288 0.000)">
<text style="font-size: 10px; font-family: 'DejaVu Sans', 'Liberation Sans', sans-serif; text-anchor: start" x="905.344" y="1033.229676">1.0</text>
</g>
</g>
<g id="ytick_80">
<g id="line2d_256">
<g>
<path d="M 898.9200 986.7600 L 902.5200 986.7600" style="stroke: #000000; stroke-width: 0.8; stroke: #000000; stroke-width: 0.8" />
</g>
</g>
<g id="text_186" transform="translate(0.288 0.000)">
<text style="font-size: 10px; font-family: 'DejaVu Sans', 'Liberation Sans', sans-serif; text-anchor: start" x="905.344" y="990.516162">1.2</text>
</g>
</g>
<g id="ytick_81">
<g id="line2d_257">
<g>
<path d="M 898.9200 944.2800 L 902.5200 944.2800" style="stroke: #000000; stroke-width: 0.8; stroke: #000000; stroke-width: 0.8" />
</g>
</g>
<g id="text_187" transform="translate(0.288 0.000)">
<text style="font-size: 10px; font-family: 'DejaVu Sans', 'Liberation Sans', sans-serif; text-anchor: start" x="905.344" y="947.802649">1.4</text>
</g>
</g>
</g>
<g id="LineCollection_2" />
<g id="patch_86">
<path d="M 883.0800 1066.6800 L 891.0000 1066.6800 L 898.9200 1066.6800 L 898.9200 909.0000 L 891.0000 909.0000 L 883.0800 909.0000 L 883.0800 1066.6800 z" style="fill: none; stroke: #000000; stroke-width: 0.8; stroke-linejoin: miter; stroke-linecap: square" />
</g>
</g>
<g id="axes_11">
<g id="patch_87">
<path d="M 997.9200 1145.5200 L 1425.6000 1145.5200 L 1425.6000 829.4400 L 997.9200 829.4400 z" style="fill: #1a1a2e" />
</g>
<g id="patch_88">
<path d="M 1017.7200 1145.8800 L 1066.6800 1145.8800 L 1066.6800 844.9200 L 1017.7200 844.9200 z" clip-path="url(#p62e7d7aea4)" style="fill: #ff4444; opacity: 0.85; stroke: #ffffff; stroke-width: 0.5; stroke-linejoin: miter" />
</g>
<g id="patch_89">
<path d="M 1158.8400 1145.8800 L 1208.5200 1145.8800 L 1208.5200 966.6000 L 1158.8400 966.6000 z" clip-path="url(#p62e7d7aea4)" style="fill: #ff4444; opacity: 0.85; stroke: #ffffff; stroke-width: 0.5; stroke-linejoin: miter" />
</g>
<g id="patch_90">
<path d="M 1299.9600 1145.8800 L 1349.6400 1145.8800 L 1349.6400 957.9600 L 1299.9600 957.9600 z" clip-path="url(#p62e7d7aea4)" style="fill: #ff4444; opacity: 0.85; stroke: #ffffff; stroke-width: 0.5; stroke-linejoin: miter" />
</g>
<g id="patch_91">
<path d="M 1073.8800 1145.8800 L 1123.5600 1145.8800 L 1123.5600 973.8000 L 1073.8800 973.8000 z" clip-path="url(#p62e7d7aea4)" style="fill: #39ff14; opacity: 0.85; stroke: #ffffff; stroke-width: 0.5; stroke-linejoin: miter" />
</g>
<g id="patch_92">
<path d="M 1215.7200 1145.8800 L 1264.6800 1145.8800 L 1264.6800 1090.4400 L 1215.7200 1090.4400 z" clip-path="url(#p62e7d7aea4)" style="fill: #39ff14; opacity: 0.85; stroke: #ffffff; stroke-width: 0.5; stroke-linejoin: miter" />
</g>
<g id="patch_93">
<path d="M 1356.8400 1145.8800 L 1406.5200 1145.8800 L 1406.5200 1040.7600 L 1356.8400 1040.7600 z" clip-path="url(#p62e7d7aea4)" style="fill: #39ff14; opacity: 0.85; stroke: #ffffff; stroke-width: 0.5; stroke-linejoin: miter" />
</g>
<g id="matplotlib.axis_17">
<g id="xtick_98">
<g id="line2d_258">
<g>
<path d="M 1070.2800 1145.8800 L 1070.2800 1149.4800" style="stroke: #e0e0e0; stroke-width: 0.8; fill: #e0e0e0; stroke: #e0e0e0; stroke-width: 0.8" />
</g>
</g>
<g id="text_188" transform="translate(0.288 0.000)">
<text style="font-size: 8px; font-family: 'DejaVu Sans', 'Liberation Sans', sans-serif; text-anchor: middle; fill: #e0e0e0" x="1070.090182" y="1158.424">HPWL</text>
</g>
</g>
<g id="xtick_99">
<g id="line2d_259">
<g>
<path d="M 1212.1200 1145.8800 L 1212.1200 1149.4800" style="stroke: #e0e0e0; stroke-width: 0.8; fill: #e0e0e0; stroke: #e0e0e0; stroke-width: 0.8" />
</g>
</g>
<g id="text_189" transform="translate(0.288 0.000)">
<text style="font-size: 8px; font-family: 'DejaVu Sans', 'Liberation Sans', sans-serif; text-anchor: middle; fill: #e0e0e0" x="1211.472" y="1158.424">Delay (×10)</text>
</g>
</g>
<g id="xtick_100">
<g id="line2d_260">
<g>
<path d="M 1353.2400 1145.8800 L 1353.2400 1149.4800" style="stroke: #e0e0e0; stroke-width: 0.8; fill: #e0e0e0; stroke: #e0e0e0; stroke-width: 0.8" />
</g>
</g>
<g id="text_190" transform="translate(0.288 0.000)">
<text style="font-size: 8px; font-family: 'DejaVu Sans', 'Liberation Sans', sans-serif; text-anchor: middle; fill: #e0e0e0" x="1352.853818" y="1158.424">Total Cost</text>
</g>
</g>
</g>
<g id="matplotlib.axis_18">
<g id="ytick_82">
<g id="line2d_261">
<g>
<path d="M 998.2800 1145.8800 L 994.6800 1145.8800" style="stroke: #e0e0e0; stroke-width: 0.8; fill: #e0e0e0; stroke: #e0e0e0; stroke-width: 0.8" />
</g>
</g>
<g id="text_191" transform="translate(0.288 0.000)">
<text style="font-size: 8px; font-family: 'DejaVu Sans', 'Liberation Sans', sans-serif; text-anchor: end; fill: #e0e0e0" x="990.632" y="1148.544">0</text>
</g>
</g>
<g id="ytick_83">
<g id="line2d_262">
<g>
<path d="M 998.2800 1109.8800 L 994.6800 1109.8800" style="stroke: #e0e0e0; stroke-width: 0.8; fill: #e0e0e0; stroke: #e0e0e0; stroke-width: 0.8" />
</g>
</g>
<g id="text_192" transform="translate(0.288 0.000)">
<text style="font-size: 8px; font-family: 'DejaVu Sans', 'Liberation Sans', sans-serif; text-anchor: end; fill: #e0e0e0" x="990.632" y="1112.707265">5</text>
</g>
</g>
<g id="ytick_84">
<g id="line2d_263">
<g>
<path d="M 998.2800 1074.6000 L 994.6800 1074.6000" style="stroke: #e0e0e0; stroke-width: 0.8; fill: #e0e0e0; stroke: #e0e0e0; stroke-width: 0.8" />
</g>
</g>
<g id="text_193" transform="translate(0.288 0.000)">
<text style="font-size: 8px; font-family: 'DejaVu Sans', 'Liberation Sans', sans-serif; text-anchor: end; fill: #e0e0e0" x="990.632" y="1076.870531">10</text>
</g>
</g>
<g id="ytick_85">
<g id="line2d_264">
<g>
<path d="M 998.2800 1038.6000 L 994.6800 1038.6000" style="stroke: #e0e0e0; stroke-width: 0.8; fill: #e0e0e0; stroke: #e0e0e0; stroke-width: 0.8" />
</g>
</g>
<g id="text_194" transform="translate(0.288 0.000)">
<text style="font-size: 8px; font-family: 'DejaVu Sans', 'Liberation Sans', sans-serif; text-anchor: end; fill: #e0e0e0" x="990.632" y="1041.033796">15</text>
</g>
</g>
<g id="ytick_86">
<g id="line2d_265">
<g>
<path d="M 998.2800 1002.6000 L 994.6800 1002.6000" style="stroke: #e0e0e0; stroke-width: 0.8; fill: #e0e0e0; stroke: #e0e0e0; stroke-width: 0.8" />
</g>
</g>
<g id="text_195" transform="translate(0.288 0.000)">
<text style="font-size: 8px; font-family: 'DejaVu Sans', 'Liberation Sans', sans-serif; text-anchor: end; fill: #e0e0e0" x="990.632" y="1005.197061">20</text>
</g>
</g>
<g id="ytick_87">
<g id="line2d_266">
<g>
<path d="M 998.2800 966.6000 L 994.6800 966.6000" style="stroke: #e0e0e0; stroke-width: 0.8; fill: #e0e0e0; stroke: #e0e0e0; stroke-width: 0.8" />
</g>
</g>
<g id="text_196" transform="translate(0.288 0.000)">
<text style="font-size: 8px; font-family: 'DejaVu Sans', 'Liberation Sans', sans-serif; text-anchor: end; fill: #e0e0e0" x="990.632" y="969.360327">25</text>
</g>
</g>
<g id="ytick_88">
<g id="line2d_267">
<g>
<path d="M 998.2800 931.3200 L 994.6800 931.3200" style="stroke: #e0e0e0; stroke-width: 0.8; fill: #e0e0e0; stroke: #e0e0e0; stroke-width: 0.8" />
</g>
</g>
<g id="text_197" transform="translate(0.288 0.000)">
<text style="font-size: 8px; font-family: 'DejaVu Sans', 'Liberation Sans', sans-serif; text-anchor: end; fill: #e0e0e0" x="990.632" y="933.523592">30</text>
</g>
</g>
<g id="ytick_89">
<g id="line2d_268">
<g>
<path d="M 998.2800 895.3200 L 994.6800 895.3200" style="stroke: #e0e0e0; stroke-width: 0.8; fill: #e0e0e0; stroke: #e0e0e0; stroke-width: 0.8" />
</g>
</g>
<g id="text_198" transform="translate(0.288 0.000)">
<text style="font-size: 8px; font-family: 'DejaVu Sans', 'Liberation Sans', sans-serif; text-anchor: end; fill: #e0e0e0" x="990.632" y="897.686857">35</text>
</g>
</g>
<g id="ytick_90">
<g id="line2d_269">
<g>
<path d="M 998.2800 859.3200 L 994.6800 859.3200" style="stroke: #e0e0e0; stroke-width: 0.8; fill: #e0e0e0; stroke: #e0e0e0; stroke-width: 0.8" />
</g>
</g>
<g id="text_199" transform="translate(0.288 0.000)">
<text style="font-size: 8px; font-family: 'DejaVu Sans', 'Liberation Sans', sans-serif; text-anchor: end; fill: #e0e0e0" x="990.632" y="861.850122">40</text>
</g>
</g>
</g>
<g id="patch_94">
<path d="M 998.2800 1145.8800 L 998.2800 829.8000" style="fill: none; stroke: #2a2a4a; stroke-width: 0.8; stroke-linejoin: miter; stroke-linecap: square" />
</g>
<g id="patch_95">
<path d="M 1425.9600 1145.8800 L 1425.9600 829.8000" style="fill: none; stroke: #2a2a4a; stroke-width: 0.8; stroke-linejoin: miter; stroke-linecap: square" />
</g>
<g id="patch_96">
<path d="M 998.2800 1145.8800 L 1425.9600 1145.8800" style="fill: none; stroke: #2a2a4a; stroke-width: 0.8; stroke-linejoin: miter; stroke-linecap: square" />
</g>
<g id="patch_97">
<path d="M 998.2800 829.8000 L 1425.9600 829.8000" style="fill: none; stroke: #2a2a4a; stroke-width: 0.8; stroke-linejoin: miter; stroke-linecap: square" />
</g>
<g id="text_200">
<text style="font-weight: 700; font-size: 8px; font-family: 'DejaVu Sans', 'Liberation Sans', sans-serif; text-anchor: middle; fill: #39ff14" x="1070.090182" y="842.700245">−43%</text>
</g>
<g id="text_201">
<text style="font-weight: 700; font-size: 8px; font-family: 'DejaVu Sans', 'Liberation Sans', sans-serif; text-anchor: middle; fill: #39ff14" x="1211.472" y="964.545143">−69%</text>
</g>
<g id="text_202">
<text style="font-weight: 700; font-size: 8px; font-family: 'DejaVu Sans', 'Liberation Sans', sans-serif; text-anchor: middle; fill: #39ff14" x="1352.853818" y="955.944327">−44%</text>
</g>
<g id="text_203">
<text style="font-weight: 700; font-size: 11px; font-family: 'DejaVu Sans', 'Liberation Sans', sans-serif; text-anchor: middle; fill: #e0e0e0" x="1211.472" y="823.584">Optimization Summary</text>
</g>
<g id="legend_4">
<g id="patch_98">
<path d="M 1352.982 858.384  L 1419.712 858.384  Q 1421.312 858.384 1421.312 856.784  L 1421.312 835.184  Q 1421.312 833.584 1419.712 833.584  L 1352.982 833.584  Q 1351.382 833.584 1351.382 835.184  L 1351.382 856.784  Q 1351.382 858.384 1352.982 858.384  z " style="fill: #1a1a2e; opacity: 0.8; stroke: #cccccc; stroke-linejoin: miter" />
</g>
<g id="patch_99">
<path d="M 1354.6800 842.7600 L 1371.2400 842.7600 L 1371.2400 837.0000 L 1354.6800 837.0000 z" style="fill: #ff4444; opacity: 0.85; stroke: #ffffff; stroke-width: 0.5; stroke-linejoin: miter" />
</g>
<g id="text_204">
<text style="font-size: 8px; font-family: 'DejaVu Sans', 'Liberation Sans', sans-serif; text-anchor: start; fill: #e0e0e0" x="1376.982" y="842.544">Initial</text>
</g>
<g id="patch_100">
<path d="M 1354.6800 854.2800 L 1371.2400 854.2800 L 1371.2400 848.5200 L 1354.6800 848.5200 z" style="fill: #39ff14; opacity: 0.85; stroke: #ffffff; stroke-width: 0.5; stroke-linejoin: miter" />
</g>
<g id="text_205">
<text style="font-size: 8px; font-family: 'DejaVu Sans', 'Liberation Sans', sans-serif; text-anchor: start; fill: #e0e0e0" x="1376.982" y="853.744">Optimized</text>
</g>
</g>
</g>
<g id="text_206">
<text style="font-weight: 700; font-size: 15px; font-family: 'DejaVu Sans', 'Liberation Sans', sans-serif; text-anchor: middle; fill: #e0e0e0" x="716.4" y="18.576">LSI Layout Optimization — Simulated Annealing</text>
</g>
</g>
<defs>
<clipPath id="pe0b741d5a0">
<rect x="40.392" y="83.916" width="427.68" height="316.08" />
</clipPath>
<clipPath id="p495a6bb571">
<rect x="519.012" y="83.916" width="427.68" height="316.08" />
</clipPath>
<clipPath id="pa89850310d">
<rect x="997.632" y="83.916" width="427.68" height="316.08" />
</clipPath>
<clipPath id="p34f09e1779">
<rect x="40.392" y="456.8256" width="427.68" height="316.08" />
</clipPath>
<clipPath id="p73f370abc8">
<rect x="519.012" y="456.8256" width="427.68" height="316.08" />
</clipPath>
<clipPath id="p3719ef6239">
<rect x="997.632" y="456.8256" width="427.68" height="316.08" />
</clipPath>
<clipPath id="pf12e785c0c">
<rect x="45.162" y="829.584" width="316.08" height="316.08" />
</clipPath>
<clipPath id="p3dc75bd342">
<rect x="523.782" y="829.584" width="316.08" height="316.08" />
</clipPath>
<clipPath id="p62e7d7aea4">
<rect x="997.632" y="829.584" width="427.68" height="316.08" />
</clipPath>
</defs>
</svg>
</body></html>
